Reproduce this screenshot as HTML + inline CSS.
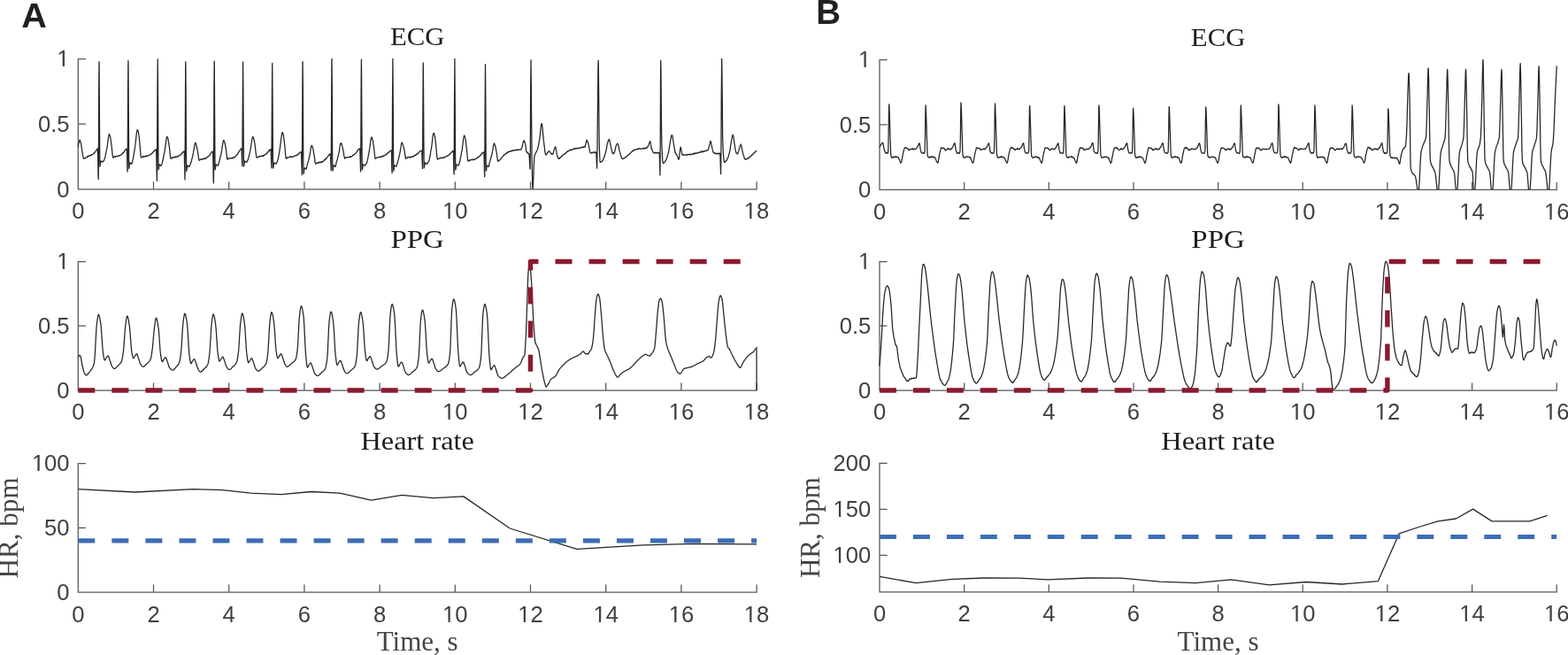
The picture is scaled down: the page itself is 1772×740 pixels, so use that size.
<!DOCTYPE html>
<html><head><meta charset="utf-8"><title>ECG PPG Heart rate</title>
<style>html,body{margin:0;padding:0;background:#fff;overflow:hidden;}svg{display:block;}</style>
</head><body>
<svg width="1772" height="740" viewBox="0 0 1772 740">
<rect x="0" y="0" width="1772" height="740" fill="#ffffff"/>
<defs>
<clipPath id="cecgA"><rect x="87.3" y="65.6" width="768.8000000000001" height="147.9"/></clipPath>
<clipPath id="cppgA"><rect x="87.3" y="294.5" width="768.8000000000001" height="146.1"/></clipPath>
<clipPath id="chrA"><rect x="87.3" y="522.5" width="768.8000000000001" height="146.30000000000004"/></clipPath>
<clipPath id="cecgB"><rect x="993.0" y="66.6" width="767.2" height="147.3"/></clipPath>
<clipPath id="cppgB"><rect x="993.0" y="294.5" width="767.2" height="146.1"/></clipPath>
<clipPath id="chrB"><rect x="993.0" y="522.4" width="767.2" height="146.1"/></clipPath>
</defs>
<path d="M88.3 66.6L88.3 213.9L855.1 213.9M88.3 213.9L96.3 213.9M88.3 140.2L96.3 140.2M88.3 66.6L96.3 66.6M88.3 213.9L88.3 205.9M173.5 213.9L173.5 205.9M258.7 213.9L258.7 205.9M343.9 213.9L343.9 205.9M429.1 213.9L429.1 205.9M514.3 213.9L514.3 205.9M599.5 213.9L599.5 205.9M684.7 213.9L684.7 205.9M769.9 213.9L769.9 205.9M855.1 213.9L855.1 205.9" fill="none" stroke="#555555" stroke-width="1.25" stroke-linecap="square"/>
<g font-family="'Liberation Sans', Arial, Helvetica, sans-serif" font-size="25.6" fill="#404040" clip-path="url(#nofoot)"><text x="64.36" y="222.7">0</text><text x="43.01" y="149.1">0.5</text><text x="64.36" y="75.4">1</text><text x="81.18" y="247.2">0</text><text x="166.38" y="247.2">2</text><text x="251.58" y="247.2">4</text><text x="336.78" y="247.2">6</text><text x="421.98" y="247.2">8</text><text x="500.06" y="247.2">10</text><text x="585.26" y="247.2">12</text><text x="670.46" y="247.2">14</text><text x="755.66" y="247.2">16</text><text x="840.86" y="247.2">18</text></g>
<path d="M88.3 295.5L88.3 441.0L855.1 441.0M88.3 441.0L96.3 441.0M88.3 368.2L96.3 368.2M88.3 295.5L96.3 295.5M88.3 441.0L88.3 433.0M173.5 441.0L173.5 433.0M258.7 441.0L258.7 433.0M343.9 441.0L343.9 433.0M429.1 441.0L429.1 433.0M514.3 441.0L514.3 433.0M599.5 441.0L599.5 433.0M684.7 441.0L684.7 433.0M769.9 441.0L769.9 433.0M855.1 441.0L855.1 433.0" fill="none" stroke="#555555" stroke-width="1.25" stroke-linecap="square"/>
<g font-family="'Liberation Sans', Arial, Helvetica, sans-serif" font-size="25.6" fill="#404040" clip-path="url(#nofoot)"><text x="64.36" y="449.8">0</text><text x="43.01" y="377.1">0.5</text><text x="64.36" y="304.3">1</text><text x="81.18" y="474.3">0</text><text x="166.38" y="474.3">2</text><text x="251.58" y="474.3">4</text><text x="336.78" y="474.3">6</text><text x="421.98" y="474.3">8</text><text x="500.06" y="474.3">10</text><text x="585.26" y="474.3">12</text><text x="670.46" y="474.3">14</text><text x="755.66" y="474.3">16</text><text x="840.86" y="474.3">18</text></g>
<path d="M88.3 523.5L88.3 669.2L855.1 669.2M88.3 669.2L96.3 669.2M88.3 596.4L96.3 596.4M88.3 523.5L96.3 523.5M88.3 669.2L88.3 661.2M173.5 669.2L173.5 661.2M258.7 669.2L258.7 661.2M343.9 669.2L343.9 661.2M429.1 669.2L429.1 661.2M514.3 669.2L514.3 661.2M599.5 669.2L599.5 661.2M684.7 669.2L684.7 661.2M769.9 669.2L769.9 661.2M855.1 669.2L855.1 661.2" fill="none" stroke="#555555" stroke-width="1.25" stroke-linecap="square"/>
<g font-family="'Liberation Sans', Arial, Helvetica, sans-serif" font-size="25.6" fill="#404040" clip-path="url(#nofoot)"><text x="64.36" y="678.0">0</text><text x="50.12" y="605.1">50</text><text x="35.89" y="532.3">100</text><text x="81.18" y="702.5">0</text><text x="166.38" y="702.5">2</text><text x="251.58" y="702.5">4</text><text x="336.78" y="702.5">6</text><text x="421.98" y="702.5">8</text><text x="500.06" y="702.5">10</text><text x="585.26" y="702.5">12</text><text x="670.46" y="702.5">14</text><text x="755.66" y="702.5">16</text><text x="840.86" y="702.5">18</text></g>
<text x="471.7" y="50.8" text-anchor="middle" font-family="'Liberation Serif', 'Times New Roman', serif" font-size="30" fill="#1e1e1e" textLength="61.5" lengthAdjust="spacingAndGlyphs">ECG</text>
<text x="471.7" y="279.7" text-anchor="middle" font-family="'Liberation Serif', 'Times New Roman', serif" font-size="30" fill="#1e1e1e" textLength="60.5" lengthAdjust="spacingAndGlyphs">PPG</text>
<text x="471.7" y="507.7" text-anchor="middle" font-family="'Liberation Serif', 'Times New Roman', serif" font-size="30" fill="#1e1e1e" textLength="128.5" lengthAdjust="spacingAndGlyphs">Heart rate</text>
<text x="471.7" y="734.5" text-anchor="middle" font-family="'Liberation Serif', 'Times New Roman', serif" font-size="31" fill="#454545" textLength="92" lengthAdjust="spacingAndGlyphs">Time, s</text>
<text transform="translate(20.0 596.4) rotate(-90)" x="0" y="0" text-anchor="middle" font-family="'Liberation Serif', 'Times New Roman', serif" font-size="31" fill="#454545" textLength="114" lengthAdjust="spacingAndGlyphs">HR, bpm</text>
<path d="M994.0 67.6L994.0 214.3L1759.2 214.3M994.0 214.3L1002.0 214.3M994.0 140.9L1002.0 140.9M994.0 67.6L1002.0 67.6M994.0 214.3L994.0 206.3M1089.7 214.3L1089.7 206.3M1185.3 214.3L1185.3 206.3M1281.0 214.3L1281.0 206.3M1376.6 214.3L1376.6 206.3M1472.2 214.3L1472.2 206.3M1567.9 214.3L1567.9 206.3M1663.6 214.3L1663.6 206.3M1759.2 214.3L1759.2 206.3" fill="none" stroke="#555555" stroke-width="1.25" stroke-linecap="square"/>
<g font-family="'Liberation Sans', Arial, Helvetica, sans-serif" font-size="25.6" fill="#404040" clip-path="url(#nofoot)"><text x="970.06" y="223.1">0</text><text x="948.71" y="149.8">0.5</text><text x="970.06" y="76.4">1</text><text x="986.88" y="247.6">0</text><text x="1082.53" y="247.6">2</text><text x="1178.18" y="247.6">4</text><text x="1273.83" y="247.6">6</text><text x="1369.48" y="247.6">8</text><text x="1458.01" y="247.6">10</text><text x="1553.66" y="247.6">12</text><text x="1649.31" y="247.6">14</text><text x="1744.96" y="247.6">16</text></g>
<path d="M994.0 295.5L994.0 441.0L1759.2 441.0M994.0 441.0L1002.0 441.0M994.0 368.2L1002.0 368.2M994.0 295.5L1002.0 295.5M994.0 441.0L994.0 433.0M1089.7 441.0L1089.7 433.0M1185.3 441.0L1185.3 433.0M1281.0 441.0L1281.0 433.0M1376.6 441.0L1376.6 433.0M1472.2 441.0L1472.2 433.0M1567.9 441.0L1567.9 433.0M1663.6 441.0L1663.6 433.0M1759.2 441.0L1759.2 433.0" fill="none" stroke="#555555" stroke-width="1.25" stroke-linecap="square"/>
<g font-family="'Liberation Sans', Arial, Helvetica, sans-serif" font-size="25.6" fill="#404040" clip-path="url(#nofoot)"><text x="970.06" y="449.8">0</text><text x="948.71" y="377.1">0.5</text><text x="970.06" y="304.3">1</text><text x="986.88" y="474.3">0</text><text x="1082.53" y="474.3">2</text><text x="1178.18" y="474.3">4</text><text x="1273.83" y="474.3">6</text><text x="1369.48" y="474.3">8</text><text x="1458.01" y="474.3">10</text><text x="1553.66" y="474.3">12</text><text x="1649.31" y="474.3">14</text><text x="1744.96" y="474.3">16</text></g>
<path d="M994.0 523.4L994.0 668.9L1759.2 668.9M994.0 627.3L1002.0 627.3M994.0 575.4L1002.0 575.4M994.0 523.4L1002.0 523.4M994.0 668.9L994.0 660.9M1089.7 668.9L1089.7 660.9M1185.3 668.9L1185.3 660.9M1281.0 668.9L1281.0 660.9M1376.6 668.9L1376.6 660.9M1472.2 668.9L1472.2 660.9M1567.9 668.9L1567.9 660.9M1663.6 668.9L1663.6 660.9M1759.2 668.9L1759.2 660.9" fill="none" stroke="#555555" stroke-width="1.25" stroke-linecap="square"/>
<g font-family="'Liberation Sans', Arial, Helvetica, sans-serif" font-size="25.6" fill="#404040" clip-path="url(#nofoot)"><text x="941.59" y="636.1">100</text><text x="941.59" y="584.2">150</text><text x="941.59" y="532.2">200</text><text x="986.88" y="702.2">0</text><text x="1082.53" y="702.2">2</text><text x="1178.18" y="702.2">4</text><text x="1273.83" y="702.2">6</text><text x="1369.48" y="702.2">8</text><text x="1458.01" y="702.2">10</text><text x="1553.66" y="702.2">12</text><text x="1649.31" y="702.2">14</text><text x="1744.96" y="702.2">16</text></g>
<text x="1376.6" y="51.8" text-anchor="middle" font-family="'Liberation Serif', 'Times New Roman', serif" font-size="30" fill="#1e1e1e" textLength="61.5" lengthAdjust="spacingAndGlyphs">ECG</text>
<text x="1376.6" y="279.7" text-anchor="middle" font-family="'Liberation Serif', 'Times New Roman', serif" font-size="30" fill="#1e1e1e" textLength="60.5" lengthAdjust="spacingAndGlyphs">PPG</text>
<text x="1376.6" y="507.6" text-anchor="middle" font-family="'Liberation Serif', 'Times New Roman', serif" font-size="30" fill="#1e1e1e" textLength="128.5" lengthAdjust="spacingAndGlyphs">Heart rate</text>
<text x="1376.6" y="734.5" text-anchor="middle" font-family="'Liberation Serif', 'Times New Roman', serif" font-size="31" fill="#454545" textLength="92" lengthAdjust="spacingAndGlyphs">Time, s</text>
<text transform="translate(926.0 596.1) rotate(-90)" x="0" y="0" text-anchor="middle" font-family="'Liberation Serif', 'Times New Roman', serif" font-size="31" fill="#454545" textLength="114" lengthAdjust="spacingAndGlyphs">HR, bpm</text>
<text x="24.2" y="30.8" font-family="'Liberation Sans', Arial, Helvetica, sans-serif" font-weight="bold" font-size="38.5" fill="#231f20" transform="translate(24.2 0) scale(1.03 1) translate(-24.2 0)">A</text>
<text x="922.3" y="26.5" font-family="'Liberation Sans', Arial, Helvetica, sans-serif" font-weight="bold" font-size="38.5" fill="#231f20">B</text>
<path d="M88.3 166.5L88.6 163.1L89.0 162.0L89.3 160.3L89.5 159.9L89.7 159.4L90.0 158.2L90.4 158.3L90.4 158.2L90.7 159.8L91.1 160.3L91.4 161.7L91.5 161.9L91.8 163.5L92.1 165.8L92.5 168.7L92.8 171.3L93.0 171.9L93.2 173.3L93.5 174.9L93.9 176.8L94.2 178.5L94.6 179.0L94.7 178.8L94.9 178.8L95.3 179.0L95.6 179.2L96.0 178.6L96.3 178.5L96.7 178.6L97.0 178.0L97.4 177.9L97.7 178.0L98.1 177.7L98.4 177.4L98.8 177.3L99.1 176.2L99.5 177.0L99.8 176.3L100.0 176.1L100.2 176.5L100.5 176.4L100.9 176.0L101.2 175.7L101.6 175.8L101.9 175.6L102.3 175.9L102.6 175.5L103.0 175.2L103.3 175.3L103.7 174.8L104.0 174.5L104.4 174.7L104.7 174.5L105.1 174.1L105.4 173.7L105.8 173.7L106.0 172.9L106.1 173.6L106.5 173.2L106.8 172.3L107.2 172.3L107.5 171.6L107.9 171.6L108.2 170.4L108.6 170.2L108.9 170.1L109.3 169.7L109.6 168.4L110.0 168.4L110.0 168.6L110.3 167.9L110.4 168.4L110.7 178.7L111.0 199.6L111.2 202.4L111.4 182.3L111.7 100.5L112.0 69.6L112.1 73.3L112.4 129.3L112.8 184.1L112.9 188.2L113.1 187.5L113.5 184.7L113.8 182.1L114.0 181.8L114.2 181.8L114.5 182.5L114.9 182.1L115.2 182.5L115.6 182.8L115.9 183.1L116.0 183.1L116.3 182.6L116.6 182.1L117.0 182.0L117.3 181.7L117.7 180.8L118.0 180.1L118.0 179.8L118.4 179.0L118.7 177.6L119.1 176.4L119.4 174.3L119.8 172.8L120.1 170.9L120.5 169.2L120.8 167.3L120.9 167.6L121.2 165.6L121.5 163.1L121.9 159.6L122.2 157.3L122.6 154.9L122.9 153.3L123.3 151.5L123.5 152.2L123.6 152.2L124.0 152.3L124.3 153.4L124.7 154.7L124.7 154.9L125.0 156.8L125.4 159.5L125.7 161.7L126.1 164.6L126.1 164.5L126.4 168.0L126.8 171.4L127.1 175.0L127.5 176.9L127.8 178.0L127.8 177.8L128.2 178.3L128.5 177.8L128.9 177.3L129.2 177.0L129.5 177.1L129.6 176.8L129.9 176.7L130.3 176.9L130.6 177.4L131.0 176.6L131.3 176.5L131.7 176.3L132.0 176.3L132.4 176.7L132.7 176.7L133.1 176.5L133.4 176.5L133.8 176.4L134.1 176.3L134.5 175.8L134.5 176.1L134.8 176.1L135.2 175.7L135.5 175.6L135.9 175.3L136.2 175.2L136.6 175.2L136.9 174.6L137.3 174.4L137.6 174.3L138.0 173.9L138.3 173.9L138.7 172.6L138.9 173.2L139.0 172.7L139.4 172.5L139.7 172.2L140.1 171.8L140.4 171.2L140.8 170.5L141.1 170.3L141.5 169.3L141.8 168.9L142.2 168.8L142.5 168.2L142.9 168.6L143.2 168.3L143.3 168.5L143.6 176.3L143.9 191.6L144.1 194.1L144.3 174.7L144.6 97.6L144.9 68.7L145.0 72.8L145.3 129.7L145.7 185.7L145.8 190.3L146.0 189.1L146.4 186.4L146.7 184.1L146.9 183.7L147.1 184.1L147.4 184.4L147.8 184.5L148.1 184.8L148.5 185.3L148.8 185.1L148.9 185.0L149.2 184.4L149.5 182.7L149.8 182.2L149.9 181.1L150.2 180.2L150.6 178.2L150.9 176.6L151.3 174.3L151.6 171.9L152.0 170.0L152.3 167.5L152.7 165.4L152.7 165.5L153.0 162.8L153.4 159.7L153.7 156.2L154.1 153.2L154.4 149.8L154.8 148.2L155.1 146.7L155.3 147.2L155.5 147.3L155.8 147.2L156.2 148.8L156.5 149.9L156.5 149.8L156.9 152.5L157.2 155.4L157.6 158.6L157.9 161.9L157.9 162.4L158.3 166.3L158.6 170.4L159.0 174.8L159.3 177.5L159.6 177.7L159.7 177.8L160.0 177.8L160.4 177.5L160.7 177.8L161.1 177.1L161.3 176.7L161.4 176.8L161.8 176.9L162.1 177.4L162.5 176.7L162.8 176.7L163.2 176.8L163.5 176.6L163.9 177.1L164.2 176.4L164.6 176.7L164.9 176.5L165.3 176.6L165.6 176.0L166.0 176.7L166.3 176.2L166.3 176.2L166.7 175.9L167.0 175.8L167.4 176.0L167.7 175.9L168.1 175.7L168.4 175.6L168.8 175.3L169.1 174.9L169.5 174.9L169.8 174.6L170.2 174.2L170.5 174.2L170.9 174.1L171.2 173.6L171.4 173.3L171.6 173.5L171.9 173.5L172.3 172.6L172.6 172.3L173.0 171.9L173.3 171.8L173.7 170.7L174.0 170.8L174.4 170.7L174.7 169.8L175.1 170.1L175.4 169.6L175.8 169.1L176.1 169.1L176.5 168.6L176.6 168.9L176.8 177.5L177.2 198.1L177.4 204.3L177.5 191.1L177.9 110.5L178.2 66.9L178.2 67.5L178.6 118.9L178.9 182.8L179.1 191.7L179.3 191.1L179.6 189.1L180.0 186.4L180.2 185.6L180.3 185.8L180.7 186.4L181.0 186.3L181.4 186.9L181.7 187.3L182.1 187.0L182.2 186.7L182.4 186.4L182.8 185.8L183.1 184.7L183.3 184.1L183.5 183.4L183.8 181.8L184.2 180.5L184.5 178.7L184.9 177.0L185.2 175.0L185.6 173.1L185.9 171.5L186.2 170.0L186.3 169.4L186.6 167.5L187.0 164.6L187.3 162.6L187.7 159.4L188.0 156.7L188.4 155.4L188.7 154.6L188.8 154.3L189.1 155.0L189.4 155.4L189.8 156.0L190.0 157.7L190.1 158.0L190.5 160.4L190.8 162.2L191.2 164.6L191.4 166.6L191.5 167.1L191.9 170.7L192.2 174.4L192.6 177.1L192.9 178.8L193.1 179.0L193.3 179.2L193.6 178.6L194.0 178.7L194.3 178.4L194.7 178.6L194.8 177.9L195.0 177.7L195.4 178.0L195.7 177.7L196.1 177.8L196.4 177.7L196.8 177.9L197.1 177.4L197.5 177.5L197.8 176.9L198.2 177.3L198.5 177.8L198.9 177.2L199.2 177.1L199.6 176.9L199.8 177.3L199.9 177.2L200.3 176.7L200.6 177.1L201.0 176.8L201.3 176.8L201.7 176.2L202.0 176.6L202.4 176.0L202.7 175.7L203.1 175.3L203.4 175.2L203.8 175.2L204.0 174.8L204.1 175.0L204.5 174.6L204.8 174.4L205.2 173.9L205.5 173.2L205.9 172.3L206.2 172.5L206.6 172.2L206.9 171.7L207.3 171.5L207.6 171.0L208.0 170.9L208.2 170.8L208.3 174.3L208.7 193.0L209.0 203.0L209.0 201.3L209.4 136.4L209.7 71.6L209.8 69.8L210.1 101.5L210.4 170.1L210.7 193.4L210.8 193.1L211.1 191.0L211.5 188.4L211.8 187.1L211.8 187.2L212.2 186.9L212.5 187.7L212.9 187.6L213.2 188.3L213.6 187.5L213.8 188.2L213.9 188.2L214.3 187.4L214.6 186.8L215.0 186.0L215.3 185.1L215.3 184.7L215.7 183.9L216.0 183.0L216.4 181.9L216.7 180.3L217.1 178.9L217.4 177.5L217.8 176.2L218.1 174.2L218.2 174.0L218.5 172.9L218.8 170.5L219.2 168.4L219.5 166.3L219.9 164.4L220.2 162.4L220.6 162.0L220.8 161.2L220.9 161.8L221.3 161.9L221.6 163.1L222.0 164.8L222.0 164.5L222.3 165.7L222.7 167.3L223.0 169.2L223.4 170.8L223.4 170.8L223.7 173.3L224.1 175.6L224.4 178.3L224.8 180.2L225.1 181.3L225.1 181.2L225.5 181.2L225.8 180.6L226.2 180.3L226.5 180.3L226.8 179.9L226.9 180.2L227.2 180.1L227.6 179.6L227.9 179.7L228.3 179.7L228.6 180.1L229.0 180.3L229.3 179.6L229.7 179.6L230.0 178.9L230.4 179.5L230.7 179.4L231.1 179.1L231.4 179.5L231.8 178.8L231.8 179.1L232.1 179.1L232.5 178.6L232.8 179.0L233.2 178.8L233.5 177.9L233.9 177.6L234.2 177.9L234.6 177.4L234.9 176.8L235.3 176.7L235.6 176.4L236.0 176.1L236.2 176.2L236.3 175.9L236.7 175.9L237.0 175.3L237.4 174.6L237.7 174.2L238.1 173.8L238.4 173.1L238.8 172.1L239.1 172.2L239.5 171.6L239.8 171.7L240.2 171.1L240.5 171.1L240.6 171.1L240.9 182.8L241.2 203.7L241.4 206.9L241.6 185.5L241.9 101.0L242.2 69.1L242.3 73.3L242.6 130.6L243.0 188.3L243.1 191.9L243.3 191.2L243.7 188.5L244.0 186.5L244.2 185.7L244.4 185.9L244.7 186.2L245.1 186.6L245.4 186.7L245.8 186.8L246.1 186.8L246.2 187.1L246.5 187.0L246.8 185.7L247.2 184.4L247.3 184.1L247.5 182.9L247.9 181.9L248.2 180.6L248.6 179.3L248.9 177.8L249.3 176.0L249.6 175.0L250.0 173.5L250.2 172.1L250.3 171.6L250.7 169.4L251.0 167.2L251.4 164.1L251.7 162.6L252.1 160.1L252.4 159.2L252.8 158.4L252.8 158.3L253.1 158.7L253.5 159.9L253.8 160.7L254.0 161.3L254.2 162.0L254.5 163.4L254.9 166.1L255.2 168.0L255.4 168.7L255.6 170.3L255.9 172.7L256.3 176.0L256.6 179.0L257.0 180.2L257.1 179.4L257.3 179.1L257.7 179.5L258.0 179.7L258.4 179.1L258.7 179.0L258.8 179.2L259.1 178.7L259.4 178.9L259.8 179.0L260.1 178.8L260.5 178.8L260.8 178.5L261.2 178.7L261.5 178.5L261.9 178.9L262.2 179.1L262.6 178.3L262.9 177.8L263.3 178.2L263.6 178.3L263.8 178.5L264.0 178.4L264.3 177.8L264.7 177.6L265.0 177.8L265.4 177.0L265.7 177.2L266.1 176.5L266.4 176.4L266.8 176.0L267.1 175.6L267.5 175.3L267.8 174.4L268.2 174.3L268.4 174.1L268.5 174.0L268.9 173.7L269.2 172.8L269.6 172.2L269.9 171.5L270.3 171.0L270.6 170.7L271.0 169.7L271.3 169.7L271.7 169.0L272.0 168.4L272.4 167.9L272.7 168.1L273.0 168.2L273.1 168.4L273.4 179.6L273.8 187.5L273.8 187.2L274.1 139.5L274.5 75.3L274.6 70.0L274.8 91.8L275.2 157.3L275.5 188.0L275.5 187.9L275.9 185.6L276.2 183.6L276.6 181.8L276.6 182.0L276.9 182.0L277.3 182.5L277.6 182.5L278.0 182.6L278.3 183.1L278.6 183.4L278.7 182.9L279.0 183.0L279.4 182.2L279.7 181.2L280.1 180.9L280.3 179.8L280.4 179.9L280.8 178.5L281.1 177.5L281.5 175.7L281.8 174.3L282.2 173.2L282.5 171.3L282.9 169.7L283.2 168.1L283.2 168.1L283.6 165.7L283.9 163.5L284.3 161.2L284.6 158.7L285.0 156.6L285.3 155.3L285.7 154.5L285.8 154.4L286.0 155.1L286.4 155.7L286.7 156.9L287.0 157.5L287.1 157.8L287.4 159.2L287.8 161.7L288.1 163.6L288.4 165.6L288.5 166.6L288.8 169.8L289.2 173.0L289.5 175.5L289.9 177.8L290.1 177.8L290.2 178.2L290.6 177.8L290.9 177.8L291.3 177.9L291.6 177.3L291.8 177.6L292.0 177.0L292.3 176.8L292.7 177.1L293.0 177.2L293.4 176.6L293.7 176.7L294.1 176.2L294.4 176.5L294.8 176.8L295.1 176.5L295.5 176.3L295.8 176.0L296.2 176.4L296.5 176.5L296.8 176.3L296.9 176.2L297.2 175.7L297.6 176.4L297.9 175.7L298.3 175.5L298.6 175.6L299.0 174.6L299.3 174.9L299.7 174.7L300.0 174.5L300.4 174.5L300.7 174.0L301.1 173.2L301.4 173.3L301.4 173.5L301.8 173.1L302.1 172.4L302.5 171.9L302.8 172.1L303.2 171.6L303.5 171.0L303.9 170.2L304.2 170.7L304.6 169.1L304.9 169.4L305.3 169.8L305.6 169.0L306.0 169.1L306.1 168.7L306.3 174.1L306.7 186.1L306.9 189.8L307.0 178.8L307.4 108.4L307.7 71.4L307.7 71.9L308.1 120.6L308.4 181.2L308.6 189.9L308.8 189.6L309.1 187.2L309.5 184.4L309.7 183.9L309.8 183.9L310.2 184.1L310.5 184.6L310.9 184.6L311.2 185.0L311.6 185.0L311.7 184.8L311.9 185.1L312.3 184.3L312.6 184.1L313.0 183.7L313.3 182.3L313.6 182.0L313.7 181.4L314.0 180.5L314.4 178.8L314.7 177.3L315.1 175.3L315.4 173.3L315.8 171.5L316.1 169.0L316.5 167.0L316.5 166.8L316.8 164.4L317.2 161.4L317.5 158.1L317.9 155.6L318.2 153.3L318.6 151.0L318.9 149.7L319.1 150.1L319.3 149.7L319.6 150.3L320.0 151.3L320.3 152.5L320.3 152.8L320.7 155.5L321.0 157.9L321.4 160.9L321.7 163.7L321.7 164.2L322.1 167.5L322.4 172.1L322.8 176.0L323.1 178.5L323.4 179.2L323.5 178.7L323.8 178.4L324.2 178.9L324.5 178.6L324.9 177.7L325.1 178.1L325.2 178.0L325.6 178.0L325.9 177.9L326.3 177.6L326.6 177.7L327.0 177.7L327.3 177.6L327.7 177.1L328.0 176.8L328.4 177.3L328.7 177.0L329.1 177.4L329.4 177.5L329.8 177.3L330.1 177.1L330.1 177.2L330.5 177.4L330.8 176.8L331.2 177.1L331.5 177.0L331.9 176.8L332.2 176.9L332.6 176.3L332.9 176.5L333.3 175.9L333.6 175.8L334.0 175.6L334.3 175.8L334.7 175.3L335.0 175.4L335.3 175.0L335.4 175.5L335.7 175.5L336.1 174.9L336.4 175.0L336.8 174.4L337.1 174.5L337.5 173.7L337.8 173.0L338.2 173.5L338.5 172.8L338.9 172.3L339.2 172.2L339.6 171.8L339.9 172.0L340.3 171.7L340.5 172.4L340.6 174.6L341.0 189.3L341.3 197.5L341.3 196.3L341.7 133.3L342.0 71.1L342.1 69.7L342.4 102.3L342.7 172.0L343.0 196.1L343.1 196.2L343.4 194.2L343.8 191.1L344.1 190.2L344.1 189.8L344.5 190.2L344.8 190.1L345.2 190.8L345.5 190.5L345.9 190.7L346.1 191.0L346.2 190.9L346.6 188.6L346.8 187.9L346.9 187.4L347.3 186.1L347.6 184.6L348.0 183.6L348.3 182.3L348.7 181.4L349.0 179.9L349.4 178.1L349.7 176.6L349.7 177.0L350.1 175.5L350.4 173.0L350.8 170.9L351.1 168.4L351.5 166.2L351.8 165.3L352.2 164.5L352.3 164.6L352.5 164.3L352.9 165.5L353.2 166.4L353.5 167.6L353.6 167.6L353.9 169.0L354.3 170.8L354.6 173.1L354.9 174.2L355.0 174.6L355.3 177.1L355.7 180.1L356.0 183.4L356.4 184.2L356.6 184.8L356.7 185.1L357.1 185.1L357.4 184.5L357.8 184.5L358.1 184.2L358.3 184.2L358.5 184.0L358.8 184.3L359.2 183.9L359.5 184.1L359.9 183.4L360.2 183.9L360.6 183.3L360.9 183.2L361.3 183.7L361.6 183.3L362.0 183.6L362.3 183.1L362.7 183.7L363.0 183.3L363.3 182.9L363.4 183.2L363.7 183.3L364.1 182.7L364.4 182.8L364.8 183.0L365.1 182.5L365.5 182.0L365.8 181.6L366.2 181.6L366.5 180.8L366.9 180.1L367.2 180.3L367.6 179.9L367.9 180.3L368.3 179.6L368.4 179.3L368.6 178.9L369.0 179.0L369.3 178.2L369.7 177.8L370.0 177.4L370.4 176.9L370.7 176.4L371.1 175.9L371.4 175.8L371.8 175.4L372.1 174.2L372.5 175.0L372.8 174.2L373.2 174.3L373.4 173.8L373.5 175.8L373.9 186.7L374.2 192.5L374.2 191.3L374.6 129.7L374.9 67.7L375.0 66.5L375.3 99.5L375.6 169.3L375.9 192.9L376.0 192.8L376.3 190.8L376.7 187.8L377.0 186.7L377.0 187.4L377.4 187.0L377.7 187.4L378.1 187.4L378.4 188.2L378.8 188.4L379.0 188.0L379.1 188.0L379.5 186.2L379.8 185.5L379.8 185.1L380.2 183.3L380.5 182.6L380.9 181.1L381.2 179.9L381.6 178.6L381.9 177.1L382.3 175.7L382.6 174.6L382.7 174.2L383.0 172.5L383.3 171.2L383.7 168.3L384.0 166.0L384.4 163.9L384.7 162.7L385.1 161.8L385.3 161.5L385.4 161.7L385.8 161.8L386.1 163.2L386.5 164.3L386.5 164.4L386.8 165.7L387.2 166.3L387.5 169.0L387.9 169.5L387.9 169.8L388.2 171.9L388.6 174.4L388.9 176.7L389.3 177.7L389.6 178.7L389.6 179.2L390.0 178.7L390.3 178.4L390.7 177.8L391.0 178.4L391.3 178.1L391.4 177.8L391.7 177.9L392.1 177.8L392.4 177.5L392.8 177.6L393.1 177.7L393.5 177.8L393.8 177.9L394.2 177.6L394.5 177.4L394.9 177.6L395.2 177.3L395.6 177.0L395.9 177.6L396.3 177.1L396.3 177.2L396.6 177.3L397.0 176.7L397.3 176.9L397.7 176.7L398.0 176.3L398.4 176.2L398.7 175.7L399.1 175.0L399.4 175.2L399.8 174.8L400.1 174.9L400.5 174.5L400.8 174.0L401.2 173.8L401.5 173.8L401.5 173.8L401.9 173.3L402.2 172.9L402.6 172.3L402.9 171.9L403.3 171.6L403.6 170.9L404.0 170.5L404.3 169.7L404.7 169.1L405.0 168.7L405.4 168.6L405.7 168.8L406.1 168.5L406.4 167.8L406.8 167.6L406.8 168.2L407.1 178.5L407.5 192.2L407.6 193.9L407.8 164.3L408.2 87.2L408.4 67.2L408.5 76.6L408.9 140.0L409.2 190.7L409.3 191.9L409.6 190.7L409.9 188.4L410.3 185.9L410.4 185.6L410.6 186.2L411.0 186.5L411.3 186.8L411.7 187.0L412.0 186.5L412.4 186.8L412.4 186.9L412.7 186.9L413.1 186.0L413.4 186.0L413.8 185.4L414.1 184.3L414.4 184.0L414.5 184.1L414.8 182.7L415.2 181.7L415.5 180.1L415.9 178.2L416.2 176.4L416.6 174.3L416.9 172.7L417.3 170.4L417.3 170.4L417.6 168.6L418.0 165.7L418.3 163.2L418.7 160.6L419.0 158.0L419.4 156.2L419.7 155.4L419.9 155.3L420.1 154.8L420.4 155.6L420.8 157.4L421.1 158.2L421.1 157.8L421.5 159.6L421.8 162.1L422.2 164.3L422.5 166.7L422.5 166.9L422.9 170.0L423.2 172.9L423.6 176.5L423.9 179.0L424.2 178.8L424.3 179.3L424.6 179.1L425.0 178.8L425.3 178.3L425.7 177.8L425.9 177.8L426.0 178.2L426.4 178.1L426.7 178.1L427.1 178.0L427.4 177.9L427.8 177.5L428.1 177.3L428.5 177.6L428.8 177.7L429.2 177.5L429.5 177.1L429.9 177.3L430.2 177.0L430.6 177.3L430.9 176.9L430.9 177.2L431.3 177.2L431.6 177.0L432.0 177.2L432.3 176.5L432.7 176.0L433.0 176.7L433.4 176.6L433.7 176.4L434.1 175.9L434.4 175.8L434.8 175.5L435.1 175.0L435.5 174.9L435.8 175.0L436.2 174.5L436.5 174.9L436.6 174.0L436.9 174.1L437.2 174.2L437.6 173.5L437.9 173.0L438.3 172.6L438.6 172.4L439.0 172.6L439.3 172.0L439.7 171.7L440.0 171.1L440.4 171.1L440.7 170.6L441.1 170.2L441.4 170.1L441.8 170.1L442.1 170.3L442.3 170.0L442.5 174.2L442.8 190.3L443.1 195.6L443.2 189.9L443.5 119.3L443.9 66.6L443.9 66.5L444.2 109.1L444.6 177.0L444.8 193.1L444.9 192.6L445.3 190.6L445.6 187.5L445.9 186.8L446.0 187.0L446.3 187.0L446.7 187.5L447.0 187.6L447.4 187.7L447.7 188.0L447.9 187.9L448.1 187.4L448.4 186.2L448.8 184.8L448.8 184.9L449.1 183.8L449.5 182.8L449.8 181.4L450.2 180.4L450.5 179.0L450.9 177.3L451.2 176.3L451.6 174.7L451.7 173.9L451.9 172.9L452.3 171.0L452.6 168.5L453.0 166.4L453.3 164.1L453.7 162.5L454.0 161.2L454.3 161.1L454.4 161.0L454.7 161.8L455.1 162.3L455.4 163.9L455.5 164.3L455.8 165.1L456.1 166.3L456.5 167.9L456.8 169.1L456.9 169.3L457.2 171.1L457.5 173.7L457.9 176.5L458.2 178.0L458.6 179.3L458.6 178.6L458.9 178.7L459.3 178.7L459.6 178.7L460.0 178.0L460.3 177.5L460.3 178.1L460.7 177.9L461.0 177.6L461.4 177.5L461.7 177.5L462.1 177.7L462.4 177.8L462.8 177.2L463.1 178.1L463.5 177.5L463.8 177.4L464.2 177.6L464.5 177.4L464.9 177.9L465.2 177.5L465.3 177.1L465.6 177.0L465.9 176.9L466.3 176.8L466.6 176.9L467.0 176.5L467.3 176.9L467.7 176.3L468.0 176.1L468.4 176.2L468.7 175.2L469.1 175.3L469.4 175.5L469.8 175.1L470.1 174.9L470.5 174.8L470.8 174.4L471.0 174.4L471.2 173.9L471.5 173.6L471.9 174.0L472.2 173.2L472.6 172.9L472.9 173.1L473.3 172.6L473.6 171.9L474.0 171.5L474.3 171.3L474.7 170.7L475.0 170.8L475.4 170.5L475.7 170.3L476.1 170.3L476.4 170.2L476.7 170.5L476.8 171.3L477.1 181.6L477.5 190.4L477.5 189.9L477.8 141.5L478.2 76.5L478.3 71.0L478.5 93.5L478.9 159.5L479.2 189.8L479.2 189.7L479.6 188.3L479.9 185.8L480.3 184.1L480.3 183.6L480.6 183.9L481.0 184.3L481.3 185.0L481.7 185.0L482.0 185.2L482.3 185.3L482.4 184.9L482.7 185.0L483.1 184.7L483.4 183.8L483.8 183.5L484.1 183.0L484.5 181.9L484.6 182.2L484.8 181.6L485.2 180.4L485.5 178.4L485.9 176.8L486.2 175.1L486.6 172.9L486.9 170.3L487.3 168.4L487.5 167.6L487.6 166.3L488.0 163.8L488.3 161.4L488.7 157.8L489.0 154.9L489.4 152.4L489.7 150.8L490.1 150.8L490.1 150.4L490.4 150.5L490.8 151.4L491.1 152.8L491.3 153.6L491.5 154.2L491.8 157.1L492.2 160.0L492.5 163.5L492.7 164.8L492.9 166.8L493.2 170.5L493.6 174.7L493.9 178.2L494.3 179.6L494.4 180.0L494.6 180.1L495.0 180.0L495.3 179.5L495.7 179.2L496.0 179.1L496.1 178.8L496.4 178.9L496.7 178.9L497.1 178.8L497.4 178.5L497.8 178.6L498.1 178.1L498.5 178.8L498.8 178.4L499.2 178.6L499.5 178.2L499.9 178.4L500.2 178.5L500.6 178.6L500.9 177.9L501.1 178.4L501.3 178.1L501.6 177.8L502.0 178.0L502.3 177.7L502.7 177.6L503.0 177.3L503.4 177.4L503.7 177.1L504.1 176.9L504.4 176.5L504.8 176.4L505.1 176.4L505.5 176.4L505.8 175.9L506.2 176.1L506.5 175.5L506.7 175.1L506.9 175.4L507.2 174.8L507.6 174.8L507.9 174.6L508.3 173.9L508.6 173.6L509.0 173.9L509.3 173.0L509.7 172.6L510.0 172.4L510.4 171.9L510.7 171.6L511.1 171.5L511.4 170.6L511.8 171.4L512.1 170.7L512.3 170.7L512.5 175.2L512.8 191.2L513.1 197.0L513.2 191.7L513.5 119.6L513.9 66.7L513.9 66.5L514.2 108.7L514.6 176.3L514.8 192.0L514.9 191.8L515.3 189.6L515.6 186.8L515.9 185.8L516.0 185.9L516.3 186.5L516.7 186.4L517.0 186.7L517.4 186.8L517.7 187.0L517.9 187.1L518.1 186.9L518.4 186.2L518.8 185.1L519.1 183.9L519.2 184.1L519.5 183.2L519.8 181.8L520.2 180.0L520.5 178.1L520.9 176.6L521.2 174.6L521.6 172.1L521.9 170.7L522.1 169.8L522.3 168.9L522.6 165.6L523.0 162.7L523.3 160.3L523.7 157.0L524.0 155.1L524.4 153.6L524.7 153.1L524.7 152.9L525.1 153.8L525.4 155.0L525.8 156.1L525.9 156.5L526.1 157.5L526.5 160.5L526.8 163.4L527.2 166.6L527.3 166.8L527.5 169.6L527.9 173.2L528.2 177.5L528.6 180.6L528.9 181.7L529.0 182.0L529.3 182.2L529.6 181.8L530.0 181.6L530.3 181.0L530.7 180.8L530.7 180.7L531.0 180.9L531.4 181.1L531.7 180.9L532.1 180.7L532.4 180.4L532.8 180.7L533.1 180.5L533.5 180.1L533.8 180.1L534.2 180.4L534.5 180.2L534.9 180.8L535.2 180.3L535.6 180.0L535.7 180.1L535.9 180.5L536.3 179.8L536.6 180.1L537.0 179.8L537.3 179.9L537.7 179.5L538.0 179.1L538.4 179.1L538.7 178.7L539.1 178.7L539.4 178.2L539.8 178.5L540.1 177.7L540.5 177.6L540.8 177.1L541.2 177.1L541.3 177.0L541.5 176.8L541.9 176.7L542.2 176.0L542.6 175.5L542.9 175.6L543.3 174.9L543.6 174.3L544.0 174.4L544.3 173.9L544.7 172.7L545.0 172.9L545.4 172.9L545.7 172.6L546.1 172.1L546.4 172.5L546.8 171.8L546.9 171.9L547.1 178.4L547.5 195.2L547.7 199.7L547.8 188.0L548.2 112.5L548.5 72.7L548.5 73.2L548.9 122.6L549.2 184.5L549.4 193.0L549.6 192.7L549.9 189.9L550.3 187.5L550.5 187.0L550.6 187.1L551.0 187.1L551.3 187.4L551.7 187.8L552.0 188.2L552.4 188.0L552.5 188.2L552.7 187.0L553.0 184.7L553.1 184.1L553.4 183.4L553.8 182.0L554.1 180.5L554.5 179.5L554.8 178.0L555.2 176.8L555.5 176.0L555.9 174.2L555.9 174.8L556.2 172.7L556.6 170.9L556.9 169.0L557.3 166.9L557.6 164.4L558.0 163.3L558.3 161.9L558.5 162.0L558.7 162.3L559.0 163.3L559.4 164.0L559.7 165.2L559.7 165.3L560.1 166.3L560.4 168.2L560.8 170.4L561.1 171.5L561.1 172.0L561.5 174.5L561.8 176.9L562.2 180.0L562.5 181.9L562.8 182.4L562.9 182.3L563.2 181.8L563.6 181.5L563.9 181.2L564.3 180.9L564.5 180.8L564.6 181.1L565.0 181.0L565.3 180.1L565.7 180.1L566.0 179.2L566.4 179.0L566.7 178.5L567.1 177.9L567.4 177.9L567.8 177.4L568.1 176.9L568.5 176.4L568.8 175.9L569.2 175.7L569.5 175.2L569.9 175.1L570.2 174.4L570.5 174.6L570.6 174.6L570.9 174.5L571.3 174.2L571.6 173.7L572.0 173.3L572.3 172.7L572.7 173.0L573.0 173.1L573.4 173.0L573.7 171.7L574.1 172.0L574.4 171.9L574.8 171.5L575.1 171.7L575.5 171.5L575.8 171.2L576.2 171.1L576.5 170.6L576.6 170.8L576.9 170.7L577.2 171.0L577.6 170.2L577.9 170.4L578.3 170.6L578.6 170.2L579.0 170.3L579.3 169.8L579.7 170.0L580.0 170.0L580.4 170.3L580.7 169.8L581.1 169.9L581.4 169.5L581.8 169.4L582.1 169.7L582.5 169.5L582.6 169.7L582.8 169.5L583.2 169.8L583.5 169.8L583.9 169.0L584.2 169.7L584.6 169.3L584.9 169.3L585.3 169.2L585.6 169.4L586.0 168.9L586.3 169.0L586.7 169.0L587.0 169.2L587.4 169.3L587.7 169.3L588.1 169.1L588.4 168.9L588.5 168.6L588.8 168.9L589.1 168.2L589.5 167.4L589.8 166.7L590.2 165.2L590.3 165.0L590.5 163.6L590.9 162.7L591.2 161.0L591.6 159.5L591.9 159.1L592.0 158.7L592.3 159.0L592.6 160.1L593.0 160.5L593.3 161.5L593.6 162.2L593.7 162.6L594.0 164.8L594.4 168.4L594.7 170.5L595.0 171.7L595.1 171.6L595.4 172.1L595.8 171.9L596.1 172.2L596.5 173.3L596.8 173.4L597.2 173.2L597.5 173.6L597.9 174.4L598.0 174.2L598.2 177.4L598.6 184.2L598.9 190.6L599.1 190.9L599.3 176.4L599.6 109.6L600.0 68.4L600.0 67.8L600.3 92.2L600.7 139.4L601.0 170.1L601.0 173.4L601.4 193.4L601.7 208.6L602.1 214.4L602.1 214.7L602.4 210.3L602.8 201.0L603.0 196.1L603.1 192.7L603.5 183.5L603.8 177.8L603.9 177.8L604.2 175.8L604.5 174.8L604.9 174.1L605.2 172.8L605.6 172.5L605.9 171.6L606.3 171.4L606.6 170.6L607.0 170.0L607.3 169.1L607.4 169.0L607.7 168.0L608.0 166.0L608.4 165.4L608.7 163.2L609.1 161.1L609.4 159.2L609.8 157.4L609.8 157.0L610.1 154.7L610.5 151.4L610.8 148.2L611.2 144.6L611.5 142.1L611.9 140.2L612.2 139.5L612.2 139.8L612.6 140.7L612.9 143.0L613.3 146.9L613.6 150.9L614.0 154.9L614.3 158.4L614.5 160.2L614.7 161.2L615.0 164.2L615.4 167.0L615.7 170.2L616.1 172.3L616.4 173.9L616.8 174.6L616.9 175.1L617.1 175.1L617.5 174.2L617.8 173.8L618.2 173.6L618.5 173.1L618.8 172.2L618.9 172.3L619.2 172.2L619.6 171.4L619.9 171.0L620.3 170.8L620.5 170.6L620.6 170.9L621.0 171.2L621.3 171.2L621.7 172.1L622.0 172.8L622.4 173.0L622.5 173.2L622.7 173.1L623.1 173.9L623.4 173.6L623.8 174.6L624.1 174.2L624.5 174.2L624.6 174.2L624.8 174.1L625.2 173.1L625.5 171.7L625.9 170.3L626.2 169.3L626.3 169.2L626.6 168.1L626.9 167.4L627.3 166.1L627.6 165.8L627.6 165.8L628.0 167.1L628.3 168.3L628.7 170.5L629.0 173.2L629.3 174.4L629.4 174.7L629.7 175.3L630.1 177.1L630.4 178.4L630.8 179.0L631.1 178.8L631.1 179.1L631.5 178.7L631.8 178.7L632.2 179.4L632.5 178.8L632.9 178.0L633.2 177.7L633.6 177.9L633.9 177.3L634.3 177.2L634.6 176.6L635.0 176.3L635.3 176.1L635.7 175.5L635.9 175.1L636.0 175.2L636.4 175.0L636.7 174.9L637.1 174.6L637.4 174.3L637.8 174.1L638.1 173.5L638.5 173.7L638.8 173.6L639.2 172.9L639.5 172.5L639.9 172.5L640.2 172.1L640.6 171.7L640.9 171.4L641.3 171.0L641.6 170.7L641.8 171.1L642.0 171.1L642.3 170.3L642.7 170.4L643.0 170.3L643.4 170.0L643.7 169.7L644.1 169.7L644.4 169.1L644.8 169.5L645.1 169.3L645.5 169.7L645.8 169.3L646.2 168.9L646.5 168.8L646.9 169.2L647.2 169.0L647.6 168.6L647.7 168.5L647.9 168.1L648.3 168.3L648.6 168.2L649.0 168.0L649.3 168.5L649.7 167.6L650.0 167.9L650.4 168.0L650.7 168.0L651.1 168.2L651.4 167.4L651.8 167.5L652.1 167.6L652.5 167.6L652.8 167.4L653.2 167.3L653.5 167.7L653.9 167.1L654.2 167.1L654.6 167.6L654.9 167.6L655.3 167.3L655.6 166.8L656.0 166.7L656.3 166.7L656.7 166.5L657.0 166.6L657.2 167.0L657.4 166.7L657.7 166.4L658.1 166.3L658.4 166.2L658.8 166.7L659.1 165.8L659.5 166.3L659.8 165.8L660.2 165.8L660.5 165.5L660.9 166.0L661.2 165.5L661.3 166.2L661.6 164.6L661.9 162.9L662.3 161.4L662.6 159.6L663.0 158.4L663.1 157.9L663.3 158.9L663.7 159.2L664.0 160.1L664.4 160.9L664.7 162.4L665.0 162.9L665.1 163.3L665.4 164.8L665.8 167.0L666.1 168.6L666.5 170.5L666.8 172.2L667.2 172.7L667.3 172.7L667.5 172.6L667.9 172.9L668.2 172.5L668.6 172.7L668.9 173.1L669.3 172.7L669.6 172.3L670.0 172.2L670.0 172.5L670.3 172.1L670.7 172.0L671.0 172.2L671.4 172.0L671.7 172.5L672.1 171.9L672.4 172.6L672.8 171.9L673.1 172.1L673.5 172.3L673.8 172.1L673.8 172.5L674.2 180.9L674.5 189.4L674.6 190.1L674.9 178.5L675.2 146.1L675.6 107.3L675.9 76.5L676.2 68.4L676.3 70.5L676.6 103.3L677.0 145.7L677.2 159.6L677.3 165.5L677.7 175.9L678.0 182.5L678.2 183.1L678.4 183.4L678.7 183.3L679.1 182.9L679.4 182.7L679.8 182.6L680.1 182.6L680.5 182.2L680.5 182.0L680.8 181.7L681.2 181.5L681.5 180.1L681.9 179.9L682.2 178.7L682.6 178.4L682.9 176.9L683.3 176.0L683.6 174.6L684.0 173.7L684.3 172.7L684.5 172.4L684.7 170.9L685.0 169.4L685.4 168.5L685.7 165.7L686.1 163.6L686.4 162.3L686.5 161.3L686.8 161.5L687.1 160.0L687.5 158.6L687.8 158.5L688.2 157.6L688.4 157.4L688.5 157.9L688.9 158.6L689.2 159.8L689.6 161.6L689.9 163.1L690.3 164.8L690.5 166.2L690.6 166.9L691.0 168.4L691.3 170.1L691.7 171.5L692.0 172.8L692.4 173.2L692.5 173.9L692.7 173.3L693.1 173.4L693.4 173.1L693.8 172.4L694.1 172.9L694.5 171.9L694.5 171.8L694.8 171.2L695.2 169.4L695.5 167.9L695.9 165.9L696.2 164.8L696.5 164.0L696.6 163.5L696.9 163.5L697.3 162.7L697.6 162.0L698.0 162.2L698.1 162.2L698.3 162.8L698.7 163.3L699.0 165.5L699.4 167.2L699.7 169.2L700.0 169.9L700.1 170.3L700.4 171.7L700.8 172.5L701.1 173.6L701.5 175.3L701.8 176.4L702.2 177.5L702.5 178.5L702.9 178.9L703.2 179.6L703.5 179.4L703.6 179.4L703.9 179.6L704.3 179.4L704.6 179.1L705.0 179.0L705.3 178.6L705.7 178.4L706.0 178.4L706.4 178.3L706.7 177.7L707.1 177.7L707.4 177.7L707.8 177.4L708.1 176.6L708.5 176.5L708.8 176.1L709.2 175.8L709.5 175.6L709.9 175.2L710.0 175.2L710.2 174.9L710.6 174.5L710.9 174.3L711.3 174.1L711.6 173.9L712.0 173.4L712.3 173.2L712.7 173.0L713.0 172.1L713.4 171.9L713.7 171.8L714.1 171.4L714.4 170.8L714.8 171.0L715.1 170.5L715.5 170.0L715.8 170.5L716.2 169.5L716.5 169.7L716.9 169.3L716.9 169.5L717.2 169.5L717.6 169.1L717.9 169.1L718.3 169.0L718.6 168.7L719.0 169.1L719.3 168.8L719.7 168.6L720.0 168.4L720.4 168.4L720.7 168.5L721.1 168.2L721.4 168.6L721.8 167.6L722.0 167.7L722.1 168.1L722.5 167.7L722.8 168.1L723.2 167.9L723.5 168.2L723.9 168.1L724.2 168.3L724.6 168.2L724.9 168.3L725.3 168.1L725.6 168.2L726.0 168.0L726.3 167.7L726.7 167.6L727.0 167.6L727.4 168.0L727.7 167.2L728.1 167.8L728.4 167.5L728.8 167.9L729.1 167.7L729.5 167.4L729.8 167.5L730.0 166.9L730.2 167.5L730.5 167.4L730.9 166.5L731.2 166.9L731.6 166.2L731.9 165.8L732.3 164.8L732.6 164.8L733.0 164.2L733.0 164.0L733.3 162.8L733.7 162.0L734.0 160.8L734.4 159.8L734.6 159.8L734.7 159.5L735.1 160.9L735.4 163.0L735.8 165.2L736.1 167.6L736.2 167.1L736.5 167.8L736.8 169.3L737.2 169.9L737.5 171.2L737.9 172.0L738.2 172.2L738.5 172.3L738.6 172.2L738.9 172.5L739.3 172.3L739.6 173.0L740.0 172.7L740.3 172.5L740.7 172.2L741.0 173.1L741.4 172.9L741.7 172.7L742.1 172.7L742.4 172.7L742.8 172.5L743.1 173.1L743.5 172.7L743.8 172.3L744.2 172.5L744.5 172.1L744.9 172.9L745.2 173.0L745.2 173.6L745.6 185.8L745.9 197.3L746.0 197.8L746.3 147.2L746.6 70.7L746.7 68.5L747.0 83.8L747.3 122.4L747.7 155.9L747.8 160.0L748.0 166.6L748.4 174.5L748.7 180.4L749.1 183.6L749.3 184.2L749.4 184.4L749.8 184.3L750.1 184.3L750.5 184.0L750.8 183.6L751.2 182.7L751.5 182.7L751.9 182.4L752.0 181.7L752.2 181.4L752.6 180.8L752.9 180.1L753.3 179.4L753.6 178.3L754.0 177.5L754.3 176.0L754.7 175.0L755.0 173.6L755.4 172.2L755.5 172.3L755.7 170.9L756.1 169.0L756.4 166.5L756.8 164.4L757.1 162.1L757.5 160.0L757.5 159.6L757.8 158.4L758.2 156.4L758.5 154.5L758.9 153.2L759.2 152.6L759.3 152.6L759.6 152.6L759.9 154.1L760.3 156.0L760.6 157.9L761.0 160.1L761.3 162.5L761.3 162.4L761.7 164.4L762.0 166.8L762.4 168.6L762.7 170.8L763.0 172.0L763.1 172.6L763.4 172.4L763.8 173.2L764.1 174.3L764.5 174.4L764.8 174.9L765.0 175.3L765.2 175.4L765.5 176.4L765.9 177.7L766.2 178.8L766.6 179.2L766.9 180.3L767.1 179.6L767.3 179.5L767.6 178.5L768.0 174.5L768.3 171.5L768.7 168.1L769.0 166.5L769.2 166.2L769.4 166.5L769.7 168.1L770.1 170.3L770.4 172.2L770.8 174.1L771.1 174.5L771.2 175.0L771.5 174.8L771.8 175.1L772.2 174.7L772.5 174.8L772.9 175.2L773.2 175.1L773.6 175.0L773.9 174.8L774.3 174.9L774.6 175.1L775.0 175.2L775.3 174.9L775.7 174.9L776.0 175.1L776.0 174.7L776.4 175.2L776.7 175.0L777.1 174.9L777.4 174.3L777.8 174.5L778.1 174.6L778.5 174.7L778.8 174.5L779.2 174.8L779.5 174.7L779.9 174.5L780.2 174.0L780.6 174.8L780.9 174.3L781.3 174.5L781.6 174.1L782.0 174.2L782.3 174.3L782.7 174.1L783.0 174.2L783.4 173.8L783.7 174.3L784.1 173.2L784.4 173.5L784.8 173.8L785.0 173.4L785.1 173.4L785.5 173.0L785.8 173.6L786.2 172.8L786.5 173.3L786.9 173.1L787.2 173.2L787.6 173.3L787.9 172.7L788.3 172.6L788.6 172.6L789.0 172.2L789.3 172.7L789.7 172.3L790.0 172.4L790.4 172.0L790.7 172.1L791.1 171.9L791.4 171.9L791.8 171.6L792.1 172.0L792.5 171.5L792.8 170.9L793.2 171.6L793.5 171.3L793.9 171.1L794.2 171.8L794.6 171.1L794.9 170.7L795.0 170.8L795.3 171.0L795.6 170.8L796.0 171.1L796.3 171.0L796.7 170.4L797.0 170.6L797.4 170.6L797.7 170.3L798.1 170.2L798.4 170.4L798.8 170.2L799.1 169.6L799.5 169.6L799.8 169.5L800.0 169.5L800.2 169.1L800.5 168.8L800.9 167.1L801.2 165.8L801.6 164.8L801.8 163.4L801.9 163.1L802.3 161.9L802.6 159.8L803.0 159.3L803.0 159.8L803.3 160.2L803.7 161.5L804.0 163.4L804.4 165.0L804.6 166.1L804.7 166.5L805.1 168.7L805.4 169.7L805.8 170.9L806.1 172.0L806.5 172.5L806.5 172.1L806.8 172.5L807.2 173.2L807.5 172.7L807.9 173.0L808.2 173.5L808.6 173.7L808.9 173.1L809.3 173.8L809.6 173.4L810.0 173.9L810.0 173.6L810.3 173.4L810.7 173.7L811.0 173.6L811.4 173.3L811.7 174.0L812.1 173.4L812.4 173.8L812.8 173.4L813.1 173.0L813.5 173.2L813.8 173.5L813.8 173.9L814.2 185.5L814.5 196.4L814.6 196.5L814.9 172.6L815.2 114.2L815.6 70.0L815.7 66.3L815.9 78.4L816.3 116.4L816.6 153.1L816.8 159.8L817.0 164.8L817.3 172.0L817.7 177.2L818.0 181.1L818.4 182.9L818.5 183.3L818.7 183.3L819.1 183.4L819.4 182.7L819.8 182.2L820.1 182.3L820.5 181.9L820.8 181.5L821.2 181.2L821.5 180.3L821.5 180.6L821.9 179.6L822.2 179.2L822.6 178.5L822.9 177.3L823.3 176.4L823.6 174.8L824.0 173.7L824.3 172.6L824.5 171.7L824.7 170.9L825.0 169.8L825.4 167.0L825.7 164.4L826.1 162.0L826.4 160.6L826.5 159.3L826.8 158.2L827.1 156.4L827.5 154.2L827.8 153.1L828.2 152.2L828.2 152.5L828.5 153.1L828.9 154.7L829.2 157.0L829.6 159.4L829.9 162.0L830.0 161.9L830.3 163.7L830.6 166.3L831.0 168.8L831.3 170.6L831.7 171.8L831.8 172.1L832.0 172.8L832.4 172.9L832.7 173.1L833.1 174.1L833.4 173.7L833.5 173.4L833.8 173.1L834.1 172.8L834.5 171.2L834.8 170.4L835.2 169.0L835.5 168.3L835.5 167.6L835.9 167.0L836.2 165.1L836.6 164.4L836.9 163.9L837.3 163.5L837.3 162.9L837.6 164.1L838.0 165.4L838.3 167.1L838.7 168.9L839.0 170.9L839.3 171.8L839.4 172.5L839.7 173.7L840.1 175.1L840.4 176.2L840.8 176.9L841.1 178.3L841.5 179.6L841.8 179.4L842.2 180.0L842.3 179.8L842.5 179.7L842.9 180.0L843.2 180.0L843.6 179.9L843.9 179.7L844.3 179.6L844.6 178.8L845.0 179.2L845.3 178.9L845.7 178.6L846.0 178.5L846.0 178.2L846.4 178.5L846.7 177.8L847.1 177.3L847.4 177.4L847.8 177.0L848.1 176.8L848.5 176.8L848.8 176.1L849.2 175.8L849.5 175.9L849.9 174.7L850.2 174.8L850.6 174.6L850.9 174.4L851.0 174.5L851.3 173.5L851.6 173.5L852.0 173.0L852.3 172.6L852.7 172.3L853.0 171.8L853.4 171.9L853.7 171.7L854.1 170.9L854.4 171.0L854.8 170.4L855.1 170.0" fill="none" stroke="#262626" stroke-width="1.28" stroke-linejoin="round" clip-path="url(#cecgA)"/>
<path d="M994.0 165.8L994.4 165.9L994.7 165.0L995.1 164.1L995.4 163.5L995.5 163.1L995.8 163.3L996.1 162.7L996.5 162.4L996.8 162.0L997.2 161.3L997.5 161.2L997.6 161.7L997.9 161.5L998.2 163.3L998.6 165.4L998.9 166.8L999.2 168.6L999.3 168.7L999.6 170.1L1000.0 171.0L1000.3 172.0L1000.5 172.4L1000.7 172.8L1001.0 172.7L1001.4 172.8L1001.7 172.5L1002.1 173.0L1002.4 172.8L1002.8 173.0L1003.0 173.1L1003.1 173.2L1003.5 172.3L1003.7 171.0L1003.8 169.1L1004.2 148.0L1004.5 123.0L1004.7 117.9L1004.9 119.3L1005.2 127.4L1005.6 140.3L1005.9 150.2L1005.9 151.9L1006.3 163.3L1006.6 172.6L1006.8 175.5L1007.0 176.1L1007.3 177.2L1007.7 177.8L1008.0 178.4L1008.1 178.3L1008.4 177.7L1008.7 177.8L1009.1 177.3L1009.4 178.2L1009.8 177.6L1010.1 177.5L1010.5 177.0L1010.8 177.2L1011.2 177.3L1011.5 177.1L1011.6 177.1L1011.9 177.0L1012.2 177.7L1012.6 177.1L1012.9 176.9L1013.3 177.2L1013.6 177.4L1014.0 177.5L1014.3 177.6L1014.7 177.5L1015.0 177.9L1015.0 178.1L1015.4 177.9L1015.7 179.3L1016.1 180.0L1016.4 180.0L1016.8 181.3L1017.1 182.5L1017.5 183.4L1017.8 184.1L1018.2 183.5L1018.3 183.7L1018.5 183.6L1018.9 182.7L1019.2 180.4L1019.6 178.6L1019.9 176.5L1020.2 175.1L1020.3 174.4L1020.6 173.3L1021.0 171.6L1021.3 169.9L1021.7 169.0L1022.0 167.5L1022.4 167.4L1022.5 166.8L1022.7 167.4L1023.1 167.4L1023.4 166.8L1023.8 167.2L1024.1 167.2L1024.5 167.0L1024.8 167.6L1025.2 167.6L1025.4 167.3L1025.5 167.6L1025.9 168.2L1026.2 168.5L1026.6 168.9L1026.9 169.8L1027.1 169.2L1027.3 169.6L1027.6 169.7L1028.0 169.4L1028.3 168.5L1028.7 168.7L1029.0 168.5L1029.4 168.3L1029.7 168.4L1030.0 168.3L1030.1 168.2L1030.4 168.3L1030.8 168.5L1031.1 168.6L1031.5 167.8L1031.8 168.9L1032.2 168.3L1032.5 168.7L1032.9 168.1L1033.2 168.4L1033.6 168.3L1033.9 168.9L1034.1 168.8L1034.3 168.6L1034.6 168.4L1035.0 168.3L1035.3 167.7L1035.7 167.4L1036.0 166.9L1036.4 166.9L1036.5 166.5L1036.7 165.9L1037.1 165.6L1037.4 164.8L1037.8 164.1L1038.1 162.8L1038.5 162.4L1038.8 162.4L1039.0 161.7L1039.2 161.9L1039.5 164.0L1039.9 166.6L1040.2 169.1L1040.3 169.4L1040.6 170.2L1040.9 171.8L1041.3 172.3L1041.5 172.3L1041.6 172.6L1042.0 172.7L1042.3 172.9L1042.7 173.1L1043.0 173.4L1043.4 172.6L1043.7 172.9L1044.1 172.5L1044.4 173.0L1044.4 173.1L1044.8 172.3L1045.1 170.8L1045.1 170.7L1045.5 155.3L1045.8 130.2L1046.1 119.7L1046.2 119.0L1046.5 125.8L1046.9 136.8L1047.2 148.2L1047.2 150.1L1047.6 159.7L1047.9 170.8L1048.2 175.4L1048.3 176.1L1048.6 176.7L1049.0 177.7L1049.3 178.1L1049.5 177.8L1049.7 177.5L1050.0 177.5L1050.4 177.8L1050.7 177.9L1051.1 177.2L1051.4 177.3L1051.8 177.8L1052.1 176.9L1052.5 177.3L1052.8 177.3L1053.0 177.4L1053.2 176.8L1053.5 177.3L1053.9 176.9L1054.2 177.6L1054.6 177.1L1054.9 177.5L1055.3 177.3L1055.6 177.7L1056.0 177.4L1056.3 178.0L1056.4 178.1L1056.7 178.2L1057.0 179.1L1057.4 179.5L1057.7 180.4L1058.1 181.3L1058.4 182.5L1058.8 182.7L1059.1 183.4L1059.5 183.8L1059.7 184.1L1059.8 184.0L1060.2 183.2L1060.5 181.4L1060.9 179.1L1061.2 177.0L1061.6 175.3L1061.6 174.4L1061.9 174.0L1062.3 171.9L1062.6 170.4L1063.0 169.1L1063.3 167.8L1063.7 166.8L1063.9 166.9L1064.0 167.3L1064.4 167.3L1064.7 167.4L1065.1 167.0L1065.4 167.1L1065.8 167.5L1066.1 167.7L1066.5 167.5L1066.8 167.3L1066.8 167.1L1067.2 168.2L1067.5 168.0L1067.9 169.0L1068.2 169.6L1068.5 170.3L1068.6 169.5L1068.9 169.4L1069.3 169.4L1069.6 169.2L1070.0 169.2L1070.3 168.8L1070.7 168.2L1071.0 167.7L1071.4 168.3L1071.4 168.0L1071.7 168.6L1072.1 167.9L1072.4 168.4L1072.8 168.2L1073.1 168.3L1073.5 169.0L1073.8 168.6L1074.0 168.6L1074.2 168.8L1074.5 168.3L1074.9 168.1L1075.2 167.7L1075.6 168.0L1075.9 167.2L1076.3 166.8L1076.4 166.8L1076.6 166.2L1077.0 165.5L1077.3 164.2L1077.7 163.9L1078.0 163.0L1078.4 162.2L1078.7 162.2L1078.9 161.3L1079.1 162.1L1079.4 163.6L1079.8 166.4L1080.1 169.0L1080.2 169.8L1080.5 170.1L1080.8 171.3L1081.2 172.0L1081.4 173.1L1081.5 172.8L1081.9 172.8L1082.2 173.3L1082.6 172.9L1082.9 172.4L1083.3 172.8L1083.6 172.7L1084.0 173.5L1084.3 172.6L1084.3 173.1L1084.7 172.3L1085.0 170.9L1085.0 171.0L1085.4 154.8L1085.7 127.6L1086.0 116.0L1086.1 116.3L1086.4 122.9L1086.8 135.6L1087.1 148.6L1087.2 150.0L1087.5 159.8L1087.8 170.7L1088.1 176.0L1088.2 175.5L1088.5 176.5L1088.9 177.8L1089.2 177.8L1089.4 178.0L1089.6 178.2L1089.9 177.9L1090.3 177.8L1090.6 178.0L1091.0 177.8L1091.3 177.4L1091.7 177.1L1092.0 177.2L1092.4 176.8L1092.7 177.0L1092.9 176.9L1093.1 177.3L1093.4 177.4L1093.8 177.1L1094.1 177.2L1094.5 177.1L1094.8 177.1L1095.2 177.5L1095.5 177.8L1095.9 177.9L1096.2 178.1L1096.3 177.9L1096.6 177.5L1096.9 178.9L1097.3 179.7L1097.6 180.5L1098.0 181.4L1098.3 182.4L1098.7 183.6L1099.0 183.6L1099.4 184.3L1099.6 184.2L1099.7 184.1L1100.1 183.0L1100.4 181.3L1100.8 178.9L1101.1 177.2L1101.5 175.1L1101.5 174.7L1101.8 173.5L1102.2 171.8L1102.5 170.9L1102.9 169.0L1103.2 167.9L1103.6 166.8L1103.8 166.7L1103.9 167.3L1104.3 167.0L1104.6 167.1L1105.0 167.6L1105.3 167.7L1105.7 167.4L1106.0 167.5L1106.4 167.5L1106.7 167.5L1106.7 168.1L1107.1 167.6L1107.4 168.4L1107.8 168.4L1108.1 169.0L1108.4 169.6L1108.5 169.6L1108.8 169.5L1109.2 169.2L1109.5 168.9L1109.9 168.7L1110.2 168.5L1110.6 168.7L1110.9 168.6L1111.3 168.3L1111.3 168.1L1111.6 168.0L1112.0 168.5L1112.3 168.5L1112.5 168.1L1112.7 168.9L1113.0 168.5L1113.4 168.1L1113.7 167.7L1114.1 167.3L1114.4 167.3L1114.8 166.4L1114.9 166.5L1115.1 166.4L1115.5 166.0L1115.8 164.8L1116.2 163.8L1116.5 162.8L1116.9 162.5L1117.2 162.1L1117.4 161.7L1117.6 162.2L1117.9 163.9L1118.3 166.3L1118.6 168.8L1118.7 169.7L1119.0 170.8L1119.3 171.7L1119.7 172.3L1119.9 172.4L1120.0 172.8L1120.4 172.8L1120.7 172.4L1121.1 173.0L1121.4 172.7L1121.8 173.1L1122.1 173.1L1122.5 173.2L1122.8 173.3L1122.8 173.2L1123.2 172.2L1123.5 170.7L1123.5 171.3L1123.9 155.2L1124.2 128.2L1124.5 116.8L1124.6 117.7L1124.9 124.5L1125.3 136.4L1125.6 148.5L1125.7 150.1L1126.0 158.9L1126.3 170.5L1126.6 175.8L1126.7 175.9L1127.0 176.2L1127.4 177.8L1127.7 178.1L1127.9 178.2L1128.1 177.9L1128.4 178.0L1128.8 177.6L1129.1 177.9L1129.5 177.9L1129.8 177.3L1130.2 177.5L1130.5 177.2L1130.9 177.5L1131.2 177.5L1131.4 176.6L1131.6 177.3L1131.9 177.5L1132.3 177.1L1132.6 177.3L1133.0 177.3L1133.3 177.2L1133.7 177.5L1134.0 178.1L1134.4 177.9L1134.7 178.4L1134.8 178.3L1135.1 178.5L1135.4 178.7L1135.8 179.6L1136.1 180.8L1136.5 181.6L1136.8 182.2L1137.2 182.7L1137.5 183.3L1137.9 184.0L1138.1 184.1L1138.2 183.5L1138.6 183.1L1138.9 181.4L1139.3 179.3L1139.6 176.9L1140.0 175.8L1140.0 175.2L1140.3 173.4L1140.7 171.9L1141.0 170.7L1141.4 169.2L1141.7 167.9L1142.1 167.2L1142.3 166.9L1142.4 166.9L1142.8 166.7L1143.1 167.2L1143.5 166.4L1143.8 167.0L1144.2 167.6L1144.5 167.2L1144.9 167.2L1145.2 168.1L1145.2 167.9L1145.6 167.8L1145.9 168.2L1146.3 168.9L1146.6 169.3L1146.9 169.4L1147.0 169.3L1147.3 169.6L1147.7 169.1L1148.0 168.6L1148.4 168.5L1148.7 168.6L1149.1 168.1L1149.4 167.6L1149.8 168.6L1149.8 168.3L1150.1 168.1L1150.5 168.2L1150.8 168.6L1151.2 168.9L1151.5 168.4L1151.6 168.7L1151.9 168.4L1152.2 168.5L1152.6 167.8L1152.9 167.3L1153.3 167.4L1153.6 167.0L1154.0 166.7L1154.0 166.3L1154.3 166.4L1154.7 165.3L1155.0 164.8L1155.4 163.4L1155.7 163.1L1156.1 162.1L1156.4 161.8L1156.5 162.0L1156.8 161.9L1157.1 164.4L1157.5 167.9L1157.8 169.1L1157.8 169.4L1158.2 170.9L1158.5 172.2L1158.9 172.3L1159.0 172.6L1159.2 172.3L1159.6 172.6L1159.9 173.1L1160.3 172.9L1160.6 172.9L1161.0 173.1L1161.3 173.0L1161.7 173.0L1161.9 172.9L1162.0 172.7L1162.4 172.3L1162.6 170.7L1162.7 169.4L1163.1 148.7L1163.4 124.6L1163.6 119.6L1163.8 119.7L1164.1 128.2L1164.5 140.1L1164.8 149.8L1164.8 150.9L1165.2 162.7L1165.5 173.2L1165.7 175.7L1165.9 176.3L1166.2 177.3L1166.6 177.9L1166.9 177.8L1167.0 178.0L1167.3 178.2L1167.6 178.3L1168.0 177.8L1168.3 177.6L1168.7 177.5L1169.0 177.9L1169.4 177.5L1169.7 177.2L1170.1 177.0L1170.4 177.3L1170.5 176.8L1170.8 177.1L1171.1 177.1L1171.5 177.1L1171.8 177.4L1172.2 177.5L1172.5 178.3L1172.9 177.6L1173.2 177.9L1173.6 177.7L1173.9 177.6L1173.9 178.3L1174.3 178.8L1174.6 178.6L1175.0 179.6L1175.3 180.8L1175.7 181.5L1176.0 181.7L1176.4 183.3L1176.7 183.6L1177.1 184.2L1177.2 183.8L1177.4 184.0L1177.8 182.9L1178.1 180.6L1178.5 178.7L1178.8 176.3L1179.1 174.9L1179.2 174.6L1179.5 173.2L1179.9 171.5L1180.2 170.4L1180.6 168.6L1180.9 167.3L1181.3 167.4L1181.4 167.1L1181.6 167.3L1182.0 167.0L1182.3 167.3L1182.7 167.1L1183.0 167.0L1183.4 167.3L1183.7 167.4L1184.1 167.6L1184.3 167.8L1184.4 167.2L1184.8 168.1L1185.1 168.4L1185.5 169.0L1185.8 169.6L1186.0 169.5L1186.2 169.3L1186.5 169.6L1186.9 169.2L1187.2 169.3L1187.6 169.1L1187.9 168.5L1188.3 168.1L1188.6 168.3L1188.9 168.4L1189.0 168.3L1189.3 168.0L1189.7 167.9L1190.0 168.2L1190.4 168.3L1190.7 168.8L1190.9 168.6L1191.1 168.8L1191.4 168.5L1191.8 168.7L1192.1 167.9L1192.5 167.7L1192.8 167.0L1193.2 166.8L1193.3 166.8L1193.5 166.4L1193.9 165.9L1194.2 164.5L1194.6 163.9L1194.9 163.4L1195.3 162.4L1195.6 161.8L1195.8 161.8L1196.0 161.9L1196.3 164.0L1196.7 167.1L1197.0 169.2L1197.1 169.5L1197.4 170.2L1197.7 171.3L1198.1 173.0L1198.3 172.5L1198.4 172.7L1198.8 172.6L1199.1 172.9L1199.5 172.8L1199.8 173.0L1200.2 173.3L1200.5 172.8L1200.9 173.1L1201.2 173.0L1201.2 173.2L1201.6 172.3L1201.9 171.1L1201.9 170.8L1202.3 155.4L1202.6 130.3L1202.9 119.7L1203.0 119.7L1203.3 125.8L1203.7 137.4L1204.0 148.3L1204.1 150.1L1204.4 159.5L1204.7 170.5L1205.0 175.3L1205.1 175.8L1205.4 176.9L1205.8 177.5L1206.1 177.9L1206.3 178.0L1206.5 177.7L1206.8 178.0L1207.2 178.0L1207.5 178.2L1207.9 177.3L1208.2 177.3L1208.6 177.5L1208.9 177.2L1209.3 177.2L1209.6 177.2L1209.8 177.1L1210.0 177.2L1210.3 177.3L1210.7 176.8L1211.0 177.5L1211.4 176.8L1211.7 177.9L1212.1 177.8L1212.4 177.5L1212.8 178.1L1213.1 177.9L1213.2 178.1L1213.5 178.4L1213.8 178.8L1214.2 179.4L1214.5 180.4L1214.9 181.1L1215.2 182.0L1215.6 182.6L1215.9 183.1L1216.3 184.3L1216.5 184.2L1216.6 183.6L1217.0 183.2L1217.3 181.4L1217.7 178.7L1218.0 176.8L1218.4 175.2L1218.4 175.4L1218.7 174.0L1219.1 172.4L1219.4 170.6L1219.8 169.3L1220.1 167.6L1220.5 167.3L1220.7 167.2L1220.8 166.7L1221.2 167.1L1221.5 167.4L1221.9 167.6L1222.2 167.5L1222.6 167.1L1222.9 167.3L1223.3 167.4L1223.6 167.9L1223.6 167.4L1224.0 167.6L1224.3 168.0L1224.7 169.0L1225.0 169.5L1225.3 169.4L1225.4 169.3L1225.7 169.4L1226.1 169.6L1226.4 168.8L1226.8 168.9L1227.1 168.7L1227.5 168.5L1227.8 168.6L1228.2 168.4L1228.2 168.3L1228.5 168.6L1228.9 168.6L1229.2 168.5L1229.6 168.6L1229.9 168.3L1229.9 168.6L1230.3 168.3L1230.6 168.1L1231.0 168.0L1231.3 167.3L1231.7 167.1L1232.0 166.7L1232.3 166.6L1232.4 166.4L1232.7 165.9L1233.1 165.5L1233.4 164.4L1233.8 163.0L1234.1 162.1L1234.5 161.8L1234.8 161.6L1234.8 161.3L1235.2 162.5L1235.5 165.0L1235.9 168.0L1236.1 169.9L1236.2 170.3L1236.6 170.8L1236.9 171.9L1237.3 172.2L1237.3 172.2L1237.6 172.7L1238.0 172.8L1238.3 172.7L1238.7 173.0L1239.0 172.8L1239.4 173.2L1239.7 172.8L1240.1 173.2L1240.2 172.9L1240.4 172.8L1240.8 171.8L1240.9 170.6L1241.1 164.7L1241.5 140.4L1241.8 120.1L1241.9 118.8L1242.2 121.2L1242.5 131.0L1242.9 143.8L1243.1 150.0L1243.2 154.3L1243.6 166.6L1243.9 174.8L1244.0 175.7L1244.3 176.5L1244.6 177.0L1245.0 178.3L1245.3 177.8L1245.3 178.1L1245.7 178.1L1246.0 178.0L1246.4 177.9L1246.7 177.5L1247.1 177.5L1247.4 177.5L1247.8 177.7L1248.1 177.1L1248.5 177.4L1248.8 177.3L1248.8 177.2L1249.2 177.1L1249.5 177.2L1249.9 176.9L1250.2 177.4L1250.6 177.5L1250.9 177.4L1251.3 177.8L1251.6 177.9L1252.0 177.7L1252.2 178.2L1252.3 177.9L1252.7 179.1L1253.0 178.8L1253.4 179.7L1253.7 180.6L1254.1 181.8L1254.4 182.9L1254.8 183.3L1255.1 183.7L1255.5 184.5L1255.5 184.3L1255.8 183.5L1256.2 182.1L1256.5 179.8L1256.9 178.0L1257.2 176.4L1257.4 174.7L1257.6 174.0L1257.9 172.8L1258.3 170.6L1258.6 170.0L1259.0 168.0L1259.3 167.2L1259.7 167.0L1259.7 167.3L1260.0 167.1L1260.4 166.6L1260.7 166.7L1261.1 167.2L1261.4 166.7L1261.8 167.2L1262.1 167.2L1262.5 167.7L1262.6 167.9L1262.8 167.1L1263.2 168.3L1263.5 168.9L1263.9 169.0L1264.2 169.3L1264.3 169.2L1264.6 169.4L1264.9 169.5L1265.3 169.5L1265.6 169.3L1266.0 168.6L1266.3 168.3L1266.7 168.6L1267.0 167.5L1267.2 167.8L1267.4 168.4L1267.7 168.9L1268.1 168.3L1268.4 168.6L1268.6 168.3L1268.8 168.6L1269.1 168.4L1269.5 168.0L1269.8 168.0L1270.2 167.5L1270.5 167.2L1270.9 166.6L1271.0 166.2L1271.2 166.2L1271.6 165.7L1271.9 164.5L1272.3 164.1L1272.6 163.0L1273.0 162.2L1273.3 161.9L1273.5 161.7L1273.7 161.8L1274.0 164.1L1274.4 166.9L1274.7 168.9L1274.8 169.5L1275.1 170.3L1275.4 171.7L1275.8 172.7L1276.0 172.4L1276.1 172.7L1276.5 172.7L1276.8 172.9L1277.2 173.2L1277.5 172.7L1277.9 172.4L1278.2 172.9L1278.6 172.6L1278.9 173.4L1278.9 172.8L1279.3 172.4L1279.6 171.1L1279.6 171.1L1280.0 156.4L1280.3 132.5L1280.6 122.5L1280.7 122.3L1281.0 128.2L1281.4 138.0L1281.7 148.1L1281.8 150.2L1282.1 158.9L1282.4 170.7L1282.7 176.1L1282.8 176.0L1283.1 176.5L1283.5 177.3L1283.8 177.9L1284.0 178.4L1284.2 177.8L1284.5 178.2L1284.9 178.0L1285.2 177.8L1285.6 177.6L1285.9 178.0L1286.3 177.1L1286.6 177.1L1287.0 177.5L1287.3 177.5L1287.5 176.9L1287.7 177.0L1288.0 176.9L1288.4 177.4L1288.7 177.2L1289.1 177.7L1289.4 177.7L1289.8 177.6L1290.1 177.7L1290.5 178.0L1290.8 178.2L1290.9 178.0L1291.2 178.3L1291.5 178.9L1291.9 179.4L1292.2 180.5L1292.6 181.1L1292.9 181.9L1293.3 182.9L1293.6 183.9L1294.0 184.3L1294.2 183.6L1294.3 184.0L1294.7 182.9L1295.0 181.3L1295.4 179.1L1295.7 177.0L1296.1 175.1L1296.1 174.9L1296.4 173.8L1296.8 171.8L1297.1 170.2L1297.5 168.8L1297.8 167.6L1298.2 167.3L1298.4 166.7L1298.5 167.0L1298.9 167.0L1299.2 167.2L1299.6 167.1L1299.9 167.4L1300.3 167.2L1300.6 167.4L1301.0 167.7L1301.3 167.2L1301.3 167.7L1301.7 168.3L1302.0 168.4L1302.4 168.9L1302.7 169.8L1303.0 169.5L1303.1 169.8L1303.4 168.8L1303.8 169.3L1304.1 169.0L1304.5 168.9L1304.8 168.9L1305.2 168.4L1305.5 168.2L1305.9 167.5L1305.9 168.4L1306.2 168.5L1306.6 168.3L1306.9 168.2L1307.3 168.4L1307.6 168.7L1308.0 168.6L1308.3 169.0L1308.7 168.4L1309.0 168.3L1309.2 168.7L1309.4 168.9L1309.7 168.3L1310.1 168.2L1310.4 167.7L1310.8 167.2L1311.1 166.9L1311.5 166.2L1311.6 166.6L1311.8 166.3L1312.2 165.7L1312.5 164.5L1312.9 163.6L1313.2 162.5L1313.6 161.9L1313.9 162.1L1314.1 162.5L1314.3 161.8L1314.6 163.8L1315.0 166.9L1315.3 168.9L1315.4 169.6L1315.7 170.3L1316.0 171.5L1316.4 172.6L1316.6 172.5L1316.7 172.3L1317.1 172.9L1317.4 172.8L1317.8 172.7L1318.1 172.7L1318.5 173.1L1318.8 172.8L1319.2 173.0L1319.5 173.2L1319.5 173.0L1319.9 172.7L1320.2 170.7L1320.2 171.2L1320.6 156.1L1320.9 131.6L1321.2 120.5L1321.3 120.8L1321.6 126.3L1322.0 137.0L1322.3 148.4L1322.4 149.8L1322.7 159.7L1323.0 170.5L1323.3 175.5L1323.4 175.9L1323.7 177.1L1324.1 177.8L1324.4 178.3L1324.6 177.7L1324.8 177.9L1325.1 178.0L1325.5 178.2L1325.8 177.9L1326.2 177.5L1326.5 177.5L1326.9 177.0L1327.2 177.5L1327.6 176.8L1327.9 177.3L1328.1 177.5L1328.3 177.4L1328.6 176.8L1329.0 177.3L1329.3 177.2L1329.7 177.3L1330.0 177.9L1330.4 177.6L1330.7 177.3L1331.1 177.6L1331.4 178.1L1331.5 178.1L1331.8 177.9L1332.1 178.3L1332.5 179.3L1332.8 180.1L1333.2 181.4L1333.5 181.9L1333.9 183.0L1334.2 183.8L1334.6 183.5L1334.8 183.9L1334.9 184.3L1335.3 182.9L1335.6 181.3L1336.0 179.4L1336.3 176.8L1336.7 175.1L1336.7 174.6L1337.0 173.8L1337.4 172.0L1337.7 170.4L1338.1 168.4L1338.4 168.1L1338.8 167.3L1339.0 166.8L1339.1 167.3L1339.5 166.4L1339.8 167.0L1340.2 166.7L1340.5 167.8L1340.9 166.6L1341.2 167.0L1341.6 167.3L1341.9 167.8L1341.9 167.8L1342.3 168.0L1342.6 168.3L1343.0 169.5L1343.3 169.2L1343.6 169.6L1343.7 169.9L1344.0 169.1L1344.4 169.1L1344.7 169.3L1345.1 168.9L1345.4 168.3L1345.8 168.4L1346.1 168.7L1346.5 168.1L1346.5 168.4L1346.8 168.2L1347.2 168.0L1347.5 168.6L1347.9 168.5L1348.2 168.6L1348.6 168.3L1348.9 168.4L1349.3 168.5L1349.6 168.6L1350.0 168.5L1350.3 168.4L1350.7 168.9L1350.7 168.3L1351.0 168.4L1351.4 168.3L1351.7 167.9L1352.1 167.4L1352.4 167.1L1352.8 167.1L1353.1 166.4L1353.1 166.3L1353.5 166.3L1353.8 164.8L1354.2 164.5L1354.5 163.5L1354.9 162.3L1355.2 161.9L1355.6 161.7L1355.6 162.1L1355.9 162.9L1356.3 165.0L1356.6 167.5L1356.9 169.1L1357.0 169.6L1357.3 170.5L1357.7 171.9L1358.0 172.5L1358.1 172.7L1358.4 172.9L1358.7 172.8L1359.1 172.9L1359.4 172.8L1359.8 173.2L1360.1 173.1L1360.5 173.4L1360.8 173.3L1361.0 172.8L1361.2 172.5L1361.5 172.1L1361.7 171.3L1361.9 167.2L1362.2 145.7L1362.6 123.9L1362.7 121.0L1362.9 122.6L1363.3 130.6L1363.6 142.1L1363.9 149.9L1364.0 152.5L1364.3 164.5L1364.7 173.9L1364.8 174.8L1365.0 176.0L1365.4 177.3L1365.7 177.1L1366.1 177.9L1366.1 177.6L1366.4 177.5L1366.8 178.2L1367.1 178.1L1367.5 177.6L1367.8 177.5L1368.2 177.8L1368.5 177.7L1368.9 177.3L1369.2 177.4L1369.6 177.2L1369.6 177.1L1369.9 177.3L1370.3 177.1L1370.6 177.4L1371.0 177.2L1371.3 177.3L1371.7 177.3L1372.0 177.7L1372.4 177.9L1372.7 178.0L1373.0 177.7L1373.1 178.1L1373.4 178.1L1373.8 178.7L1374.1 179.7L1374.5 180.8L1374.8 181.7L1375.2 182.5L1375.5 183.5L1375.9 183.9L1376.2 183.9L1376.3 184.2L1376.6 183.6L1376.9 182.5L1377.3 180.6L1377.6 178.2L1378.0 175.8L1378.2 174.9L1378.3 174.5L1378.7 173.0L1379.0 171.3L1379.4 169.5L1379.7 168.1L1380.1 167.7L1380.4 167.2L1380.5 167.1L1380.8 167.0L1381.1 167.5L1381.5 167.2L1381.8 167.1L1382.2 167.4L1382.5 167.3L1382.9 167.6L1383.2 167.6L1383.4 167.7L1383.6 167.7L1383.9 168.0L1384.3 168.7L1384.6 169.4L1385.0 169.2L1385.1 169.4L1385.3 169.2L1385.7 169.6L1386.0 169.1L1386.4 169.2L1386.7 168.5L1387.1 168.7L1387.4 168.2L1387.8 168.1L1388.0 168.3L1388.1 168.1L1388.5 168.1L1388.8 168.5L1389.2 168.4L1389.5 168.8L1389.9 169.2L1390.2 168.4L1390.3 168.5L1390.6 168.2L1390.9 168.1L1391.3 168.3L1391.6 167.9L1392.0 167.5L1392.3 167.1L1392.7 166.3L1392.7 166.1L1393.0 166.3L1393.4 165.3L1393.7 164.7L1394.1 163.5L1394.4 162.9L1394.8 162.0L1395.1 161.8L1395.2 161.8L1395.5 162.5L1395.8 165.0L1396.2 167.6L1396.5 168.8L1396.5 169.5L1396.9 170.7L1397.2 172.0L1397.6 172.5L1397.7 172.4L1397.9 172.5L1398.3 172.7L1398.6 172.6L1399.0 173.2L1399.3 173.1L1399.7 173.0L1400.0 173.2L1400.4 173.5L1400.6 172.9L1400.7 172.9L1401.1 172.0L1401.3 170.7L1401.4 169.0L1401.8 147.9L1402.1 124.2L1402.3 118.9L1402.5 120.0L1402.8 127.9L1403.2 140.6L1403.5 149.8L1403.5 151.4L1403.9 163.3L1404.2 173.3L1404.4 175.8L1404.6 176.6L1404.9 177.3L1405.3 177.6L1405.6 177.9L1405.7 177.8L1406.0 178.0L1406.3 177.7L1406.7 177.7L1407.0 177.5L1407.4 177.2L1407.7 178.1L1408.1 177.6L1408.4 176.8L1408.8 177.3L1409.1 177.1L1409.2 176.7L1409.5 177.2L1409.8 177.3L1410.2 177.4L1410.5 177.6L1410.9 177.2L1411.2 177.5L1411.6 177.8L1411.9 177.9L1412.3 178.0L1412.6 178.0L1412.6 178.3L1413.0 178.0L1413.3 178.5L1413.7 180.1L1414.0 180.6L1414.4 181.7L1414.7 182.4L1415.1 183.0L1415.4 183.5L1415.8 184.0L1415.9 183.9L1416.1 183.8L1416.5 182.6L1416.8 181.0L1417.2 178.8L1417.5 176.9L1417.8 174.8L1417.9 174.8L1418.2 173.5L1418.6 171.7L1418.9 169.5L1419.3 168.8L1419.6 167.6L1420.0 167.0L1420.1 166.9L1420.3 166.8L1420.7 167.3L1421.0 167.2L1421.4 167.2L1421.7 167.5L1422.1 167.5L1422.4 167.2L1422.8 167.3L1423.0 167.4L1423.1 167.9L1423.5 168.0L1423.8 168.9L1424.2 169.2L1424.5 169.4L1424.7 169.2L1424.9 169.4L1425.2 170.0L1425.6 169.1L1425.9 168.8L1426.3 168.8L1426.6 168.9L1427.0 168.4L1427.3 168.0L1427.6 168.1L1427.7 168.2L1428.0 168.3L1428.4 168.5L1428.7 168.9L1429.1 168.6L1429.4 168.5L1429.8 168.4L1430.1 168.2L1430.5 168.6L1430.8 168.8L1431.2 168.7L1431.5 168.5L1431.9 168.7L1432.2 168.6L1432.6 168.6L1432.9 168.6L1432.9 168.6L1433.3 168.5L1433.6 168.6L1434.0 168.1L1434.3 167.7L1434.7 167.6L1435.0 167.1L1435.3 166.8L1435.4 166.3L1435.7 166.2L1436.1 165.1L1436.4 163.9L1436.8 163.3L1437.1 162.2L1437.5 161.8L1437.8 161.7L1437.8 162.0L1438.2 162.6L1438.5 165.6L1438.9 168.1L1439.1 169.9L1439.2 169.9L1439.6 171.2L1439.9 172.4L1440.3 172.3L1440.3 172.5L1440.6 172.3L1441.0 172.6L1441.3 172.9L1441.7 172.9L1442.0 173.0L1442.4 172.9L1442.7 172.8L1443.1 173.0L1443.2 172.8L1443.4 172.5L1443.8 171.3L1443.9 171.0L1444.1 165.0L1444.5 139.9L1444.8 119.7L1444.9 117.8L1445.2 120.8L1445.5 131.2L1445.9 143.4L1446.1 150.1L1446.2 154.4L1446.6 166.4L1446.9 174.5L1447.0 175.1L1447.3 176.3L1447.6 177.4L1448.0 177.7L1448.3 178.1L1448.3 177.8L1448.7 177.9L1449.0 178.2L1449.4 177.8L1449.7 177.5L1450.1 177.7L1450.4 177.5L1450.8 177.2L1451.1 177.4L1451.5 176.5L1451.8 177.3L1451.8 177.6L1452.2 177.3L1452.5 176.8L1452.9 177.6L1453.2 177.9L1453.6 177.6L1453.9 177.3L1454.3 177.5L1454.6 177.7L1455.0 177.9L1455.2 178.3L1455.3 178.2L1455.7 177.9L1456.0 179.0L1456.4 179.8L1456.7 181.2L1457.1 181.5L1457.4 182.2L1457.8 183.2L1458.1 183.8L1458.5 183.5L1458.5 184.3L1458.8 183.5L1459.2 182.3L1459.5 180.3L1459.9 178.1L1460.2 176.3L1460.4 175.4L1460.6 174.3L1460.9 172.8L1461.3 171.4L1461.6 169.7L1462.0 168.2L1462.3 167.4L1462.7 166.8L1462.7 166.9L1463.0 166.2L1463.4 167.1L1463.7 167.5L1464.1 167.3L1464.4 167.4L1464.8 167.4L1465.1 167.2L1465.5 167.7L1465.6 167.6L1465.8 167.7L1466.2 168.2L1466.5 168.6L1466.9 169.2L1467.2 169.6L1467.3 169.7L1467.6 169.5L1467.9 169.6L1468.3 169.2L1468.6 168.4L1469.0 168.2L1469.3 168.4L1469.7 168.0L1470.0 168.4L1470.2 167.9L1470.4 168.1L1470.7 168.1L1471.1 168.1L1471.4 168.2L1471.8 168.3L1472.1 168.4L1472.5 168.3L1472.8 168.6L1473.2 168.7L1473.5 168.5L1473.9 168.4L1473.9 168.4L1474.2 168.4L1474.6 168.2L1474.9 168.1L1475.3 168.4L1475.6 167.6L1476.0 166.9L1476.3 166.6L1476.3 166.6L1476.7 166.3L1477.0 165.5L1477.4 164.1L1477.7 164.0L1478.1 162.4L1478.4 162.1L1478.8 161.6L1478.8 161.4L1479.1 162.2L1479.5 165.6L1479.8 168.2L1480.1 169.3L1480.2 169.4L1480.5 171.3L1480.9 171.7L1481.2 172.7L1481.3 173.1L1481.6 172.9L1481.9 173.1L1482.3 172.9L1482.6 172.5L1483.0 172.7L1483.3 172.5L1483.7 173.1L1484.0 172.7L1484.2 173.0L1484.4 172.8L1484.7 171.8L1484.9 171.1L1485.1 167.2L1485.4 144.1L1485.8 122.1L1485.9 118.8L1486.1 120.2L1486.5 130.0L1486.8 141.7L1487.1 150.1L1487.2 153.0L1487.5 164.6L1487.9 173.7L1488.0 175.4L1488.2 176.1L1488.6 176.9L1488.9 178.0L1489.3 177.8L1489.3 177.8L1489.6 178.3L1490.0 177.7L1490.3 177.5L1490.7 177.7L1491.0 177.6L1491.4 177.5L1491.7 177.9L1492.1 177.2L1492.4 177.6L1492.8 177.4L1492.8 177.6L1493.1 177.2L1493.5 177.2L1493.8 177.2L1494.2 177.4L1494.5 177.7L1494.9 177.9L1495.2 177.2L1495.6 178.0L1495.9 178.0L1496.2 178.0L1496.3 177.8L1496.6 178.5L1497.0 178.5L1497.3 180.1L1497.7 180.4L1498.0 181.5L1498.4 182.4L1498.7 183.3L1499.1 183.4L1499.4 184.2L1499.5 184.1L1499.8 184.1L1500.1 182.5L1500.5 180.4L1500.8 177.8L1501.2 176.1L1501.4 175.4L1501.5 174.5L1501.9 172.9L1502.2 171.4L1502.6 170.1L1502.9 168.1L1503.3 168.0L1503.6 167.2L1503.7 167.2L1504.0 167.0L1504.3 167.5L1504.7 167.0L1505.0 167.3L1505.4 167.2L1505.7 167.0L1506.1 167.4L1506.4 167.7L1506.6 167.5L1506.8 167.6L1507.1 168.1L1507.5 168.4L1507.8 168.9L1508.2 169.5L1508.3 169.3L1508.5 169.6L1508.9 169.6L1509.2 169.5L1509.6 169.2L1509.9 168.7L1510.3 168.6L1510.6 168.1L1511.0 168.3L1511.2 168.1L1511.3 168.5L1511.7 168.0L1512.0 168.3L1512.4 168.1L1512.7 168.5L1513.1 168.5L1513.4 168.1L1513.8 168.9L1514.1 168.6L1514.5 168.2L1514.8 168.3L1515.2 168.1L1515.5 168.1L1515.9 168.6L1516.1 168.1L1516.2 168.7L1516.6 168.1L1516.9 168.2L1517.3 168.4L1517.6 167.5L1518.0 167.2L1518.3 167.1L1518.5 166.4L1518.7 166.4L1519.0 165.4L1519.4 164.7L1519.7 163.9L1520.1 163.1L1520.4 162.2L1520.8 162.0L1521.0 162.0L1521.1 162.1L1521.5 163.6L1521.8 166.1L1522.2 169.0L1522.3 169.7L1522.5 170.0L1522.9 170.8L1523.2 172.2L1523.5 172.9L1523.6 172.8L1523.9 172.4L1524.3 173.1L1524.6 172.6L1525.0 173.1L1525.3 172.8L1525.7 173.2L1526.0 173.1L1526.4 172.9L1526.4 173.2L1526.7 172.4L1527.1 171.2L1527.1 170.9L1527.4 158.8L1527.8 133.3L1528.1 119.0L1528.1 118.8L1528.5 123.5L1528.8 135.0L1529.2 147.1L1529.2 150.2L1529.5 157.8L1529.9 169.3L1530.2 175.8L1530.2 175.3L1530.6 176.6L1530.9 177.0L1531.3 177.8L1531.5 177.9L1531.6 177.9L1532.0 178.1L1532.3 177.7L1532.7 177.9L1533.0 177.6L1533.4 177.4L1533.7 177.0L1534.1 177.4L1534.4 177.4L1534.8 177.0L1535.0 177.0L1535.1 176.7L1535.5 177.1L1535.8 177.0L1536.2 177.4L1536.5 177.3L1536.9 177.6L1537.2 177.3L1537.6 177.2L1537.9 177.8L1538.3 177.8L1538.4 178.4L1538.6 178.2L1539.0 178.9L1539.3 179.4L1539.7 180.0L1540.0 180.6L1540.4 181.9L1540.7 182.9L1541.1 183.4L1541.4 183.9L1541.7 184.0L1541.8 183.6L1542.1 183.3L1542.5 181.4L1542.8 179.5L1543.2 177.6L1543.5 174.9L1543.6 174.9L1543.9 174.0L1544.2 172.6L1544.6 170.7L1544.9 169.0L1545.3 168.2L1545.6 167.4L1545.9 166.5L1546.0 167.0L1546.3 166.6L1546.7 166.4L1547.0 166.8L1547.4 166.9L1547.7 166.7L1548.1 167.8L1548.4 167.1L1548.8 167.7L1548.8 167.8L1549.1 168.4L1549.5 168.2L1549.8 169.2L1550.2 169.0L1550.5 169.5L1550.5 169.4L1550.9 169.2L1551.2 169.4L1551.6 169.6L1551.9 169.4L1552.3 168.8L1552.6 168.2L1553.0 168.1L1553.3 168.3L1553.4 168.3L1553.7 168.3L1554.0 168.2L1554.4 168.0L1554.7 168.4L1555.1 168.4L1555.4 168.8L1555.8 168.3L1556.1 168.8L1556.5 168.9L1556.8 169.1L1556.8 169.1L1557.2 168.3L1557.5 168.0L1557.9 168.1L1558.2 167.5L1558.6 166.7L1558.9 167.2L1559.2 166.6L1559.3 166.7L1559.6 165.9L1560.0 165.3L1560.3 164.2L1560.7 163.3L1561.0 163.0L1561.4 161.7L1561.7 161.9L1561.7 161.4L1562.1 163.3L1562.4 165.4L1562.8 167.9L1563.0 169.0L1563.1 169.8L1563.5 171.6L1563.8 172.2L1564.2 172.2L1564.2 172.1L1564.5 173.4L1564.9 172.6L1565.2 172.5L1565.6 172.9L1565.9 173.1L1566.3 173.4L1566.6 172.9L1567.0 172.8L1567.1 173.2L1567.3 172.6L1567.7 171.8L1567.8 171.0L1568.0 165.6L1568.4 142.5L1568.7 123.8L1568.8 122.8L1569.1 125.0L1569.4 133.1L1569.8 144.2L1570.0 150.0L1570.1 154.2L1570.5 166.7L1570.8 174.8L1570.9 175.8L1571.2 176.3L1571.5 177.2L1571.9 177.7L1572.2 178.3L1572.2 177.9L1572.6 178.6L1572.9 178.1L1573.0 178.5L1573.3 178.4L1573.6 178.2L1574.0 178.8L1574.3 178.6L1574.7 178.3L1575.0 178.2L1575.4 178.6L1575.7 178.2L1576.1 178.5L1576.4 178.2L1576.8 178.4L1577.1 178.2L1577.5 178.4L1577.8 178.9L1578.2 178.9L1578.4 178.4L1578.5 178.5L1578.9 178.4L1579.2 179.4L1579.6 180.4L1579.9 180.6L1580.2 181.3L1580.3 181.7L1580.6 182.4L1581.0 183.7L1581.3 185.0L1581.6 185.0L1581.7 185.1L1582.0 184.5L1582.4 182.2L1582.7 179.9L1583.1 177.4L1583.4 175.2L1583.5 175.4L1583.8 173.7L1584.1 172.9L1584.5 171.5L1584.8 170.5L1585.2 169.5L1585.5 168.9L1585.9 168.4L1586.0 168.4L1586.2 167.4L1586.6 167.6L1586.9 167.2L1587.3 166.9L1587.6 166.7L1588.0 166.3L1588.1 166.0L1588.3 165.3L1588.7 163.4L1589.0 158.9L1589.4 154.1L1589.6 149.7L1589.7 148.3L1590.1 137.2L1590.4 123.7L1590.8 111.2L1590.8 110.0L1591.1 100.9L1591.5 90.6L1591.8 83.6L1592.0 82.6L1592.2 83.6L1592.5 91.8L1592.9 104.6L1593.0 110.5L1593.2 120.9L1593.6 150.2L1593.9 178.8L1594.2 189.6L1594.3 190.3L1594.6 191.9L1595.0 192.7L1595.3 194.0L1595.7 194.9L1596.0 195.2L1596.4 195.5L1596.7 196.0L1596.8 196.3L1597.1 196.3L1597.4 196.9L1597.8 197.1L1598.1 197.2L1598.5 197.5L1598.8 198.2L1599.0 198.2L1599.2 198.8L1599.5 199.3L1599.9 201.1L1600.2 203.0L1600.6 205.1L1600.9 207.5L1601.3 209.7L1601.6 212.2L1601.6 211.9L1602.0 215.3L1602.3 219.2L1602.6 220.8L1602.7 221.0L1603.0 219.2L1603.4 215.1L1603.6 212.1L1603.7 211.0L1604.1 205.1L1604.4 198.3L1604.8 190.7L1605.1 183.5L1605.5 177.3L1605.8 172.9L1605.9 172.4L1606.2 170.9L1606.5 169.9L1606.9 168.4L1607.2 166.7L1607.6 165.6L1607.9 164.8L1608.3 163.5L1608.6 163.3L1609.0 162.0L1609.1 161.5L1609.3 161.3L1609.7 160.6L1610.0 159.6L1610.4 159.2L1610.7 157.7L1611.1 156.8L1611.4 155.3L1611.5 154.6L1611.8 151.9L1612.1 142.7L1612.5 129.5L1612.8 117.9L1612.8 118.3L1613.2 105.0L1613.5 90.6L1613.9 79.5L1614.1 77.0L1614.2 77.4L1614.6 89.4L1614.9 108.0L1615.1 118.1L1615.3 125.7L1615.6 148.7L1616.0 170.4L1616.3 180.8L1616.3 180.8L1616.7 182.3L1617.0 184.2L1617.4 185.5L1617.7 186.7L1618.1 186.9L1618.4 187.4L1618.8 188.6L1619.1 189.2L1619.5 189.4L1619.5 189.7L1619.8 190.0L1620.2 191.1L1620.5 192.0L1620.9 192.5L1621.2 192.8L1621.6 194.1L1621.7 194.3L1621.9 195.4L1622.3 197.3L1622.6 200.3L1623.0 203.5L1623.3 206.6L1623.7 209.9L1623.9 212.1L1624.0 213.2L1624.4 216.9L1624.7 220.3L1624.9 221.0L1625.1 221.0L1625.4 218.0L1625.8 213.9L1625.9 211.9L1626.1 209.0L1626.5 203.2L1626.8 196.2L1627.2 188.5L1627.5 181.4L1627.9 175.8L1628.2 172.6L1628.2 172.6L1628.6 170.6L1628.9 168.8L1629.3 167.6L1629.6 167.6L1630.0 165.7L1630.3 165.0L1630.7 164.0L1631.0 162.6L1631.4 162.1L1631.4 161.6L1631.7 160.4L1632.1 159.8L1632.4 158.4L1632.8 157.2L1633.1 154.7L1633.1 155.0L1633.5 149.3L1633.8 138.3L1634.2 125.8L1634.4 117.8L1634.5 115.0L1634.9 101.0L1635.2 87.6L1635.6 79.6L1635.7 78.4L1635.9 81.1L1636.3 94.9L1636.6 113.3L1636.7 118.2L1637.0 132.0L1637.3 154.9L1637.7 175.0L1637.9 180.6L1638.0 182.0L1638.4 183.2L1638.7 184.9L1639.1 185.9L1639.4 186.5L1639.8 187.6L1640.1 188.0L1640.5 189.0L1640.8 189.3L1641.1 189.9L1641.2 190.5L1641.5 191.0L1641.9 191.3L1642.2 191.6L1642.6 193.0L1642.9 193.6L1643.3 194.6L1643.3 194.4L1643.6 196.0L1644.0 199.0L1644.3 203.4L1644.7 207.2L1645.0 211.2L1645.1 211.5L1645.4 215.0L1645.7 218.6L1646.1 220.3L1646.1 220.7L1646.4 219.9L1646.8 216.6L1647.1 211.3L1647.1 211.7L1647.5 207.0L1647.8 199.9L1648.2 192.7L1648.5 185.2L1648.9 179.0L1649.2 173.8L1649.4 172.4L1649.6 171.4L1649.9 170.0L1650.3 168.6L1650.6 167.7L1651.0 166.5L1651.3 166.0L1651.7 164.3L1652.0 163.7L1652.4 162.8L1652.6 161.6L1652.7 160.5L1653.1 159.9L1653.4 158.2L1653.8 156.8L1653.9 155.0L1654.1 152.3L1654.5 142.9L1654.8 131.4L1655.2 118.8L1655.2 117.7L1655.5 107.3L1655.9 93.0L1656.2 82.4L1656.5 78.4L1656.6 79.0L1656.9 87.7L1657.3 105.3L1657.5 118.2L1657.6 122.8L1658.0 145.4L1658.3 167.7L1658.7 180.3L1658.7 181.0L1659.0 182.8L1659.4 184.3L1659.7 185.3L1660.1 186.2L1660.4 187.0L1660.8 187.9L1661.1 188.8L1661.5 188.5L1661.8 189.3L1661.9 189.8L1662.2 190.7L1662.5 190.7L1662.9 192.0L1663.2 192.5L1663.6 192.1L1663.9 193.9L1664.1 194.7L1664.3 195.9L1664.6 203.1L1665.0 211.4L1665.0 211.9L1665.3 216.1L1665.7 219.6L1666.0 220.8L1666.0 221.5L1666.4 219.8L1666.7 216.0L1667.0 212.0L1667.1 211.7L1667.4 206.1L1667.8 199.1L1668.1 191.3L1668.5 184.5L1668.8 177.6L1669.2 173.8L1669.3 172.2L1669.5 171.5L1669.9 169.8L1670.2 168.3L1670.6 167.4L1670.9 166.7L1671.3 166.4L1671.6 165.2L1672.0 163.9L1672.3 162.8L1672.5 161.3L1672.7 160.4L1673.0 157.9L1673.3 155.3L1673.4 154.3L1673.7 147.1L1674.1 136.7L1674.4 124.6L1674.6 118.3L1674.8 112.5L1675.1 94.9L1675.5 77.9L1675.8 68.2L1675.9 67.4L1676.2 73.1L1676.5 93.0L1676.9 115.3L1676.9 118.0L1677.2 136.1L1677.6 159.3L1677.9 176.7L1678.1 181.3L1678.3 181.7L1678.6 183.6L1679.0 184.9L1679.3 186.1L1679.7 186.7L1680.0 187.0L1680.4 188.5L1680.7 188.3L1681.1 189.4L1681.3 189.5L1681.4 190.2L1681.8 190.4L1682.1 191.7L1682.5 192.0L1682.8 192.1L1683.2 193.8L1683.5 194.0L1683.5 194.4L1683.9 197.1L1684.2 200.6L1684.6 205.7L1684.9 209.8L1685.1 211.8L1685.3 213.9L1685.6 217.7L1686.0 220.5L1686.1 221.2L1686.3 220.4L1686.7 217.0L1687.0 213.0L1687.1 212.6L1687.4 209.2L1687.7 201.9L1688.1 195.2L1688.4 187.8L1688.8 180.6L1689.1 175.5L1689.4 172.2L1689.5 172.1L1689.8 170.6L1690.2 168.9L1690.5 167.6L1690.9 166.5L1691.2 165.3L1691.6 164.4L1691.9 163.6L1692.3 162.7L1692.6 161.4L1692.6 162.1L1693.0 160.0L1693.3 159.2L1693.7 158.2L1694.0 156.9L1694.3 154.6L1694.4 154.6L1694.7 147.6L1695.1 136.5L1695.4 124.5L1695.6 118.2L1695.8 113.3L1696.1 99.0L1696.5 86.6L1696.8 79.1L1696.9 78.5L1697.2 82.6L1697.5 97.6L1697.9 115.6L1697.9 118.2L1698.2 135.5L1698.6 158.5L1698.9 176.8L1699.1 181.2L1699.3 181.5L1699.6 184.0L1700.0 185.0L1700.3 186.3L1700.7 186.7L1701.0 187.2L1701.4 188.0L1701.7 188.7L1702.1 189.0L1702.3 190.0L1702.4 190.1L1702.8 190.4L1703.1 191.4L1703.5 191.8L1703.8 192.5L1704.2 193.3L1704.5 194.3L1704.5 194.2L1704.9 196.9L1705.2 200.8L1705.6 205.5L1705.9 209.7L1706.1 212.1L1706.3 213.8L1706.6 217.4L1707.0 220.7L1707.1 221.6L1707.3 220.3L1707.7 217.3L1708.0 213.2L1708.1 211.9L1708.4 208.8L1708.7 202.3L1709.1 195.0L1709.4 187.3L1709.8 180.8L1710.1 175.3L1710.4 172.4L1710.5 172.1L1710.8 170.8L1711.2 168.9L1711.5 167.7L1711.9 166.8L1712.2 165.5L1712.6 164.9L1712.9 163.4L1713.3 162.9L1713.6 161.1L1713.6 161.6L1714.0 160.4L1714.3 159.5L1714.7 159.0L1715.0 157.8L1715.4 156.1L1715.5 155.4L1715.7 152.7L1716.1 143.9L1716.4 131.8L1716.8 120.1L1716.8 118.2L1717.1 106.0L1717.5 89.6L1717.8 76.3L1718.1 71.7L1718.2 72.4L1718.5 83.5L1718.9 104.2L1719.1 117.8L1719.2 123.1L1719.6 146.2L1719.9 167.4L1720.3 180.2L1720.3 180.5L1720.6 182.5L1721.0 184.8L1721.3 185.2L1721.7 186.6L1722.0 187.5L1722.4 187.5L1722.7 188.1L1723.1 188.9L1723.4 189.7L1723.5 189.4L1723.8 190.1L1724.1 191.4L1724.5 191.3L1724.8 192.2L1725.2 193.1L1725.5 193.7L1725.7 194.5L1725.9 195.1L1726.2 198.2L1726.6 202.5L1726.9 206.9L1727.3 211.4L1727.3 211.9L1727.6 215.6L1728.0 219.1L1728.3 220.8L1728.3 221.5L1728.7 219.4L1729.0 215.6L1729.3 211.9L1729.4 211.4L1729.7 205.9L1730.1 199.1L1730.4 191.5L1730.8 184.1L1731.1 178.0L1731.5 173.3L1731.6 172.9L1731.8 171.1L1732.2 170.1L1732.5 168.4L1732.9 167.4L1733.2 166.5L1733.6 164.8L1733.9 164.7L1734.3 163.5L1734.6 162.2L1734.8 161.4L1735.0 161.2L1735.3 159.6L1735.7 159.5L1736.0 157.7L1736.4 156.2L1736.5 155.0L1736.7 152.3L1737.1 143.5L1737.4 131.4L1737.8 119.9L1737.8 118.0L1738.1 106.8L1738.5 91.5L1738.8 79.1L1739.1 74.8L1739.2 75.2L1739.5 85.3L1739.9 104.3L1740.1 118.0L1740.2 123.1L1740.6 145.6L1740.9 168.1L1741.3 180.8L1741.3 181.2L1741.6 182.5L1742.0 184.3L1742.3 185.5L1742.7 186.5L1743.0 187.1L1743.4 187.6L1743.7 188.3L1744.1 188.7L1744.4 189.4L1744.5 189.9L1744.8 190.4L1745.1 191.3L1745.5 191.7L1745.8 191.9L1746.2 193.3L1746.5 194.3L1746.7 194.2L1746.9 195.0L1747.2 197.6L1747.6 200.5L1747.9 203.6L1748.3 207.9L1748.6 211.1L1748.7 212.1L1749.0 215.0L1749.3 218.5L1749.7 220.8L1749.7 221.2L1750.0 220.0L1750.4 216.3L1750.7 212.3L1750.7 212.1L1751.1 207.3L1751.4 200.5L1751.8 193.5L1752.1 186.6L1752.5 179.6L1752.8 174.4L1753.0 172.5L1753.2 171.3L1753.5 168.9L1753.9 167.0L1754.2 166.3L1754.6 164.4L1754.9 162.7L1755.2 159.8L1755.3 159.5L1755.6 154.7L1756.0 148.0L1756.3 139.4L1756.7 131.1L1757.0 121.7L1757.4 113.4L1757.5 109.8L1757.7 106.2L1758.1 98.0L1758.4 91.6L1758.8 83.8L1759.1 76.7L1759.2 74.5" fill="none" stroke="#262626" stroke-width="1.28" stroke-linejoin="round" clip-path="url(#cecgB)"/>
<path d="M88.3 404.0L88.6 403.0L89.0 402.1L89.3 401.6L89.6 401.5L89.7 401.5L90.0 401.6L90.4 401.9L90.7 402.2L91.0 402.5L91.1 402.7L91.4 403.9L91.8 405.7L92.1 408.0L92.5 410.3L92.8 412.3L93.0 413.0L93.2 413.8L93.5 415.3L93.9 416.7L94.2 418.0L94.6 419.2L94.9 420.2L95.3 421.1L95.5 421.5L95.6 421.8L96.0 422.4L96.3 423.0L96.7 423.5L97.0 423.8L97.4 424.0L97.5 424.0L97.7 424.0L98.1 423.8L98.4 423.5L98.8 423.2L99.1 422.7L99.5 422.3L99.8 421.8L100.2 421.4L100.5 421.0L100.5 420.9L100.9 420.5L101.2 420.1L101.6 419.7L101.9 419.3L102.3 418.9L102.6 418.4L103.0 418.0L103.3 417.4L103.7 416.9L104.0 416.3L104.4 415.7L104.5 415.5L104.7 415.0L105.1 414.3L105.4 413.5L105.8 412.6L106.1 411.4L106.5 410.0L106.5 410.0L106.8 407.3L107.2 402.8L107.5 397.0L107.9 390.3L108.2 383.5L108.6 377.0L108.9 371.4L109.3 367.2L109.4 366.3L109.6 364.3L110.0 361.6L110.3 359.2L110.7 357.2L111.0 355.8L111.4 355.3L111.4 355.3L111.7 355.6L112.1 356.5L112.4 357.8L112.8 359.6L113.1 361.6L113.5 363.7L113.8 366.0L113.9 366.3L114.2 368.8L114.5 372.8L114.9 377.7L115.2 382.9L115.6 388.2L115.9 393.0L116.3 397.0L116.6 399.4L116.6 399.7L117.0 401.8L117.3 403.8L117.7 405.4L118.0 406.6L118.4 407.0L118.4 407.0L118.7 406.8L119.1 406.2L119.4 405.5L119.8 404.8L120.0 404.5L120.1 404.3L120.5 403.7L120.8 403.1L121.2 402.6L121.5 402.2L121.9 402.0L122.0 402.0L122.2 402.1L122.6 402.7L122.9 403.5L123.3 404.5L123.6 405.5L124.0 406.5L124.0 406.5L124.3 407.5L124.7 408.6L125.0 409.8L125.4 411.0L125.7 412.0L126.1 412.9L126.4 413.5L126.4 413.6L126.8 414.1L127.1 414.6L127.5 415.1L127.8 415.6L128.2 415.9L128.5 416.2L128.9 416.4L129.2 416.5L129.3 416.5L129.6 416.5L129.9 416.4L130.3 416.2L130.6 415.9L131.0 415.6L131.3 415.3L131.7 414.9L132.0 414.5L132.4 414.1L132.7 413.7L133.1 413.3L133.4 413.0L133.4 413.0L133.8 412.6L134.1 412.3L134.5 412.0L134.8 411.7L135.2 411.4L135.5 411.0L135.9 410.6L136.2 410.2L136.6 409.7L136.9 409.1L137.3 408.4L137.5 408.0L137.6 407.6L138.0 406.3L138.3 404.5L138.7 402.4L139.0 399.9L139.4 397.3L139.5 396.5L139.7 394.2L140.1 390.0L140.4 385.1L140.8 380.0L141.1 375.0L141.5 370.8L141.8 368.0L141.8 367.6L142.2 364.9L142.5 362.3L142.9 360.0L143.2 358.2L143.6 357.2L143.8 357.0L143.9 357.1L144.3 357.6L144.6 358.8L145.0 360.3L145.3 362.1L145.7 364.2L146.0 366.4L146.3 368.0L146.4 368.7L146.7 371.9L147.1 376.0L147.4 380.7L147.8 385.5L148.1 390.2L148.5 394.2L148.8 397.3L149.0 398.3L149.2 399.3L149.5 401.1L149.9 402.7L150.2 404.0L150.6 404.7L150.8 404.8L150.9 404.8L151.3 404.4L151.6 403.7L152.0 403.0L152.3 402.4L152.4 402.3L152.7 401.8L153.0 401.3L153.4 400.7L153.7 400.2L154.1 399.9L154.4 399.8L154.4 399.8L154.8 400.1L155.1 400.8L155.5 401.7L155.8 402.7L156.2 403.8L156.4 404.3L156.5 404.7L156.9 405.8L157.2 406.9L157.6 408.1L157.9 409.2L158.3 410.2L158.6 411.0L158.8 411.3L159.0 411.6L159.3 412.1L159.7 412.6L160.0 413.1L160.4 413.5L160.7 413.8L161.1 414.1L161.4 414.2L161.8 414.3L161.8 414.3L162.1 414.3L162.5 414.1L162.8 413.9L163.2 413.7L163.5 413.4L163.9 413.1L164.2 412.7L164.6 412.3L164.9 411.9L165.3 411.5L165.6 411.2L166.0 410.8L166.0 410.8L166.3 410.5L166.7 410.2L167.0 409.9L167.4 409.6L167.7 409.2L168.1 408.9L168.4 408.5L168.8 408.1L169.1 407.7L169.5 407.1L169.8 406.5L170.2 405.8L170.2 405.8L170.5 404.7L170.9 403.1L171.2 401.0L171.6 398.7L171.9 396.1L172.2 394.3L172.3 393.5L172.6 390.3L173.0 386.4L173.3 382.2L173.7 378.0L174.0 374.2L174.4 371.0L174.5 370.2L174.7 368.4L175.1 365.7L175.4 363.2L175.8 361.2L176.1 359.7L176.5 359.2L176.5 359.2L176.8 359.5L177.2 360.4L177.5 361.8L177.9 363.5L178.2 365.5L178.6 367.7L178.9 369.9L179.0 370.2L179.3 372.6L179.6 376.5L180.0 381.2L180.3 386.2L180.7 391.2L181.0 395.7L181.4 399.4L181.7 401.7L181.7 402.0L182.1 403.9L182.4 405.8L182.8 407.3L183.1 408.3L183.5 408.7L183.5 408.7L183.8 408.5L184.2 407.9L184.5 407.2L184.9 406.5L185.1 406.2L185.2 406.0L185.6 405.4L185.9 404.8L186.3 404.3L186.6 403.9L187.0 403.7L187.1 403.7L187.3 403.8L187.7 404.4L188.0 405.2L188.4 406.2L188.7 407.2L189.1 408.2L189.1 408.2L189.4 409.2L189.8 410.3L190.1 411.6L190.5 412.7L190.8 413.8L191.2 414.7L191.5 415.2L191.5 415.3L191.9 415.7L192.2 416.1L192.6 416.5L192.9 416.9L193.3 417.2L193.6 417.5L194.0 417.8L194.3 418.0L194.7 418.1L195.0 418.2L195.3 418.2L195.4 418.2L195.7 418.1L196.1 417.9L196.4 417.7L196.8 417.3L197.1 416.9L197.5 416.5L197.8 416.1L198.2 415.6L198.5 415.2L198.9 414.8L199.0 414.7L199.2 414.4L199.6 414.0L199.9 413.7L200.3 413.3L200.6 412.9L201.0 412.5L201.3 412.0L201.7 411.5L202.0 410.9L202.4 410.2L202.6 409.7L202.7 409.3L203.1 408.0L203.4 406.3L203.8 404.1L204.1 401.7L204.5 399.0L204.6 398.2L204.8 395.7L205.2 390.9L205.5 385.2L205.9 379.1L206.2 373.3L206.6 368.3L206.9 365.3L206.9 364.9L207.3 362.1L207.6 359.5L208.0 357.2L208.3 355.5L208.7 354.5L208.9 354.3L209.0 354.4L209.4 354.9L209.7 356.0L210.1 357.5L210.4 359.3L210.8 361.4L211.1 363.7L211.4 365.3L211.5 366.0L211.8 369.6L212.2 374.4L212.5 380.0L212.9 385.9L213.2 391.6L213.6 396.6L213.9 400.5L214.1 401.7L214.3 403.2L214.6 405.6L215.0 407.8L215.3 409.5L215.7 410.5L215.9 410.7L216.0 410.7L216.4 410.3L216.7 409.6L217.1 408.9L217.4 408.3L217.5 408.2L217.8 407.7L218.1 407.2L218.5 406.6L218.8 406.1L219.2 405.8L219.5 405.7L219.5 405.7L219.9 406.0L220.2 406.7L220.6 407.6L220.9 408.6L221.3 409.7L221.5 410.2L221.6 410.6L222.0 411.6L222.3 412.8L222.7 414.0L223.0 415.1L223.4 416.1L223.7 416.9L223.9 417.2L224.1 417.5L224.4 418.1L224.8 418.6L225.1 419.1L225.5 419.5L225.8 419.9L226.2 420.1L226.5 420.2L226.6 420.2L226.9 420.2L227.2 420.1L227.6 419.9L227.9 419.6L228.3 419.3L228.6 419.0L229.0 418.6L229.3 418.2L229.7 417.8L230.0 417.4L230.4 417.0L230.7 416.7L230.7 416.7L231.1 416.3L231.4 416.0L231.8 415.7L232.1 415.4L232.5 415.1L232.8 414.7L233.2 414.3L233.5 413.9L233.9 413.4L234.2 412.8L234.6 412.1L234.8 411.7L234.9 411.3L235.3 410.1L235.6 408.3L236.0 406.2L236.3 403.7L236.7 401.0L236.8 400.2L237.0 397.6L237.4 392.7L237.7 386.7L238.1 380.3L238.4 374.2L238.8 369.1L239.1 366.0L239.1 365.6L239.5 362.8L239.8 360.2L240.2 357.9L240.5 356.2L240.9 355.2L241.1 355.0L241.2 355.1L241.6 355.6L241.9 356.7L242.3 358.2L242.6 360.1L243.0 362.2L243.3 364.4L243.6 366.0L243.7 366.7L244.0 370.2L244.4 374.7L244.7 379.9L245.1 385.4L245.4 390.7L245.8 395.4L246.1 399.0L246.3 400.1L246.5 401.4L246.8 403.6L247.2 405.5L247.5 407.1L247.9 408.0L248.1 408.1L248.2 408.1L248.6 407.7L248.9 407.0L249.3 406.3L249.6 405.7L249.7 405.6L250.0 405.1L250.3 404.6L250.7 404.0L251.0 403.5L251.4 403.2L251.7 403.1L251.7 403.1L252.1 403.4L252.4 404.1L252.8 405.0L253.1 406.0L253.5 407.1L253.7 407.6L253.8 408.0L254.2 409.1L254.5 410.2L254.9 411.4L255.2 412.5L255.6 413.5L255.9 414.3L256.1 414.6L256.3 414.9L256.6 415.4L257.0 415.9L257.3 416.4L257.7 416.8L258.0 417.1L258.4 417.4L258.7 417.5L259.1 417.6L259.1 417.6L259.4 417.6L259.8 417.4L260.1 417.2L260.5 417.0L260.8 416.7L261.2 416.4L261.5 416.0L261.9 415.6L262.2 415.2L262.6 414.8L262.9 414.5L263.3 414.1L263.3 414.1L263.6 413.8L264.0 413.5L264.3 413.2L264.7 412.9L265.0 412.5L265.4 412.2L265.7 411.8L266.1 411.4L266.4 411.0L266.8 410.4L267.1 409.8L267.5 409.1L267.5 409.1L267.8 408.1L268.2 406.5L268.5 404.5L268.9 402.2L269.2 399.6L269.5 397.6L269.6 396.7L269.9 392.5L270.3 387.2L270.6 381.2L271.0 375.3L271.3 370.0L271.7 365.9L271.8 365.0L272.0 363.0L272.4 360.3L272.7 357.9L273.1 355.9L273.4 354.5L273.8 354.0L273.8 354.0L274.1 354.3L274.5 355.2L274.8 356.5L275.2 358.2L275.5 360.2L275.9 362.4L276.2 364.7L276.3 365.0L276.6 367.6L276.9 371.9L277.3 377.2L277.6 382.9L278.0 388.6L278.3 393.9L278.7 398.3L279.0 401.0L279.0 401.4L279.4 403.8L279.7 406.1L280.1 408.0L280.4 409.3L280.8 409.8L280.8 409.8L281.1 409.6L281.5 409.0L281.8 408.3L282.2 407.6L282.4 407.3L282.5 407.1L282.9 406.5L283.2 405.9L283.6 405.4L283.9 405.0L284.3 404.8L284.4 404.8L284.6 404.9L285.0 405.5L285.3 406.3L285.7 407.3L286.0 408.3L286.4 409.3L286.4 409.3L286.7 410.3L287.1 411.4L287.4 412.6L287.8 413.8L288.1 414.8L288.5 415.7L288.8 416.3L288.8 416.4L289.2 416.9L289.5 417.4L289.9 417.8L290.2 418.3L290.6 418.6L290.9 418.9L291.3 419.1L291.6 419.3L291.9 419.3L292.0 419.3L292.3 419.2L292.7 419.1L293.0 418.9L293.4 418.7L293.7 418.4L294.1 418.1L294.4 417.7L294.8 417.4L295.1 417.0L295.5 416.6L295.8 416.2L296.2 415.9L296.3 415.8L296.5 415.6L296.9 415.3L297.2 415.0L297.6 414.7L297.9 414.4L298.3 414.1L298.6 413.8L299.0 413.4L299.3 413.0L299.7 412.5L300.0 412.0L300.4 411.4L300.7 410.8L300.7 410.7L301.1 409.6L301.4 408.0L301.8 406.0L302.1 403.6L302.5 400.9L302.7 399.3L302.8 397.9L303.2 393.1L303.5 387.1L303.9 380.5L304.2 374.0L304.6 368.3L304.9 364.1L305.0 363.7L305.3 361.3L305.6 358.6L306.0 356.2L306.3 354.3L306.7 353.1L307.0 352.7L307.0 352.7L307.4 353.1L307.7 354.1L308.1 355.5L308.4 357.2L308.8 359.3L309.1 361.4L309.5 363.7L309.5 363.7L309.8 366.7L310.2 370.9L310.5 375.9L310.9 381.2L311.2 386.5L311.6 391.3L311.9 395.1L312.2 397.1L312.3 397.7L312.6 399.8L313.0 401.8L313.3 403.4L313.7 404.5L314.0 404.8L314.0 404.8L314.4 404.5L314.7 403.9L315.1 403.2L315.4 402.5L315.6 402.3L315.8 402.0L316.1 401.4L316.5 400.9L316.8 400.3L317.2 400.0L317.5 399.8L317.6 399.8L317.9 400.0L318.2 400.6L318.6 401.4L318.9 402.4L319.3 403.5L319.6 404.3L319.6 404.4L320.0 405.4L320.3 406.5L320.7 407.7L321.0 408.8L321.4 409.9L321.7 410.8L322.0 411.3L322.1 411.5L322.4 412.1L322.8 412.7L323.1 413.3L323.5 413.8L323.8 414.1L324.2 414.3L324.3 414.3L324.5 414.3L324.9 414.2L325.2 414.1L325.6 413.9L325.9 413.7L326.3 413.4L326.6 413.2L327.0 412.9L327.3 412.6L327.7 412.2L328.0 411.9L328.4 411.6L328.7 411.2L329.1 410.9L329.2 410.8L329.4 410.6L329.8 410.4L330.1 410.1L330.5 409.9L330.8 409.6L331.2 409.4L331.5 409.1L331.9 408.8L332.2 408.5L332.6 408.1L332.9 407.7L333.3 407.3L333.6 406.8L334.0 406.2L334.2 405.8L334.3 405.5L334.7 404.3L335.0 402.5L335.4 400.4L335.7 397.9L336.1 395.1L336.2 394.3L336.4 391.6L336.8 386.2L337.1 379.5L337.5 372.4L337.8 365.7L338.2 360.1L338.5 356.8L338.5 356.4L338.9 353.6L339.2 350.9L339.6 348.7L339.9 346.9L340.3 346.0L340.5 345.8L340.6 345.9L341.0 346.4L341.3 347.4L341.7 348.9L342.0 350.7L342.4 352.8L342.7 355.1L343.0 356.8L343.1 357.6L343.4 361.7L343.8 367.6L344.1 374.5L344.5 381.9L344.8 389.2L345.2 395.7L345.5 400.8L345.7 402.5L345.9 404.4L346.2 407.8L346.6 410.9L346.9 413.3L347.3 414.8L347.5 415.0L347.6 415.0L348.0 414.6L348.3 413.9L348.7 413.2L349.0 412.6L349.1 412.5L349.4 412.0L349.7 411.5L350.1 410.9L350.4 410.4L350.8 410.1L351.1 410.0L351.1 410.0L351.5 410.3L351.8 411.0L352.2 411.9L352.5 412.9L352.9 414.0L353.1 414.5L353.2 414.9L353.6 416.0L353.9 417.1L354.3 418.3L354.6 419.5L355.0 420.5L355.3 421.3L355.5 421.5L355.7 421.8L356.0 422.3L356.4 422.7L356.7 423.1L357.1 423.5L357.4 423.8L357.8 424.1L358.1 424.3L358.5 424.4L358.8 424.5L358.9 424.5L359.2 424.5L359.5 424.4L359.9 424.2L360.2 424.0L360.6 423.7L360.9 423.4L361.3 423.1L361.6 422.7L362.0 422.4L362.3 422.0L362.7 421.6L363.0 421.3L363.4 421.0L363.4 421.0L363.7 420.6L364.1 420.4L364.4 420.1L364.8 419.8L365.1 419.5L365.5 419.2L365.8 418.9L366.2 418.5L366.5 418.1L366.9 417.6L367.2 417.0L367.6 416.4L367.8 416.0L367.9 415.6L368.3 414.4L368.6 412.7L369.0 410.6L369.3 408.2L369.7 405.4L369.8 404.5L370.0 401.6L370.4 395.7L370.7 388.2L371.1 380.3L371.4 372.8L371.8 366.6L372.1 363.1L372.1 362.7L372.5 359.8L372.8 357.2L373.2 354.9L373.5 353.2L373.9 352.3L374.1 352.1L374.2 352.2L374.6 352.7L374.9 353.8L375.3 355.3L375.6 357.1L376.0 359.2L376.3 361.4L376.6 363.1L376.7 363.9L377.0 367.6L377.4 372.7L377.7 378.7L378.1 385.1L378.4 391.2L378.8 396.7L379.1 401.0L379.3 402.4L379.5 403.9L379.8 406.7L380.2 409.1L380.5 411.1L380.9 412.2L381.1 412.4L381.2 412.4L381.6 412.0L381.9 411.3L382.3 410.6L382.6 410.0L382.7 409.9L383.0 409.4L383.3 408.9L383.7 408.3L384.0 407.8L384.4 407.5L384.7 407.4L384.7 407.4L385.1 407.7L385.4 408.4L385.8 409.3L386.1 410.3L386.5 411.4L386.7 411.9L386.8 412.3L387.2 413.3L387.5 414.5L387.9 415.7L388.2 416.8L388.6 417.8L388.9 418.6L389.1 418.9L389.3 419.2L389.6 419.7L390.0 420.3L390.3 420.7L390.7 421.1L391.0 421.5L391.4 421.7L391.7 421.9L392.0 421.9L392.1 421.9L392.4 421.8L392.8 421.7L393.1 421.6L393.5 421.3L393.8 421.1L394.2 420.8L394.5 420.5L394.9 420.1L395.2 419.8L395.6 419.4L395.9 419.1L396.3 418.7L396.6 418.4L396.7 418.4L397.0 418.1L397.3 417.8L397.7 417.6L398.0 417.3L398.4 417.0L398.7 416.7L399.1 416.4L399.4 416.1L399.8 415.7L400.1 415.3L400.5 414.8L400.8 414.2L401.2 413.6L401.3 413.4L401.5 412.8L401.9 411.4L402.2 409.6L402.6 407.3L402.9 404.7L403.3 401.9L403.3 401.9L403.6 397.8L404.0 391.8L404.3 384.8L404.7 377.6L405.0 371.0L405.4 365.7L405.6 363.7L405.7 362.5L406.1 359.7L406.4 357.1L406.8 355.0L407.1 353.5L407.5 352.7L407.6 352.7L407.8 352.9L408.2 353.6L408.5 354.8L408.9 356.4L409.2 358.3L409.6 360.5L409.9 362.7L410.1 363.7L410.3 365.3L410.6 369.2L411.0 374.1L411.3 379.7L411.7 385.4L412.0 390.7L412.4 395.3L412.7 398.7L412.8 399.1L413.1 401.1L413.4 403.4L413.8 405.4L414.1 406.8L414.5 407.6L414.6 407.6L414.8 407.5L415.2 407.0L415.5 406.3L415.9 405.6L416.2 405.1L416.2 405.0L416.6 404.5L416.9 403.9L417.3 403.4L417.6 402.9L418.0 402.6L418.2 402.6L418.3 402.6L418.7 403.1L419.0 403.8L419.4 404.8L419.7 405.8L420.1 406.8L420.2 407.1L420.4 407.8L420.8 408.9L421.1 410.1L421.5 411.3L421.8 412.4L422.2 413.3L422.5 414.0L422.6 414.1L422.9 414.5L423.2 415.0L423.6 415.5L423.9 415.9L424.3 416.2L424.6 416.6L425.0 416.8L425.3 417.0L425.7 417.1L425.9 417.1L426.0 417.1L426.4 417.0L426.7 417.0L427.1 416.8L427.4 416.7L427.8 416.5L428.1 416.2L428.5 416.0L428.8 415.7L429.2 415.4L429.5 415.1L429.9 414.8L430.2 414.5L430.6 414.2L430.9 414.0L431.3 413.7L431.4 413.6L431.6 413.4L432.0 413.2L432.3 413.0L432.7 412.7L433.0 412.5L433.4 412.3L433.7 412.1L434.1 411.8L434.4 411.6L434.8 411.3L435.1 411.0L435.5 410.6L435.8 410.2L436.2 409.7L436.5 409.2L436.9 408.6L436.9 408.6L437.2 407.7L437.6 406.2L437.9 404.3L438.3 401.9L438.6 399.2L438.9 397.1L439.0 396.1L439.3 390.9L439.7 383.8L440.0 375.8L440.4 367.7L440.7 360.7L441.1 355.6L441.2 354.6L441.4 352.5L441.8 349.8L442.1 347.3L442.5 345.4L442.8 344.1L443.2 343.6L443.2 343.6L443.5 343.9L443.9 344.7L444.2 346.0L444.6 347.7L444.9 349.7L445.3 351.9L445.6 354.3L445.7 354.6L446.0 357.6L446.3 362.8L446.7 369.5L447.0 376.9L447.4 384.5L447.7 391.5L448.1 397.5L448.4 401.2L448.4 401.7L448.8 405.2L449.1 408.6L449.5 411.4L449.8 413.4L450.2 414.1L450.2 414.1L450.5 413.9L450.9 413.3L451.2 412.6L451.6 411.9L451.8 411.6L451.9 411.4L452.3 410.8L452.6 410.2L453.0 409.7L453.3 409.3L453.7 409.1L453.8 409.1L454.0 409.2L454.4 409.8L454.7 410.6L455.1 411.6L455.4 412.6L455.8 413.6L455.8 413.6L456.1 414.6L456.5 415.7L456.8 416.9L457.2 418.1L457.5 419.2L457.9 420.1L458.2 420.6L458.2 420.7L458.6 421.2L458.9 421.6L459.3 422.0L459.6 422.4L460.0 422.8L460.3 423.1L460.7 423.3L461.0 423.5L461.4 423.6L461.6 423.6L461.7 423.6L462.1 423.5L462.4 423.4L462.8 423.2L463.1 423.0L463.5 422.8L463.8 422.5L464.2 422.2L464.5 421.9L464.9 421.5L465.2 421.2L465.6 420.8L465.9 420.5L466.3 420.2L466.4 420.1L466.6 419.9L467.0 419.6L467.3 419.4L467.7 419.1L468.0 418.8L468.4 418.6L468.7 418.3L469.1 418.0L469.4 417.6L469.8 417.2L470.1 416.8L470.5 416.3L470.8 415.7L471.2 415.1L471.2 415.1L471.5 414.1L471.9 412.7L472.2 410.7L472.6 408.4L472.9 405.7L473.2 403.6L473.3 402.6L473.6 397.4L474.0 390.3L474.3 382.3L474.7 374.2L475.0 367.2L475.4 362.1L475.5 361.1L475.7 359.0L476.1 356.3L476.4 353.8L476.8 351.9L477.1 350.6L477.5 350.1L477.5 350.1L477.8 350.4L478.2 351.3L478.5 352.6L478.9 354.3L479.2 356.3L479.6 358.5L479.9 360.8L480.0 361.1L480.3 363.8L480.6 368.4L481.0 374.1L481.3 380.3L481.7 386.6L482.0 392.4L482.4 397.2L482.7 400.2L482.7 400.6L483.1 403.4L483.4 406.0L483.8 408.1L484.1 409.6L484.5 410.2L484.5 410.2L484.8 410.0L485.2 409.4L485.5 408.7L485.9 408.0L486.1 407.7L486.2 407.5L486.6 406.9L486.9 406.3L487.3 405.8L487.6 405.4L488.0 405.2L488.1 405.2L488.3 405.3L488.7 405.9L489.0 406.7L489.4 407.7L489.7 408.7L490.1 409.7L490.1 409.7L490.4 410.7L490.8 411.8L491.1 413.0L491.5 414.2L491.8 415.2L492.2 416.1L492.5 416.7L492.5 416.8L492.9 417.3L493.2 417.8L493.6 418.3L493.9 418.7L494.3 419.1L494.6 419.4L495.0 419.6L495.3 419.7L495.5 419.7L495.7 419.7L496.0 419.6L496.4 419.5L496.7 419.4L497.1 419.2L497.4 419.0L497.8 418.8L498.1 418.5L498.5 418.3L498.8 418.0L499.2 417.7L499.5 417.4L499.9 417.1L500.2 416.8L500.6 416.5L500.9 416.2L501.0 416.2L501.3 416.0L501.6 415.7L502.0 415.5L502.3 415.3L502.7 415.1L503.0 414.9L503.4 414.6L503.7 414.4L504.1 414.1L504.4 413.8L504.8 413.5L505.1 413.1L505.5 412.7L505.8 412.2L506.2 411.7L506.5 411.2L506.5 411.1L506.9 410.1L507.2 408.6L507.6 406.6L507.9 404.2L508.3 401.4L508.5 399.7L508.6 398.0L509.0 391.5L509.3 382.7L509.7 372.8L510.0 363.1L510.4 354.9L510.7 349.5L510.8 349.0L511.1 346.4L511.4 343.7L511.8 341.3L512.1 339.5L512.5 338.3L512.8 338.0L512.8 338.0L513.2 338.4L513.5 339.3L513.9 340.6L514.2 342.3L514.6 344.3L514.9 346.6L515.3 349.0L515.3 349.0L515.6 352.8L516.0 358.7L516.3 366.1L516.7 374.2L517.0 382.4L517.4 390.0L517.7 396.3L518.0 399.6L518.1 400.7L518.4 404.7L518.8 408.4L519.1 411.4L519.5 413.5L519.8 414.1L519.8 414.1L520.2 413.8L520.5 413.2L520.9 412.5L521.2 411.8L521.4 411.6L521.6 411.3L521.9 410.7L522.3 410.2L522.6 409.6L523.0 409.3L523.3 409.1L523.4 409.1L523.7 409.3L524.0 409.9L524.4 410.7L524.7 411.7L525.1 412.8L525.4 413.6L525.4 413.7L525.8 414.7L526.1 415.9L526.5 417.1L526.8 418.3L527.2 419.4L527.5 420.2L527.8 420.6L527.9 420.7L528.2 421.2L528.6 421.6L528.9 422.0L529.3 422.3L529.6 422.7L530.0 423.0L530.3 423.2L530.7 423.4L531.0 423.5L531.4 423.6L531.6 423.6L531.7 423.6L532.1 423.5L532.4 423.4L532.8 423.3L533.1 423.1L533.5 422.8L533.8 422.6L534.2 422.3L534.5 422.0L534.9 421.6L535.2 421.3L535.6 421.0L535.9 420.7L536.3 420.4L536.6 420.1L536.6 420.1L537.0 419.8L537.3 419.5L537.7 419.3L538.0 419.0L538.4 418.8L538.7 418.5L539.1 418.3L539.4 418.0L539.8 417.6L540.1 417.3L540.5 416.8L540.8 416.4L541.2 415.8L541.5 415.2L541.6 415.1L541.9 414.3L542.2 413.0L542.6 411.1L542.9 408.8L543.3 406.2L543.6 403.6L543.6 403.1L544.0 397.7L544.3 389.7L544.7 380.4L545.0 370.9L545.4 362.4L545.7 356.2L545.9 354.6L546.1 352.9L546.4 350.1L546.8 347.6L547.1 345.6L547.5 344.2L547.8 343.6L547.9 343.6L548.2 343.8L548.5 344.6L548.9 345.8L549.2 347.4L549.6 349.3L549.9 351.5L550.3 353.9L550.4 354.6L550.6 357.0L551.0 362.3L551.3 369.1L551.7 376.9L552.0 384.9L552.4 392.5L552.7 399.1L553.1 403.9L553.1 403.9L553.4 407.6L553.8 411.3L554.1 414.5L554.5 416.8L554.8 417.8L554.9 417.8L555.2 417.6L555.5 417.1L555.9 416.4L556.2 415.7L556.5 415.3L556.6 415.2L556.9 414.6L557.3 414.0L557.6 413.5L558.0 413.1L558.3 412.8L558.5 412.8L558.7 412.9L559.0 413.4L559.4 414.1L559.7 415.1L560.1 416.2L560.4 417.2L560.5 417.3L560.8 418.1L561.1 419.3L561.5 420.5L561.8 421.7L562.2 422.8L562.5 423.7L562.9 424.3L562.9 424.3L563.2 424.7L563.6 425.1L563.9 425.5L564.3 425.9L564.6 426.2L565.0 426.5L565.3 426.8L565.7 427.0L566.0 427.1L566.4 427.2L566.7 427.3L566.9 427.3L567.1 427.3L567.4 427.3L567.8 427.2L568.1 427.1L568.5 427.0L568.8 426.8L569.2 426.6L569.5 426.4L569.9 426.2L570.2 425.9L570.6 425.7L570.9 425.4L571.3 425.1L571.6 424.8L572.0 424.5L572.3 424.2L572.7 423.9L573.0 423.6L573.4 423.3L573.7 423.0L574.1 422.7L574.4 422.4L574.8 422.2L575.0 422.0L575.1 421.9L575.5 421.6L575.8 421.3L576.2 421.1L576.5 420.8L576.9 420.5L577.2 420.2L577.6 419.9L577.9 419.5L578.3 419.2L578.6 418.9L579.0 418.6L579.3 418.3L579.7 417.9L580.0 417.6L580.4 417.3L580.7 417.0L581.1 416.7L581.4 416.3L581.8 416.0L582.1 415.7L582.5 415.4L582.8 415.1L583.0 415.0L583.2 414.8L583.5 414.6L583.9 414.3L584.2 414.1L584.6 413.8L584.9 413.6L585.3 413.4L585.6 413.2L586.0 412.9L586.3 412.6L586.7 412.3L587.0 412.0L587.4 411.7L587.7 411.3L588.0 411.0L588.1 410.9L588.4 410.3L588.8 409.5L589.1 408.6L589.5 407.7L589.8 406.7L590.2 405.8L590.5 404.9L590.9 404.2L591.0 404.0L591.2 403.6L591.6 403.2L591.9 402.9L592.3 402.5L592.6 401.9L592.8 401.5L593.0 400.5L593.3 396.8L593.7 391.2L594.0 384.7L594.3 380.0L594.4 378.0L594.7 369.8L595.1 360.1L595.4 349.8L595.8 340.0L595.8 340.0L596.1 329.5L596.5 318.6L596.8 310.2L597.0 308.0L597.2 305.9L597.5 302.8L597.9 300.7L598.2 300.0L598.2 300.0L598.6 300.6L598.9 302.0L599.3 303.8L599.5 305.0L599.6 306.1L600.0 309.7L600.3 314.6L600.7 320.2L601.0 325.0L601.0 325.8L601.4 332.3L601.7 339.8L602.1 347.7L602.4 355.2L602.8 361.9L603.0 365.0L603.1 367.1L603.5 372.1L603.8 376.8L604.2 381.0L604.5 384.3L604.9 386.6L605.0 387.0L605.2 387.8L605.6 388.6L605.9 389.3L606.3 389.9L606.6 390.5L606.6 390.6L607.0 391.3L607.3 391.9L607.7 392.6L608.0 393.3L608.4 394.2L608.5 394.5L608.7 395.3L609.1 396.9L609.4 398.7L609.8 400.8L610.1 403.1L610.5 405.4L610.8 407.8L611.2 410.2L611.5 412.4L611.9 414.5L612.0 415.0L612.2 416.3L612.6 418.2L612.9 420.1L613.3 422.0L613.6 423.8L614.0 425.6L614.3 427.3L614.7 428.9L615.0 430.3L615.4 431.6L615.5 432.0L615.7 432.9L616.1 434.2L616.4 435.4L616.8 436.4L617.1 436.9L617.3 437.0L617.5 437.0L617.8 436.7L618.2 436.2L618.5 435.7L618.9 435.0L619.2 434.4L619.5 434.0L619.6 433.8L619.9 433.3L620.3 432.6L620.6 431.9L621.0 431.2L621.3 430.5L621.7 429.8L622.0 429.2L622.4 428.7L622.7 428.2L623.0 428.0L623.1 427.9L623.4 427.7L623.8 427.5L624.1 427.3L624.5 427.2L624.8 427.0L625.2 426.9L625.5 426.7L625.9 426.5L626.2 426.3L626.4 426.2L626.6 426.0L626.9 425.7L627.3 425.3L627.6 424.9L628.0 424.4L628.3 424.0L628.7 423.4L629.0 423.0L629.0 422.9L629.4 422.3L629.7 421.7L630.1 420.9L630.4 420.2L630.8 419.4L631.1 418.7L631.5 418.1L631.8 417.6L631.8 417.5L632.2 417.1L632.5 416.6L632.9 416.2L633.2 415.8L633.6 415.4L633.9 415.0L634.3 414.7L634.6 414.3L635.0 414.0L635.3 413.6L635.7 413.3L636.0 413.0L636.0 412.9L636.4 412.6L636.7 412.2L637.1 411.9L637.4 411.5L637.8 411.2L638.1 410.8L638.5 410.5L638.8 410.1L639.2 409.8L639.5 409.4L639.9 409.1L640.2 408.8L640.6 408.5L640.9 408.2L641.3 408.0L641.5 407.8L641.6 407.7L642.0 407.4L642.3 407.2L642.7 407.0L643.0 406.7L643.4 406.5L643.7 406.3L644.1 406.1L644.4 405.9L644.8 405.7L645.1 405.5L645.5 405.3L645.8 405.1L646.0 405.0L646.2 404.9L646.5 404.7L646.9 404.5L647.2 404.4L647.6 404.2L647.9 404.0L648.3 403.9L648.6 403.7L649.0 403.6L649.3 403.4L649.7 403.2L650.0 403.1L650.4 402.9L650.7 402.8L651.1 402.6L651.4 402.4L651.8 402.3L652.1 402.1L652.3 402.0L652.5 401.9L652.8 401.7L653.2 401.5L653.5 401.3L653.9 401.2L654.2 401.0L654.6 400.8L654.9 400.6L655.3 400.3L655.6 400.1L656.0 399.9L656.3 399.6L656.5 399.5L656.7 399.3L657.0 398.9L657.4 398.4L657.7 397.9L658.1 397.4L658.4 397.1L658.8 397.0L658.8 397.0L659.1 397.1L659.5 397.4L659.8 397.8L660.2 398.2L660.5 398.7L660.9 399.1L661.2 399.4L661.5 399.5L661.6 399.5L661.9 399.6L662.3 399.7L662.6 399.8L663.0 399.9L663.3 399.9L663.7 400.0L664.0 400.0L664.2 400.0L664.4 400.0L664.7 399.7L665.1 399.3L665.4 398.8L665.8 398.2L666.1 397.5L666.5 397.0L666.5 397.0L666.8 396.5L667.2 396.1L667.5 395.6L667.9 395.0L668.2 394.4L668.5 393.8L668.6 393.5L668.9 392.2L669.3 390.5L669.6 388.4L670.0 385.9L670.3 383.2L670.5 382.0L670.7 380.1L671.0 375.9L671.4 370.9L671.7 365.6L672.1 360.3L672.4 355.6L672.5 355.0L672.8 351.3L673.1 346.9L673.5 342.8L673.8 339.3L674.2 337.0L674.2 337.0L674.5 335.4L674.9 334.0L675.2 332.9L675.6 332.3L675.8 332.2L675.9 332.2L676.3 332.6L676.6 333.3L677.0 334.3L677.3 335.5L677.5 336.0L677.7 336.9L678.0 339.4L678.4 342.6L678.7 346.5L679.1 350.5L679.4 354.5L679.5 355.0L679.8 358.5L680.1 363.0L680.5 367.8L680.8 372.5L681.2 376.8L681.5 380.0L681.5 380.5L681.9 383.9L682.2 387.1L682.6 390.1L682.9 392.6L683.3 394.5L683.4 394.9L683.6 395.8L684.0 396.8L684.3 397.7L684.7 398.5L685.0 399.2L685.4 399.8L685.7 400.5L686.1 401.1L686.4 401.9L686.5 402.0L686.8 402.7L687.1 403.5L687.5 404.3L687.8 405.1L688.2 405.8L688.5 406.6L688.9 407.4L689.2 408.2L689.6 409.1L689.9 409.9L690.0 410.0L690.3 410.7L690.6 411.6L691.0 412.6L691.3 413.5L691.7 414.4L692.0 415.4L692.4 416.3L692.7 417.2L693.1 418.1L693.4 418.9L693.8 419.6L694.0 420.0L694.1 420.3L694.5 421.0L694.8 421.7L695.2 422.4L695.5 423.1L695.9 423.8L696.2 424.4L696.6 425.0L696.9 425.4L697.3 425.8L697.6 426.1L698.0 426.2L698.1 426.2L698.3 426.2L698.7 425.9L699.0 425.6L699.4 425.1L699.7 424.6L700.1 424.1L700.4 423.6L700.8 423.2L701.0 423.0L701.1 422.9L701.5 422.6L701.8 422.3L702.2 422.0L702.5 421.7L702.9 421.5L703.2 421.2L703.6 420.9L703.9 420.7L704.3 420.5L704.6 420.2L705.0 420.0L705.0 420.0L705.3 419.8L705.7 419.6L706.0 419.4L706.4 419.2L706.7 419.0L707.1 418.8L707.4 418.6L707.8 418.4L708.1 418.2L708.5 418.1L708.8 417.9L709.2 417.7L709.5 417.5L709.9 417.3L710.2 417.1L710.6 416.9L710.9 416.7L711.3 416.5L711.6 416.2L712.0 416.0L712.0 416.0L712.3 415.7L712.7 415.4L713.0 415.1L713.4 414.8L713.7 414.5L714.1 414.1L714.4 413.8L714.8 413.4L715.1 413.0L715.5 412.7L715.8 412.3L716.2 411.9L716.5 411.5L716.9 411.1L717.2 410.8L717.6 410.4L717.9 410.1L718.0 410.0L718.3 409.7L718.6 409.3L719.0 409.0L719.3 408.6L719.7 408.2L720.0 407.8L720.4 407.5L720.7 407.1L721.1 406.7L721.4 406.4L721.8 406.0L722.1 405.6L722.5 405.3L722.8 405.0L723.2 404.7L723.5 404.4L723.9 404.1L724.0 404.0L724.2 403.8L724.6 403.5L724.9 403.2L725.3 402.9L725.6 402.6L726.0 402.3L726.3 402.1L726.7 401.8L727.0 401.5L727.4 401.3L727.7 401.0L728.1 400.8L728.4 400.7L728.8 400.5L729.1 400.4L729.5 400.3L729.8 400.3L729.9 400.3L730.2 400.4L730.5 400.5L730.9 400.8L731.2 401.0L731.6 401.3L731.9 401.5L732.0 401.5L732.3 401.6L732.6 401.7L733.0 401.8L733.3 401.9L733.7 402.0L734.0 402.0L734.2 402.0L734.4 402.0L734.7 401.8L735.1 401.4L735.4 401.0L735.8 400.5L736.1 400.0L736.5 399.5L736.5 399.5L736.8 399.0L737.2 398.6L737.5 398.1L737.9 397.6L738.2 397.1L738.6 396.4L738.9 395.6L739.3 394.7L739.6 393.8L739.6 393.6L740.0 391.6L740.3 388.4L740.7 384.5L741.0 380.3L741.4 376.1L741.5 375.0L741.7 372.0L742.1 367.4L742.4 362.6L742.8 357.8L743.1 353.5L743.5 350.0L743.5 350.0L743.8 347.1L744.2 344.3L744.5 341.9L744.9 340.0L745.2 339.0L745.2 338.9L745.6 338.1L745.9 337.5L746.3 337.2L746.5 337.1L746.6 337.1L747.0 337.5L747.3 338.3L747.7 339.3L748.0 340.5L748.2 341.0L748.4 341.9L748.7 344.1L749.1 347.0L749.4 350.4L749.8 353.9L750.1 357.5L750.2 358.0L750.5 361.3L750.8 365.8L751.2 370.6L751.5 375.4L751.9 379.7L752.2 383.2L752.5 385.0L752.6 385.6L752.9 387.4L753.3 389.0L753.6 390.4L754.0 391.7L754.3 392.9L754.7 393.9L755.0 394.9L755.4 395.9L755.7 396.9L755.8 397.0L756.1 397.8L756.4 398.6L756.8 399.4L757.1 400.1L757.5 400.9L757.8 401.7L758.0 402.0L758.2 402.5L758.5 403.3L758.9 404.2L759.2 405.1L759.6 406.0L759.9 406.9L760.3 407.8L760.6 408.7L761.0 409.5L761.3 410.4L761.7 411.3L762.0 412.0L762.0 412.1L762.4 413.0L762.7 413.9L763.1 414.8L763.4 415.8L763.8 416.7L764.1 417.5L764.5 418.3L764.8 419.0L765.2 419.6L765.5 420.0L765.5 420.1L765.9 420.5L766.2 420.9L766.6 421.2L766.9 421.6L767.3 421.9L767.6 422.1L768.0 422.2L768.3 422.3L768.4 422.3L768.7 422.2L769.0 422.0L769.4 421.7L769.7 421.3L770.1 420.7L770.4 420.2L770.8 419.6L771.1 418.9L771.5 418.3L771.8 417.8L772.2 417.3L772.5 416.9L772.9 416.6L773.1 416.5L773.2 416.4L773.6 416.3L773.9 416.2L774.3 416.1L774.6 416.0L775.0 415.9L775.3 415.9L775.7 415.8L776.0 415.7L776.4 415.6L776.7 415.6L777.0 415.5L777.1 415.5L777.4 415.4L777.8 415.3L778.1 415.2L778.5 415.2L778.8 415.1L779.2 415.0L779.5 414.9L779.9 414.8L780.2 414.7L780.6 414.7L780.9 414.6L781.3 414.5L781.6 414.3L781.8 414.3L782.0 414.2L782.3 414.1L782.7 413.9L783.0 413.8L783.4 413.6L783.7 413.4L784.1 413.2L784.4 413.0L784.8 412.8L785.1 412.6L785.5 412.4L785.8 412.2L786.2 412.0L786.5 411.8L786.9 411.6L787.2 411.4L787.6 411.2L787.9 411.0L788.0 411.0L788.3 410.9L788.6 410.7L789.0 410.5L789.3 410.4L789.7 410.2L790.0 410.1L790.4 409.9L790.7 409.8L791.1 409.6L791.4 409.5L791.8 409.3L792.1 409.2L792.5 409.0L792.8 408.9L793.2 408.7L793.5 408.5L793.9 408.3L794.2 408.1L794.6 407.9L794.7 407.8L794.9 407.6L795.3 407.3L795.6 407.0L796.0 406.6L796.3 406.2L796.7 405.8L797.0 405.4L797.4 404.9L797.7 404.6L798.1 404.2L798.4 403.9L798.8 403.6L799.0 403.5L799.1 403.4L799.5 403.2L799.8 403.0L800.2 402.9L800.5 402.7L800.9 402.6L801.2 402.5L801.5 402.5L801.6 402.5L801.9 402.7L802.3 403.2L802.6 403.6L803.0 404.0L803.3 404.2L803.4 404.2L803.7 404.1L804.0 403.9L804.4 403.5L804.7 402.9L805.1 402.2L805.4 401.4L805.8 400.5L806.1 399.5L806.5 398.4L806.6 398.1L806.8 397.1L807.2 395.3L807.5 392.9L807.9 390.2L808.2 387.2L808.5 385.0L808.6 384.1L808.9 380.3L809.3 375.8L809.6 371.1L810.0 366.3L810.3 361.8L810.5 360.0L810.7 357.6L811.0 353.3L811.4 349.0L811.7 345.0L812.1 341.6L812.4 339.2L812.5 339.0L812.8 337.6L813.1 336.2L813.5 335.0L813.8 334.2L814.2 333.9L814.2 333.9L814.5 334.1L814.9 334.7L815.2 335.5L815.6 336.6L815.9 337.8L816.0 338.0L816.3 339.5L816.6 342.1L817.0 345.4L817.3 349.2L817.7 353.0L818.0 356.6L818.2 358.0L818.4 359.8L818.7 363.2L819.1 366.6L819.4 370.0L819.8 373.3L820.1 376.4L820.5 379.3L820.7 380.8L820.8 381.9L821.2 384.6L821.5 387.2L821.9 389.5L822.2 391.2L822.5 392.0L822.6 392.2L822.9 392.9L823.3 393.3L823.6 393.7L824.0 394.1L824.3 394.5L824.6 394.9L824.7 395.1L825.0 395.7L825.4 396.4L825.7 397.2L826.1 398.0L826.4 398.8L826.8 399.6L827.0 400.0L827.1 400.3L827.5 401.0L827.8 401.7L828.2 402.5L828.5 403.2L828.9 403.8L829.2 404.5L829.3 404.6L829.6 405.2L829.9 405.8L830.3 406.5L830.6 407.1L831.0 407.7L831.3 408.3L831.7 408.9L832.0 409.5L832.4 410.1L832.7 410.6L833.0 411.0L833.1 411.1L833.4 411.7L833.8 412.3L834.1 412.9L834.5 413.4L834.8 414.0L835.2 414.5L835.5 414.9L835.9 415.2L836.2 415.4L836.5 415.4L836.6 415.4L836.9 415.2L837.3 414.7L837.6 414.1L838.0 413.3L838.3 412.5L838.7 411.7L839.0 410.9L839.4 410.2L839.5 410.0L839.7 409.6L840.1 409.0L840.4 408.4L840.8 407.9L841.1 407.3L841.5 406.8L841.8 406.3L842.2 405.8L842.3 405.7L842.5 405.4L842.9 404.9L843.2 404.5L843.6 404.1L843.9 403.7L844.3 403.3L844.6 402.9L845.0 402.5L845.3 402.1L845.5 402.0L845.7 401.8L846.0 401.5L846.4 401.2L846.7 400.8L847.1 400.5L847.4 400.2L847.8 400.0L848.1 399.7L848.5 399.4L848.8 399.2L848.8 399.2L849.2 398.9L849.5 398.7L849.9 398.5L850.2 398.4L850.6 398.2L850.9 397.9L851.3 397.7L851.5 397.5L851.6 397.3L852.0 396.9L852.3 396.3L852.7 395.8L853.0 395.2L853.2 395.0L853.4 394.7L853.7 394.3L854.1 393.9L854.2 393.8" fill="none" stroke="#262626" stroke-width="1.28" stroke-linejoin="round" clip-path="url(#cppgA)"/>
<path d="M854.2 393.8L855.0 393.0L855.1 441" fill="none" stroke="#262626" stroke-width="1.28"/>
<path d="M994.0 413.5L994.4 408.6L994.7 403.9L995.1 399.0L995.4 394.2L995.8 389.0L996.0 384.9L996.1 383.5L996.5 377.6L996.8 370.8L997.2 364.0L997.5 357.4L997.9 352.3L998.0 350.1L998.2 347.2L998.6 343.0L998.9 338.5L999.3 335.6L999.6 332.2L1000.0 330.2L1000.0 330.3L1000.3 328.3L1000.7 327.2L1001.0 325.5L1001.4 324.2L1001.7 323.8L1002.1 323.1L1002.3 322.8L1002.4 323.0L1002.8 322.9L1003.1 323.2L1003.5 323.8L1003.8 324.7L1004.2 324.9L1004.5 325.7L1004.5 326.2L1004.9 326.9L1005.2 329.0L1005.6 331.4L1005.9 334.0L1006.3 337.3L1006.6 340.9L1007.0 344.5L1007.0 345.1L1007.3 348.8L1007.7 354.6L1008.0 360.7L1008.4 366.4L1008.7 371.2L1008.8 372.1L1009.1 374.2L1009.4 376.5L1009.8 378.7L1010.1 380.7L1010.5 382.1L1010.8 384.1L1010.9 384.4L1011.2 385.5L1011.5 387.1L1011.9 389.0L1012.2 389.6L1012.6 390.7L1012.6 390.1L1012.9 390.6L1013.3 391.2L1013.4 391.0L1013.6 391.8L1014.0 394.6L1014.3 397.8L1014.4 399.1L1014.7 400.9L1015.0 403.4L1015.4 406.0L1015.7 407.8L1016.1 409.9L1016.4 411.1L1016.5 411.9L1016.8 413.1L1017.1 414.6L1017.5 415.9L1017.8 417.0L1018.2 417.8L1018.5 418.7L1018.9 419.6L1019.0 420.0L1019.2 420.5L1019.6 421.6L1019.9 422.1L1020.3 422.6L1020.6 423.4L1021.0 425.0L1021.3 425.3L1021.7 425.6L1022.0 426.2L1022.4 426.9L1022.5 427.1L1022.7 427.3L1023.1 427.4L1023.4 428.1L1023.8 428.9L1024.1 429.5L1024.5 429.8L1024.8 430.4L1025.2 430.3L1025.5 430.5L1025.7 430.5L1025.9 430.7L1026.2 430.2L1026.6 430.4L1026.9 429.4L1027.3 429.3L1027.6 428.9L1028.0 428.7L1028.3 427.9L1028.5 427.8L1028.7 427.9L1029.0 428.0L1029.4 428.0L1029.7 427.3L1030.1 427.7L1030.4 427.8L1030.8 427.7L1031.1 427.7L1031.5 427.6L1031.8 427.6L1032.0 427.1L1032.2 427.6L1032.5 426.9L1032.9 427.3L1033.2 427.1L1033.6 427.3L1033.9 426.9L1034.3 427.2L1034.6 427.0L1035.0 426.9L1035.3 426.8L1035.4 426.7L1035.7 425.5L1036.0 422.2L1036.4 417.1L1036.7 411.7L1036.8 410.0L1037.1 405.4L1037.4 399.0L1037.8 391.4L1038.1 383.5L1038.5 375.9L1038.5 375.0L1038.8 368.8L1039.2 362.0L1039.5 355.1L1039.9 347.8L1040.2 341.1L1040.5 334.8L1040.6 333.8L1040.9 326.3L1041.3 318.2L1041.6 311.3L1042.0 306.5L1042.0 306.3L1042.3 303.5L1042.7 301.4L1043.0 299.2L1043.4 298.6L1043.4 298.8L1043.7 298.8L1044.1 298.6L1044.4 299.7L1044.8 300.6L1045.0 300.8L1045.1 301.3L1045.5 302.7L1045.8 304.8L1046.2 307.4L1046.5 309.4L1046.9 312.1L1046.9 312.9L1047.2 315.1L1047.6 318.0L1047.9 320.7L1048.3 324.2L1048.6 326.9L1049.0 330.9L1049.3 334.2L1049.7 337.7L1050.0 341.4L1050.4 345.4L1050.7 349.0L1051.1 352.0L1051.4 355.3L1051.8 358.7L1051.9 360.0L1052.1 361.5L1052.5 364.5L1052.8 367.5L1053.2 370.0L1053.5 372.3L1053.9 375.7L1054.2 378.6L1054.6 381.1L1054.9 383.7L1055.3 386.3L1055.6 389.1L1056.0 391.6L1056.3 394.1L1056.7 396.4L1057.0 399.0L1057.4 401.1L1057.7 403.2L1058.0 405.0L1058.1 405.2L1058.4 407.4L1058.8 409.8L1059.1 411.7L1059.5 413.6L1059.8 415.9L1060.2 417.9L1060.5 419.7L1060.9 421.7L1061.2 423.1L1061.6 424.9L1061.9 426.7L1062.3 427.7L1062.6 428.7L1062.9 429.5L1063.0 429.5L1063.3 429.8L1063.7 430.6L1064.0 431.2L1064.4 432.0L1064.7 432.7L1065.1 433.5L1065.4 433.5L1065.8 433.8L1066.1 434.4L1066.5 434.7L1066.8 435.0L1067.2 435.2L1067.5 435.4L1067.8 435.2L1067.9 435.4L1068.2 435.3L1068.6 434.8L1068.9 434.4L1069.3 433.6L1069.6 433.3L1069.8 432.8L1070.0 432.4L1070.3 431.9L1070.7 431.2L1071.0 430.6L1071.4 429.7L1071.7 429.3L1072.1 428.2L1072.4 427.1L1072.8 425.9L1072.9 425.3L1073.1 424.7L1073.5 422.9L1073.8 421.1L1074.2 418.9L1074.5 416.9L1074.9 414.3L1075.2 411.4L1075.6 408.3L1075.9 404.3L1076.3 401.2L1076.6 397.5L1077.0 393.4L1077.2 390.0L1077.3 389.0L1077.7 383.3L1078.0 375.7L1078.4 367.6L1078.7 359.6L1079.1 351.7L1079.2 349.5L1079.4 345.7L1079.8 339.1L1080.1 332.5L1080.5 326.5L1080.8 321.7L1081.2 317.7L1081.2 317.4L1081.5 315.0L1081.9 313.2L1082.2 311.1L1082.6 310.3L1082.9 309.5L1083.0 309.4L1083.3 309.7L1083.6 309.7L1084.0 310.5L1084.3 311.1L1084.6 311.8L1084.7 312.1L1085.0 313.3L1085.4 315.2L1085.7 317.3L1086.1 319.7L1086.4 323.0L1086.5 323.6L1086.8 325.5L1087.1 328.9L1087.5 332.5L1087.8 336.8L1088.2 340.8L1088.5 345.6L1088.9 350.1L1089.2 354.3L1089.6 358.7L1089.9 362.4L1090.2 365.4L1090.3 365.9L1090.6 368.8L1091.0 372.1L1091.3 375.7L1091.7 378.4L1092.0 381.6L1092.4 384.3L1092.7 387.6L1093.1 390.3L1093.4 392.9L1093.8 395.3L1094.1 397.8L1094.5 400.6L1094.8 402.6L1095.2 404.5L1095.3 406.2L1095.5 407.3L1095.9 409.1L1096.2 411.6L1096.6 413.9L1096.9 415.9L1097.3 418.3L1097.6 420.1L1098.0 421.6L1098.3 423.3L1098.7 425.0L1099.0 426.2L1099.4 426.9L1099.4 427.3L1099.7 427.6L1100.1 428.7L1100.4 429.0L1100.8 430.1L1101.1 431.1L1101.5 431.6L1101.8 431.6L1102.2 431.7L1102.5 432.7L1102.9 433.1L1103.2 433.1L1103.5 433.2L1103.6 432.8L1103.9 432.8L1104.3 432.3L1104.6 431.8L1105.0 431.4L1105.3 431.2L1105.5 430.7L1105.7 430.2L1106.0 429.9L1106.4 429.2L1106.7 428.8L1107.1 428.5L1107.4 427.6L1107.8 427.4L1108.1 426.7L1108.5 426.4L1108.8 425.3L1109.2 424.8L1109.5 423.8L1109.8 423.2L1109.9 422.7L1110.2 422.0L1110.6 420.8L1110.9 419.4L1111.3 418.2L1111.6 416.6L1112.0 414.8L1112.3 412.8L1112.7 410.8L1113.0 408.5L1113.4 406.4L1113.7 403.7L1114.1 401.0L1114.4 398.0L1114.8 394.9L1115.1 391.2L1115.4 388.2L1115.5 387.6L1115.8 382.2L1116.2 375.3L1116.5 367.1L1116.9 358.7L1117.2 350.8L1117.4 347.1L1117.6 343.9L1117.9 337.6L1118.3 330.8L1118.6 324.6L1119.0 319.4L1119.3 315.8L1119.4 315.1L1119.7 313.2L1120.0 311.1L1120.4 309.2L1120.7 307.9L1121.1 307.2L1121.2 307.1L1121.4 306.9L1121.8 307.1L1122.1 308.1L1122.5 308.4L1122.8 309.6L1122.8 309.4L1123.2 311.0L1123.5 312.5L1123.9 314.7L1124.2 316.9L1124.6 320.0L1124.7 320.9L1124.9 322.3L1125.3 325.0L1125.6 328.3L1126.0 331.2L1126.3 334.6L1126.7 337.7L1127.0 341.2L1127.4 344.8L1127.7 348.0L1128.1 351.7L1128.4 354.7L1128.8 358.3L1129.1 360.9L1129.4 363.3L1129.5 363.9L1129.8 366.6L1130.2 369.4L1130.5 372.1L1130.9 375.1L1131.2 377.4L1131.6 380.4L1131.9 383.0L1132.3 385.4L1132.6 387.8L1133.0 390.7L1133.3 392.2L1133.7 395.0L1134.0 397.3L1134.4 399.6L1134.7 401.7L1135.1 403.9L1135.2 404.8L1135.4 405.8L1135.8 407.5L1136.1 409.7L1136.5 411.9L1136.8 413.4L1137.2 415.4L1137.5 416.9L1137.9 419.0L1138.2 420.4L1138.6 422.2L1138.9 423.2L1139.3 424.6L1139.6 425.4L1139.9 426.3L1140.0 426.5L1140.3 427.5L1140.7 427.8L1141.0 428.5L1141.4 429.4L1141.7 429.8L1142.1 430.0L1142.4 430.8L1142.8 431.2L1143.1 431.7L1143.5 431.9L1143.8 431.7L1144.2 432.1L1144.5 432.7L1144.6 432.5L1144.9 432.1L1145.2 431.9L1145.6 431.5L1145.9 430.7L1146.3 429.7L1146.6 429.9L1146.6 429.6L1147.0 429.1L1147.3 428.6L1147.7 428.1L1148.0 427.5L1148.4 427.3L1148.7 426.3L1149.1 425.8L1149.4 424.9L1149.8 424.3L1150.1 423.2L1150.4 421.9L1150.5 422.5L1150.8 421.3L1151.2 419.7L1151.5 417.7L1151.9 416.5L1152.2 414.3L1152.6 411.9L1152.9 409.5L1153.3 407.3L1153.6 404.2L1154.0 401.4L1154.3 398.1L1154.7 395.1L1155.0 391.3L1155.4 387.9L1155.4 387.2L1155.7 383.8L1156.1 377.4L1156.4 370.7L1156.8 363.7L1157.1 356.6L1157.4 350.7L1157.5 350.2L1157.8 343.8L1158.2 337.2L1158.5 330.7L1158.9 325.4L1159.2 321.0L1159.4 318.9L1159.6 317.8L1159.9 315.7L1160.3 313.8L1160.6 312.4L1161.0 311.0L1161.2 310.9L1161.3 310.6L1161.7 311.1L1162.0 312.0L1162.4 312.9L1162.7 313.4L1162.8 313.5L1163.1 314.2L1163.4 316.3L1163.8 318.2L1164.1 320.5L1164.5 323.0L1164.7 324.9L1164.8 325.9L1165.2 329.6L1165.5 333.2L1165.9 337.7L1166.2 342.6L1166.6 347.4L1166.9 352.6L1167.3 356.8L1167.6 361.3L1167.9 364.2L1168.0 365.2L1168.3 368.5L1168.7 371.6L1169.0 374.9L1169.4 378.2L1169.7 381.5L1170.1 384.3L1170.4 387.2L1170.8 389.7L1171.1 392.3L1171.5 394.9L1171.8 397.6L1172.2 400.2L1172.5 402.4L1172.7 403.7L1172.9 404.4L1173.2 406.8L1173.6 409.1L1173.9 411.1L1174.3 413.0L1174.6 415.3L1175.0 417.6L1175.3 418.8L1175.7 420.9L1176.0 422.2L1176.4 423.1L1176.5 423.5L1176.7 424.0L1177.1 424.9L1177.4 425.9L1177.8 426.6L1178.1 427.3L1178.5 427.8L1178.8 428.3L1179.2 428.8L1179.5 428.9L1179.9 429.2L1180.2 429.5L1180.3 429.1L1180.6 429.4L1180.9 429.1L1181.3 428.6L1181.6 428.0L1182.0 427.4L1182.3 427.4L1182.3 426.6L1182.7 426.4L1183.0 425.8L1183.4 425.8L1183.7 425.5L1184.1 425.3L1184.4 424.5L1184.8 424.3L1185.1 423.6L1185.5 423.4L1185.8 423.1L1186.2 422.2L1186.5 422.0L1186.9 421.4L1187.2 421.0L1187.6 420.4L1187.9 419.3L1187.9 419.5L1188.3 418.5L1188.6 417.5L1189.0 416.8L1189.3 415.8L1189.7 414.5L1190.0 413.2L1190.4 412.3L1190.7 410.5L1191.1 409.1L1191.4 407.5L1191.8 405.4L1192.1 403.9L1192.5 401.4L1192.8 399.2L1193.2 396.7L1193.5 394.4L1193.9 392.0L1194.2 389.3L1194.6 386.6L1194.8 384.6L1194.9 383.3L1195.3 379.5L1195.6 374.7L1196.0 369.2L1196.3 363.3L1196.7 357.8L1196.8 355.3L1197.0 352.4L1197.4 345.8L1197.7 339.3L1198.1 332.6L1198.4 327.6L1198.8 324.1L1198.8 323.5L1199.1 321.6L1199.5 319.3L1199.8 317.4L1200.2 316.3L1200.5 315.6L1200.6 315.6L1200.9 315.4L1201.2 315.8L1201.6 316.0L1201.9 317.3L1202.2 317.8L1202.3 318.0L1202.6 319.6L1203.0 321.3L1203.3 323.7L1203.7 326.0L1204.0 328.8L1204.1 329.5L1204.4 331.4L1204.7 334.3L1205.1 337.9L1205.4 340.8L1205.8 344.7L1206.1 348.4L1206.5 352.3L1206.8 355.9L1207.2 359.3L1207.5 362.8L1207.9 366.3L1208.0 367.7L1208.2 368.9L1208.6 371.9L1208.9 374.7L1209.3 377.8L1209.6 380.2L1210.0 383.2L1210.3 385.9L1210.7 388.2L1211.0 391.2L1211.4 393.2L1211.7 395.6L1212.1 398.1L1212.4 400.0L1212.8 402.3L1213.1 404.1L1213.3 405.5L1213.5 406.3L1213.8 408.0L1214.2 410.4L1214.5 412.3L1214.9 414.0L1215.2 416.0L1215.6 417.8L1215.9 419.1L1216.3 420.9L1216.6 422.2L1217.0 423.2L1217.3 424.4L1217.6 424.8L1217.7 424.6L1218.0 426.0L1218.4 426.7L1218.7 427.7L1219.1 428.0L1219.4 428.9L1219.8 429.1L1220.1 429.5L1220.5 430.1L1220.8 430.6L1221.2 430.8L1221.5 431.2L1221.8 431.2L1221.9 430.8L1222.2 430.7L1222.6 430.8L1222.9 430.2L1223.3 429.2L1223.6 428.7L1223.8 428.9L1224.0 428.1L1224.3 428.1L1224.7 426.9L1225.0 426.8L1225.4 426.1L1225.7 425.8L1226.1 425.4L1226.4 424.6L1226.8 424.1L1227.1 423.4L1227.5 422.7L1227.8 421.5L1227.9 420.6L1228.2 420.1L1228.5 419.5L1228.9 418.1L1229.2 416.7L1229.6 414.8L1229.9 412.9L1230.3 410.6L1230.6 408.6L1231.0 406.4L1231.3 403.8L1231.7 400.9L1232.0 398.6L1232.4 395.2L1232.7 392.0L1233.1 388.6L1233.3 386.0L1233.4 384.7L1233.8 379.9L1234.1 373.2L1234.5 365.8L1234.8 358.9L1235.2 351.7L1235.3 349.1L1235.5 345.1L1235.9 339.2L1236.2 332.1L1236.6 325.9L1236.9 320.9L1237.3 317.2L1237.3 316.8L1237.6 315.1L1238.0 313.1L1238.3 310.9L1238.7 309.7L1239.0 309.0L1239.1 309.0L1239.4 308.8L1239.7 309.8L1240.1 309.8L1240.4 310.7L1240.7 311.9L1240.8 311.6L1241.1 312.7L1241.5 314.8L1241.8 317.5L1242.2 319.6L1242.5 322.0L1242.6 323.1L1242.9 325.1L1243.2 328.2L1243.6 332.2L1243.9 335.7L1244.3 340.5L1244.6 344.9L1245.0 349.3L1245.3 353.4L1245.7 357.9L1246.0 361.6L1246.3 364.5L1246.4 364.8L1246.7 368.3L1247.1 371.6L1247.4 374.7L1247.8 377.3L1248.1 380.4L1248.5 383.2L1248.8 386.1L1249.2 388.9L1249.5 391.9L1249.9 394.5L1250.2 396.7L1250.6 399.3L1250.9 401.3L1251.3 403.4L1251.4 404.3L1251.6 405.7L1252.0 408.5L1252.3 410.3L1252.7 412.5L1253.0 414.7L1253.4 416.2L1253.7 418.4L1254.1 420.3L1254.4 422.1L1254.8 423.4L1255.1 424.2L1255.5 425.1L1255.5 425.7L1255.8 426.3L1256.2 426.8L1256.5 427.5L1256.9 428.5L1257.2 428.9L1257.6 429.8L1257.9 430.3L1258.3 430.7L1258.6 431.5L1259.0 431.2L1259.3 431.3L1259.6 431.5L1259.7 431.1L1260.0 431.6L1260.4 431.2L1260.7 430.6L1261.1 430.0L1261.4 429.4L1261.6 428.8L1261.8 428.9L1262.1 428.4L1262.5 428.1L1262.8 427.6L1263.2 427.3L1263.5 426.7L1263.9 425.7L1264.2 425.5L1264.6 425.2L1264.9 424.4L1265.3 423.9L1265.6 423.3L1266.0 422.2L1266.3 421.6L1266.3 421.9L1266.7 420.7L1267.0 419.5L1267.4 418.4L1267.7 417.0L1268.1 415.3L1268.4 414.0L1268.8 412.1L1269.1 409.8L1269.5 408.4L1269.8 405.7L1270.2 403.5L1270.5 401.1L1270.9 398.3L1271.2 395.3L1271.6 392.1L1271.9 389.3L1272.2 386.6L1272.3 385.9L1272.6 381.6L1273.0 376.2L1273.3 369.3L1273.7 363.5L1274.0 356.2L1274.2 352.5L1274.4 350.2L1274.7 343.7L1275.1 337.3L1275.4 330.5L1275.8 325.5L1276.1 321.3L1276.2 320.8L1276.5 319.3L1276.8 316.8L1277.2 315.2L1277.5 313.5L1277.9 313.0L1278.0 312.6L1278.2 312.7L1278.6 313.1L1278.9 313.3L1279.3 314.2L1279.6 315.1L1279.6 315.5L1280.0 316.4L1280.3 318.0L1280.7 320.2L1281.0 323.0L1281.4 325.4L1281.5 326.7L1281.7 328.0L1282.1 330.9L1282.4 334.4L1282.8 337.3L1283.1 341.6L1283.5 344.7L1283.8 348.2L1284.2 352.3L1284.5 356.0L1284.9 359.5L1285.2 362.7L1285.6 365.5L1285.6 365.7L1285.9 368.5L1286.3 371.5L1286.6 374.4L1287.0 377.1L1287.3 379.9L1287.7 382.0L1288.0 384.9L1288.4 387.9L1288.7 390.1L1289.1 392.6L1289.4 394.8L1289.8 397.3L1290.1 399.4L1290.5 401.2L1290.8 403.8L1291.0 404.7L1291.2 405.5L1291.5 407.2L1291.9 409.5L1292.2 411.3L1292.6 413.6L1292.9 415.2L1293.3 416.7L1293.6 418.5L1294.0 420.6L1294.3 421.5L1294.7 422.6L1295.0 423.8L1295.3 424.2L1295.4 424.8L1295.7 425.1L1296.1 426.2L1296.4 427.0L1296.8 427.7L1297.1 428.1L1297.5 428.6L1297.8 429.2L1298.2 429.7L1298.5 430.1L1298.9 430.2L1299.2 430.5L1299.6 430.4L1299.6 430.3L1299.9 430.6L1300.3 430.2L1300.6 429.7L1301.0 429.4L1301.3 428.3L1301.6 427.9L1301.7 427.8L1302.0 427.6L1302.4 426.7L1302.7 426.4L1303.1 426.3L1303.4 425.4L1303.8 425.4L1304.1 425.1L1304.5 424.4L1304.8 423.6L1305.2 423.1L1305.5 422.4L1305.9 421.9L1306.2 421.4L1306.5 420.7L1306.6 419.9L1306.9 419.3L1307.3 418.5L1307.6 417.2L1308.0 415.5L1308.3 414.6L1308.7 413.1L1309.0 411.3L1309.4 409.5L1309.7 407.7L1310.1 405.1L1310.4 403.1L1310.8 400.8L1311.1 398.9L1311.5 395.4L1311.8 392.8L1312.2 390.0L1312.5 386.6L1312.6 385.7L1312.9 382.9L1313.2 376.9L1313.6 370.9L1313.9 363.7L1314.3 357.2L1314.6 350.6L1314.6 350.6L1315.0 344.3L1315.3 337.4L1315.7 331.3L1316.0 325.0L1316.4 320.7L1316.6 318.4L1316.7 318.0L1317.1 315.5L1317.4 313.3L1317.8 312.0L1318.1 311.2L1318.4 310.3L1318.5 310.8L1318.8 310.6L1319.2 311.1L1319.5 311.8L1319.9 312.4L1320.0 313.3L1320.2 313.8L1320.6 315.4L1320.9 317.2L1321.3 320.0L1321.6 322.3L1321.9 324.8L1322.0 324.5L1322.3 327.3L1322.7 329.3L1323.0 331.8L1323.4 334.7L1323.7 337.4L1324.1 340.1L1324.4 342.5L1324.8 345.1L1325.1 348.1L1325.5 350.4L1325.8 353.1L1326.2 356.1L1326.5 358.7L1326.9 361.2L1327.2 364.0L1327.6 365.8L1327.9 368.3L1327.9 369.0L1328.3 370.9L1328.6 373.1L1329.0 376.0L1329.3 378.2L1329.7 380.7L1330.0 383.0L1330.4 385.1L1330.7 387.5L1331.1 389.6L1331.4 392.6L1331.8 394.1L1332.1 396.5L1332.5 398.5L1332.8 400.9L1333.2 403.1L1333.5 404.7L1333.9 406.8L1334.2 408.7L1334.6 410.8L1334.6 410.5L1334.9 412.1L1335.3 414.2L1335.6 415.3L1336.0 417.4L1336.3 419.1L1336.7 420.6L1337.0 422.4L1337.4 424.1L1337.7 425.8L1338.1 427.2L1338.4 428.3L1338.8 429.4L1339.1 430.9L1339.5 431.3L1339.8 432.3L1340.0 432.6L1340.2 432.7L1340.5 433.7L1340.9 434.0L1341.2 434.7L1341.6 435.6L1341.9 436.2L1342.3 436.1L1342.6 436.7L1343.0 437.1L1343.3 437.4L1343.7 438.3L1344.0 438.5L1344.4 438.6L1344.7 438.5L1345.1 438.9L1345.4 438.8L1345.4 438.8L1345.8 438.8L1346.1 438.7L1346.5 437.9L1346.8 437.3L1347.2 436.6L1347.4 436.6L1347.5 436.2L1347.9 434.8L1348.2 434.2L1348.6 433.0L1348.9 431.0L1349.3 429.3L1349.4 429.0L1349.6 427.6L1350.0 424.9L1350.3 422.3L1350.7 419.1L1351.0 415.1L1351.4 411.0L1351.7 406.7L1352.1 401.9L1352.4 397.2L1352.6 394.1L1352.8 391.4L1353.1 383.8L1353.5 375.1L1353.8 365.5L1354.2 356.9L1354.5 348.8L1354.6 346.8L1354.9 342.2L1355.2 335.5L1355.6 328.4L1355.9 323.0L1356.3 318.3L1356.6 314.8L1356.6 314.8L1357.0 312.9L1357.3 310.6L1357.7 309.1L1358.0 307.3L1358.4 306.7L1358.4 306.8L1358.7 307.2L1359.1 307.7L1359.4 308.4L1359.8 308.7L1360.0 309.1L1360.1 309.9L1360.5 311.2L1360.8 313.0L1361.2 315.5L1361.5 317.6L1361.9 320.2L1361.9 321.3L1362.2 323.7L1362.6 327.4L1362.9 332.0L1363.3 337.1L1363.6 341.6L1364.0 347.0L1364.3 351.5L1364.7 356.3L1365.0 359.9L1365.1 360.7L1365.4 363.4L1365.7 366.9L1366.1 370.2L1366.4 373.3L1366.8 376.5L1367.1 379.6L1367.5 382.4L1367.8 385.2L1368.2 388.1L1368.5 390.9L1368.9 393.2L1369.2 395.5L1369.6 397.8L1369.8 399.6L1369.9 400.6L1370.3 402.3L1370.6 405.1L1371.0 407.0L1371.3 409.1L1371.7 411.2L1372.0 413.5L1372.4 415.0L1372.7 417.0L1373.1 418.5L1373.4 419.1L1373.6 419.5L1373.8 419.8L1374.1 421.1L1374.5 421.6L1374.8 422.5L1375.2 423.1L1375.5 424.2L1375.9 424.7L1376.2 425.1L1376.6 425.0L1376.9 425.5L1377.3 425.8L1377.4 425.8L1377.6 425.8L1378.0 425.9L1378.3 425.3L1378.7 424.8L1379.0 423.9L1379.4 423.0L1379.7 422.1L1380.1 421.3L1380.4 419.9L1380.5 419.9L1380.8 419.1L1381.1 417.3L1381.5 415.4L1381.8 412.7L1382.2 410.5L1382.5 408.2L1382.9 406.1L1383.0 405.0L1383.2 403.8L1383.6 401.5L1383.9 399.3L1384.3 396.9L1384.6 395.0L1385.0 393.0L1385.3 391.7L1385.5 390.9L1385.7 390.3L1386.0 389.4L1386.4 389.1L1386.7 388.0L1387.1 387.5L1387.4 387.9L1387.6 387.1L1387.8 387.3L1388.1 387.5L1388.5 388.3L1388.8 389.3L1389.0 389.4L1389.2 390.1L1389.5 390.1L1389.9 390.6L1390.2 390.8L1390.4 391.2L1390.6 390.9L1390.9 389.6L1391.3 386.8L1391.6 383.9L1392.0 380.3L1392.0 380.0L1392.3 376.8L1392.7 372.0L1393.0 367.0L1393.4 361.5L1393.7 356.3L1394.0 351.6L1394.1 351.6L1394.4 346.5L1394.8 341.6L1395.1 336.7L1395.5 331.8L1395.8 328.4L1396.2 325.4L1396.2 324.9L1396.5 323.6L1396.9 322.0L1397.0 321.2L1397.2 320.6L1397.6 318.6L1397.9 316.5L1398.3 314.6L1398.6 313.9L1398.8 313.3L1399.0 313.5L1399.3 313.7L1399.7 314.2L1400.0 315.1L1400.4 315.6L1400.4 316.0L1400.7 317.0L1401.1 318.6L1401.4 320.7L1401.8 323.0L1402.1 325.9L1402.3 327.7L1402.5 328.4L1402.8 331.3L1403.2 334.6L1403.5 338.3L1403.9 342.0L1404.2 345.8L1404.6 349.6L1404.9 353.2L1405.3 357.4L1405.6 360.7L1406.0 364.3L1406.2 366.6L1406.3 367.3L1406.7 370.4L1407.0 373.2L1407.4 376.5L1407.7 379.2L1408.1 381.9L1408.4 384.4L1408.8 387.2L1409.1 389.8L1409.5 392.4L1409.8 394.7L1410.2 396.9L1410.5 399.2L1410.9 401.6L1411.2 403.9L1411.5 405.6L1411.6 405.7L1411.9 407.7L1412.3 409.9L1412.6 411.7L1413.0 413.7L1413.3 415.7L1413.7 417.7L1414.0 419.0L1414.4 420.8L1414.7 422.3L1415.1 423.5L1415.4 424.8L1415.8 425.8L1415.8 425.5L1416.1 426.8L1416.5 427.2L1416.8 428.1L1417.2 428.6L1417.5 428.8L1417.9 429.5L1418.2 430.3L1418.6 430.8L1418.9 431.2L1419.3 431.0L1419.6 431.4L1420.0 431.7L1420.0 431.9L1420.3 431.6L1420.7 430.9L1421.0 430.5L1421.4 430.0L1421.7 429.4L1422.0 429.3L1422.1 429.3L1422.4 428.9L1422.8 428.0L1423.1 427.7L1423.5 427.3L1423.8 427.2L1424.2 426.9L1424.5 426.3L1424.9 426.3L1425.2 426.0L1425.6 425.6L1425.9 425.4L1426.3 424.7L1426.6 424.3L1427.0 424.4L1427.3 423.6L1427.7 423.4L1428.0 422.5L1428.4 421.7L1428.7 421.7L1428.7 421.3L1429.1 420.7L1429.4 420.3L1429.8 419.0L1430.1 418.4L1430.5 417.8L1430.8 417.0L1431.2 415.3L1431.5 414.4L1431.9 412.9L1432.2 412.0L1432.6 410.2L1432.9 409.0L1433.3 406.9L1433.6 405.6L1434.0 403.9L1434.3 401.8L1434.7 399.6L1435.0 397.3L1435.4 394.8L1435.7 392.8L1436.1 390.3L1436.4 387.5L1436.5 386.3L1436.8 383.9L1437.1 379.0L1437.5 373.1L1437.8 366.2L1438.2 359.2L1438.5 352.4L1438.5 352.3L1438.9 346.5L1439.2 340.0L1439.6 333.7L1439.9 327.4L1440.3 323.2L1440.5 320.6L1440.6 320.1L1441.0 317.6L1441.3 315.5L1441.7 313.9L1442.0 312.9L1442.3 312.5L1442.4 312.5L1442.7 312.9L1443.1 313.1L1443.4 314.0L1443.8 314.7L1443.9 315.1L1444.1 316.0L1444.5 317.2L1444.8 319.8L1445.2 321.5L1445.5 324.3L1445.8 326.8L1445.9 326.6L1446.2 329.9L1446.6 333.4L1446.9 336.6L1447.3 341.0L1447.6 345.1L1448.0 348.8L1448.3 352.7L1448.7 356.7L1449.0 360.4L1449.4 363.4L1449.4 363.9L1449.7 366.9L1450.1 369.5L1450.4 372.4L1450.8 375.1L1451.1 377.5L1451.5 380.9L1451.8 383.6L1452.2 386.2L1452.5 388.7L1452.9 391.4L1453.2 393.7L1453.6 395.9L1453.9 398.1L1454.3 400.1L1454.5 401.6L1454.6 402.1L1455.0 404.5L1455.3 406.3L1455.7 408.2L1456.0 410.6L1456.4 412.2L1456.7 413.5L1457.1 415.2L1457.4 416.9L1457.8 418.2L1458.1 419.7L1458.5 420.5L1458.5 420.8L1458.8 421.4L1459.2 422.1L1459.5 422.3L1459.9 423.1L1460.2 423.9L1460.6 424.8L1460.9 425.3L1461.3 426.1L1461.6 426.4L1462.0 426.7L1462.3 426.4L1462.6 426.6L1462.7 426.8L1463.0 426.2L1463.4 425.9L1463.7 425.9L1464.1 425.4L1464.4 424.0L1464.6 424.1L1464.8 423.7L1465.1 423.1L1465.5 422.9L1465.8 422.8L1466.2 422.5L1466.5 422.0L1466.9 421.8L1467.2 421.0L1467.6 420.8L1467.9 420.7L1468.3 420.1L1468.6 419.3L1469.0 418.8L1469.3 418.5L1469.7 417.9L1470.0 417.3L1470.3 416.6L1470.4 416.6L1470.7 415.7L1471.1 414.9L1471.4 413.8L1471.8 412.6L1472.1 411.6L1472.5 410.1L1472.8 408.6L1473.2 407.4L1473.5 405.7L1473.9 404.2L1474.2 402.3L1474.6 400.0L1474.9 398.0L1475.3 395.7L1475.6 393.4L1476.0 391.6L1476.3 389.1L1476.7 386.3L1477.0 384.2L1477.3 381.7L1477.4 381.4L1477.7 377.9L1478.1 373.7L1478.4 370.0L1478.8 365.1L1479.1 360.1L1479.3 357.8L1479.5 355.6L1479.8 349.3L1480.2 342.8L1480.5 336.4L1480.9 330.6L1481.2 326.4L1481.3 326.0L1481.6 323.9L1481.9 322.0L1482.3 319.9L1482.6 318.5L1483.0 318.0L1483.1 317.6L1483.3 317.8L1483.7 318.2L1484.0 318.9L1484.4 319.4L1484.7 319.9L1484.7 319.8L1485.1 321.1L1485.4 323.1L1485.8 325.6L1486.1 328.1L1486.5 330.5L1486.6 331.7L1486.8 332.9L1487.2 335.7L1487.5 338.6L1487.9 342.0L1488.2 344.6L1488.6 347.7L1488.9 350.9L1489.3 354.0L1489.6 357.5L1490.0 360.1L1490.3 363.7L1490.7 365.8L1491.0 368.6L1491.4 371.2L1491.7 373.0L1491.7 373.2L1492.1 374.5L1492.4 376.7L1492.8 378.3L1493.1 380.0L1493.5 381.1L1493.8 382.6L1494.2 383.5L1494.5 385.3L1494.9 386.2L1495.2 387.7L1495.6 389.2L1495.9 389.9L1496.3 391.4L1496.6 392.5L1497.0 393.7L1497.3 394.8L1497.7 396.5L1498.0 398.1L1498.0 398.3L1498.4 399.9L1498.7 401.2L1499.1 403.1L1499.4 404.5L1499.8 406.0L1500.1 407.5L1500.5 409.0L1500.5 409.1L1500.8 409.5L1501.2 410.8L1501.5 411.4L1501.9 412.4L1502.2 413.2L1502.2 412.9L1502.6 414.0L1502.9 415.4L1503.3 416.8L1503.5 418.0L1503.6 418.3L1504.0 421.6L1504.3 424.3L1504.7 428.9L1505.0 432.1L1505.4 435.0L1505.5 436.3L1505.7 437.0L1506.1 438.9L1506.4 440.2L1506.8 441.1L1506.8 441.1L1507.1 441.2L1507.5 440.7L1507.6 440.3L1507.8 440.0L1508.2 439.6L1508.5 439.1L1508.9 438.7L1509.2 438.2L1509.6 437.9L1509.6 437.8L1509.9 437.2L1510.3 437.0L1510.6 436.0L1511.0 435.9L1511.3 435.0L1511.7 434.9L1512.0 434.6L1512.4 433.9L1512.7 433.0L1513.1 432.5L1513.4 431.8L1513.8 430.9L1514.0 430.3L1514.1 430.0L1514.5 429.0L1514.8 427.9L1515.2 427.0L1515.5 425.4L1515.9 423.9L1516.2 422.7L1516.6 420.6L1516.9 418.5L1517.3 416.8L1517.6 414.2L1518.0 411.7L1518.3 408.8L1518.7 406.1L1519.0 402.8L1519.4 399.3L1519.7 395.1L1519.7 395.8L1520.1 388.8L1520.4 378.7L1520.8 366.9L1521.1 354.3L1521.5 343.5L1521.7 337.5L1521.8 335.6L1522.2 328.7L1522.5 321.8L1522.9 315.6L1523.2 310.6L1523.6 306.5L1523.7 305.9L1523.9 304.3L1524.3 302.1L1524.6 299.9L1525.0 298.4L1525.3 297.5L1525.5 297.4L1525.7 297.5L1526.0 298.1L1526.4 298.3L1526.7 299.3L1527.1 300.1L1527.1 300.2L1527.4 301.3L1527.8 302.4L1528.1 305.2L1528.5 307.5L1528.8 310.4L1529.0 311.7L1529.2 312.6L1529.5 315.3L1529.9 318.1L1530.2 321.3L1530.6 324.0L1530.9 327.2L1531.3 330.3L1531.6 333.7L1532.0 337.1L1532.3 340.3L1532.7 343.5L1533.0 347.1L1533.4 350.2L1533.7 353.1L1534.1 355.8L1534.4 358.5L1534.4 358.8L1534.8 361.7L1535.1 364.3L1535.5 366.8L1535.8 369.7L1536.2 372.7L1536.5 375.1L1536.9 377.4L1537.2 380.1L1537.6 382.9L1537.9 385.5L1538.3 387.4L1538.6 390.3L1539.0 392.7L1539.3 395.0L1539.7 396.6L1540.0 399.1L1540.4 401.4L1540.7 403.2L1540.7 403.0L1541.1 404.9L1541.4 407.1L1541.8 409.2L1542.1 410.9L1542.5 413.1L1542.8 415.3L1543.2 417.2L1543.5 418.7L1543.9 420.6L1544.2 421.9L1544.6 423.2L1544.9 424.4L1545.3 425.4L1545.6 426.3L1545.7 426.7L1546.0 427.5L1546.3 428.0L1546.7 428.8L1547.0 428.8L1547.4 429.7L1547.7 430.0L1548.1 430.3L1548.4 431.2L1548.8 431.4L1549.1 432.0L1549.5 432.7L1549.8 432.4L1550.2 432.6L1550.5 432.5L1550.8 432.4L1550.9 432.7L1551.2 432.4L1551.6 432.2L1551.9 431.6L1552.3 431.2L1552.6 430.6L1552.8 430.5L1553.0 429.7L1553.3 429.2L1553.7 429.0L1554.0 428.2L1554.4 427.2L1554.7 427.0L1555.1 425.0L1555.4 424.4L1555.8 423.3L1555.9 422.8L1556.1 421.9L1556.5 420.7L1556.8 419.1L1557.2 417.3L1557.5 414.5L1557.9 412.4L1558.2 409.7L1558.6 407.1L1558.9 404.0L1559.3 400.4L1559.6 396.1L1560.0 392.2L1560.3 387.7L1560.3 387.7L1560.7 381.2L1561.0 372.3L1561.4 361.6L1561.7 351.0L1562.1 341.1L1562.3 335.9L1562.4 333.1L1562.8 326.3L1563.1 319.6L1563.5 313.7L1563.8 308.7L1564.2 304.6L1564.3 304.0L1564.5 302.1L1564.9 300.1L1565.2 297.8L1565.6 296.2L1565.9 296.0L1566.1 295.2L1566.3 295.1L1566.6 295.6L1567.0 296.3L1567.3 297.2L1567.7 297.7L1567.7 297.9L1568.0 298.9L1568.4 300.6L1568.7 302.4L1569.1 305.1L1569.4 307.6L1569.6 309.5L1569.8 310.9L1570.1 315.0L1570.5 320.1L1570.8 325.2L1571.2 331.0L1571.5 337.1L1571.9 342.7L1572.0 345.0L1572.2 348.2L1572.6 353.7L1572.9 359.4L1573.3 364.8L1573.6 369.9L1574.0 374.3L1574.0 375.2L1574.3 378.5L1574.7 382.6L1575.0 386.2L1575.4 389.4L1575.7 392.7L1576.1 395.3L1576.4 397.5L1576.5 397.7L1576.8 399.3L1577.1 400.8L1577.5 402.0L1577.8 403.6L1578.2 404.8L1578.5 405.5L1578.9 406.4L1579.2 407.5L1579.5 408.2L1579.6 408.2L1579.9 408.3L1580.3 409.1L1580.6 409.9L1581.0 410.2L1581.3 411.1L1581.7 411.6L1582.0 411.6L1582.4 412.1L1582.7 412.5L1583.1 412.7L1583.4 412.7L1583.8 412.8L1583.8 412.8L1584.1 412.7L1584.5 411.2L1584.8 409.3L1585.2 406.8L1585.5 404.6L1585.9 402.8L1586.0 402.0L1586.2 401.1L1586.6 400.0L1586.9 398.5L1587.3 397.3L1587.6 396.4L1588.0 395.8L1588.1 396.0L1588.3 395.9L1588.7 396.7L1589.0 397.9L1589.4 399.1L1589.7 400.9L1590.0 402.2L1590.1 402.0L1590.4 403.5L1590.8 405.1L1591.1 406.8L1591.5 408.6L1591.8 410.2L1592.2 411.6L1592.5 413.1L1592.5 412.6L1592.9 414.0L1593.2 415.6L1593.6 416.4L1593.9 417.6L1594.3 418.7L1594.6 419.6L1595.0 419.7L1595.0 419.9L1595.3 420.3L1595.7 420.7L1596.0 421.3L1596.4 421.2L1596.7 422.0L1597.1 422.2L1597.4 422.8L1597.8 422.5L1598.0 423.1L1598.1 423.0L1598.5 423.3L1598.8 424.1L1599.2 424.5L1599.5 424.4L1599.9 425.2L1600.2 425.4L1600.6 425.6L1600.9 425.7L1601.1 425.8L1601.3 425.6L1601.6 425.5L1602.0 424.4L1602.3 424.2L1602.7 423.0L1603.0 421.7L1603.4 420.6L1603.5 420.0L1603.7 419.3L1604.1 417.4L1604.4 414.8L1604.8 411.2L1605.1 409.0L1605.5 405.5L1605.5 405.1L1605.8 401.7L1606.2 397.5L1606.5 392.7L1606.9 388.1L1607.2 383.6L1607.5 380.1L1607.6 379.5L1607.9 375.9L1608.3 372.1L1608.6 368.5L1609.0 365.2L1609.3 363.1L1609.5 361.9L1609.7 361.5L1610.0 360.4L1610.4 358.7L1610.7 357.9L1611.1 357.2L1611.3 357.9L1611.4 357.5L1611.8 358.0L1612.1 358.8L1612.5 359.9L1612.8 361.1L1613.0 362.0L1613.2 362.4L1613.5 364.6L1613.9 367.1L1614.2 369.8L1614.6 371.7L1614.9 374.3L1615.0 374.8L1615.3 376.3L1615.6 378.7L1616.0 381.3L1616.3 383.9L1616.7 386.1L1617.0 387.6L1617.4 389.5L1617.5 389.9L1617.7 390.7L1618.1 391.9L1618.4 392.9L1618.8 393.8L1619.1 394.5L1619.5 395.1L1619.8 395.7L1620.0 396.1L1620.2 396.2L1620.5 396.7L1620.9 397.1L1621.2 397.6L1621.6 397.5L1621.9 397.9L1622.3 398.3L1622.6 398.6L1623.0 398.5L1623.0 399.2L1623.3 399.6L1623.7 399.4L1624.0 399.9L1624.4 400.9L1624.7 400.8L1625.1 401.5L1625.4 401.8L1625.8 401.9L1626.0 402.1L1626.1 401.8L1626.5 401.2L1626.8 400.4L1627.2 399.1L1627.5 397.6L1627.9 395.9L1628.0 395.3L1628.2 393.9L1628.6 390.8L1628.9 387.2L1629.3 382.9L1629.6 379.0L1630.0 375.3L1630.0 374.7L1630.3 372.1L1630.7 368.0L1631.0 364.5L1631.4 362.3L1631.5 362.3L1631.7 361.8L1632.1 361.0L1632.4 360.7L1632.8 359.9L1632.9 360.1L1633.1 360.4L1633.5 360.8L1633.8 361.9L1634.2 363.4L1634.5 365.1L1634.5 365.3L1634.9 366.6L1635.2 369.6L1635.6 372.0L1635.9 375.3L1636.3 378.2L1636.5 379.9L1636.6 381.0L1637.0 383.2L1637.3 385.5L1637.7 387.9L1638.0 389.6L1638.4 391.5L1638.5 392.3L1638.7 392.8L1639.1 394.2L1639.4 394.8L1639.8 395.8L1640.1 396.8L1640.5 397.5L1640.8 397.9L1641.1 398.4L1641.2 398.2L1641.5 397.7L1641.9 397.4L1642.2 397.0L1642.6 396.1L1642.9 395.8L1643.3 395.0L1643.5 395.0L1643.6 394.9L1644.0 394.3L1644.3 394.2L1644.7 394.0L1645.0 393.9L1645.4 393.9L1645.4 393.8L1645.7 393.5L1646.1 393.7L1646.4 393.7L1646.8 393.9L1647.1 394.2L1647.5 394.2L1647.5 394.2L1647.8 392.9L1648.2 389.8L1648.5 385.9L1648.9 381.7L1649.0 379.9L1649.2 377.4L1649.6 372.9L1649.9 368.1L1650.3 362.9L1650.5 360.1L1650.6 359.3L1651.0 354.9L1651.3 351.6L1651.7 348.0L1652.0 345.8L1652.0 346.0L1652.4 344.4L1652.7 342.8L1653.0 342.2L1653.1 342.4L1653.4 342.9L1653.8 343.7L1654.1 344.4L1654.5 345.9L1654.5 345.9L1654.8 347.7L1655.2 350.5L1655.5 353.5L1655.9 358.0L1656.2 361.3L1656.5 365.0L1656.6 365.2L1656.9 369.8L1657.3 375.2L1657.6 380.3L1658.0 385.0L1658.3 388.4L1658.5 389.8L1658.7 390.8L1659.0 393.8L1659.4 395.5L1659.7 396.8L1660.1 398.3L1660.4 399.1L1660.6 399.4L1660.8 399.1L1661.1 398.7L1661.5 398.7L1661.8 398.7L1662.2 398.4L1662.5 398.0L1662.9 397.8L1663.0 398.2L1663.2 398.1L1663.6 397.9L1663.9 398.0L1664.3 398.5L1664.6 398.2L1665.0 398.6L1665.3 398.4L1665.7 398.4L1666.0 398.4L1666.0 398.6L1666.4 398.5L1666.7 397.9L1667.1 397.9L1667.4 396.8L1667.8 395.9L1668.1 395.4L1668.5 394.0L1668.5 394.0L1668.8 392.8L1669.2 390.7L1669.5 387.5L1669.9 384.8L1670.2 381.6L1670.5 380.1L1670.6 379.7L1670.9 377.4L1671.3 374.8L1671.6 372.4L1672.0 370.9L1672.2 369.8L1672.3 369.6L1672.7 369.1L1673.0 368.8L1673.4 368.1L1673.5 368.9L1673.7 368.2L1674.1 368.6L1674.4 369.9L1674.8 370.9L1675.0 372.1L1675.1 372.6L1675.5 374.5L1675.8 377.9L1676.2 381.3L1676.5 385.2L1676.9 388.5L1677.0 390.0L1677.2 391.8L1677.6 395.2L1677.9 398.0L1678.3 401.3L1678.6 404.4L1679.0 406.6L1679.3 409.2L1679.5 409.9L1679.7 410.8L1680.0 412.4L1680.4 413.8L1680.7 415.6L1681.1 416.8L1681.4 417.6L1681.8 418.3L1682.1 418.7L1682.2 418.8L1682.5 418.8L1682.8 418.3L1683.2 418.4L1683.5 418.1L1683.9 417.6L1684.2 417.0L1684.6 416.3L1684.9 416.2L1685.0 415.9L1685.3 415.4L1685.6 415.1L1686.0 413.0L1686.3 411.4L1686.7 410.2L1687.0 407.8L1687.4 405.9L1687.5 405.0L1687.7 403.2L1688.1 400.0L1688.4 395.3L1688.8 390.4L1689.1 385.2L1689.5 380.4L1689.5 379.9L1689.8 376.4L1690.2 371.1L1690.5 366.3L1690.9 361.7L1691.2 357.4L1691.5 355.1L1691.6 354.5L1691.9 351.8L1692.3 349.6L1692.6 348.3L1693.0 347.4L1693.0 347.1L1693.3 346.7L1693.7 345.8L1694.0 345.2L1694.1 346.1L1694.4 346.2L1694.7 346.4L1695.1 348.1L1695.4 349.5L1695.5 350.0L1695.8 351.3L1696.1 354.8L1696.5 358.8L1696.8 362.5L1697.0 365.1L1697.2 366.5L1697.5 371.9L1697.9 376.7L1698.2 380.3L1698.4 380.9L1698.6 379.7L1698.9 374.5L1699.3 368.6L1699.5 366.9L1699.6 367.3L1700.0 371.0L1700.3 377.8L1700.7 384.1L1700.8 385.0L1701.0 385.9L1701.4 387.5L1701.7 389.3L1702.1 390.5L1702.4 391.2L1702.8 392.4L1703.0 393.2L1703.1 393.6L1703.5 394.4L1703.8 395.1L1704.2 395.8L1704.5 397.0L1704.9 397.3L1705.2 398.6L1705.5 399.1L1705.6 399.0L1705.9 399.6L1706.3 400.7L1706.6 401.5L1707.0 402.4L1707.3 403.5L1707.7 404.4L1708.0 404.0L1708.1 404.0L1708.4 404.5L1708.7 403.9L1709.1 403.5L1709.4 402.6L1709.8 402.3L1710.1 401.1L1710.5 400.3L1710.5 400.2L1710.8 399.1L1711.2 396.8L1711.5 394.0L1711.9 391.2L1712.2 387.8L1712.5 384.6L1712.6 384.4L1712.9 379.9L1713.3 375.1L1713.6 369.9L1714.0 365.8L1714.2 363.7L1714.3 363.6L1714.7 361.7L1715.0 360.4L1715.4 358.9L1715.7 358.7L1715.7 358.6L1716.1 359.3L1716.4 360.1L1716.8 361.8L1717.1 363.2L1717.2 364.1L1717.5 365.8L1717.8 369.6L1718.2 374.2L1718.5 379.1L1718.9 383.6L1719.0 385.2L1719.2 387.1L1719.6 390.6L1719.9 394.1L1720.3 397.6L1720.6 400.9L1721.0 403.7L1721.3 405.5L1721.7 406.4L1721.8 406.6L1722.0 406.8L1722.4 406.1L1722.7 405.4L1723.1 404.4L1723.4 403.5L1723.8 402.5L1724.0 402.2L1724.1 401.8L1724.5 400.9L1724.8 400.4L1725.2 399.5L1725.5 399.0L1725.9 398.8L1726.2 397.9L1726.5 398.1L1726.6 397.9L1726.9 398.0L1727.3 397.7L1727.6 397.8L1728.0 397.5L1728.3 397.7L1728.7 397.4L1729.0 397.2L1729.4 397.2L1729.7 397.1L1730.0 397.3L1730.1 396.8L1730.4 396.5L1730.8 396.8L1731.1 396.2L1731.5 395.7L1731.8 395.5L1732.2 395.1L1732.5 394.7L1732.9 394.5L1733.0 393.7L1733.2 392.8L1733.6 388.4L1733.9 381.8L1734.3 374.5L1734.5 370.3L1734.6 367.9L1735.0 359.8L1735.3 351.8L1735.7 345.4L1735.7 344.9L1736.0 342.1L1736.4 339.0L1736.7 338.0L1736.7 337.9L1737.1 339.0L1737.4 340.3L1737.8 342.6L1738.0 345.0L1738.1 345.7L1738.5 349.8L1738.8 353.5L1739.2 358.3L1739.5 363.4L1739.9 368.1L1740.0 370.1L1740.2 372.4L1740.6 377.4L1740.9 382.8L1741.3 387.0L1741.6 391.3L1742.0 394.7L1742.0 395.1L1742.3 397.0L1742.7 399.5L1743.0 401.6L1743.4 403.3L1743.7 404.5L1744.1 405.6L1744.3 405.6L1744.4 405.5L1744.8 405.3L1745.1 403.9L1745.5 402.0L1745.8 400.2L1746.2 398.9L1746.5 398.0L1746.5 398.1L1746.9 397.2L1747.2 396.8L1747.6 395.6L1747.9 394.8L1748.3 394.5L1748.6 394.4L1748.8 394.3L1749.0 394.3L1749.3 395.0L1749.7 395.8L1750.0 396.9L1750.4 397.5L1750.5 398.1L1750.7 398.6L1751.1 399.8L1751.4 401.4L1751.8 402.3L1752.1 403.2L1752.5 403.3L1752.5 403.4L1752.8 403.1L1753.2 401.3L1753.5 398.6L1753.9 396.3L1754.2 393.6L1754.5 392.2L1754.6 391.9L1754.9 390.4L1755.3 388.4L1755.6 386.9L1756.0 385.9L1756.3 385.3L1756.7 384.3L1756.8 384.2L1757.0 384.1L1757.4 384.9L1757.7 385.1L1758.1 385.7L1758.2 386.1L1758.4 386.5L1758.8 388.0L1759.1 389.6L1759.3 390.6" fill="none" stroke="#262626" stroke-width="1.28" stroke-linejoin="round" clip-path="url(#cppgB)"/>
<path d="M88.4 552.6L152.7 556.0L218.2 552.6L252.0 553.7L283.6 557.1L317.5 558.7L351.4 555.5L384.1 557.1L419.5 565.2L454.1 559.3L489.3 562.7L523.9 560.9L576.3 597.0L651.9 620.3L726.4 615.8L787.3 614.4L855.0 614.9" fill="none" stroke="#262626" stroke-width="1.28" stroke-linejoin="round"/>
<path d="M994.1 651.4L1035.1 658.6L1075.8 654.4L1111.9 653.0L1152.5 653.2L1184.1 654.8L1229.3 653.0L1267.7 653.2L1310.5 657.1L1351.2 658.6L1391.4 654.8L1434.3 660.9L1476.1 657.5L1516.7 660.0L1557.4 656.6L1581.1 602.9L1604.8 595.0L1625.1 588.9L1645.4 586.0L1664.6 575.1L1686.0 588.9L1728.9 588.9L1748.6 582.3" fill="none" stroke="#262626" stroke-width="1.28" stroke-linejoin="round"/>
<path d="M88.3 441.0L599.5 441.0L599.5 295.5L855.1 295.5" fill="none" stroke="#8a1a2e" stroke-width="5.4" stroke-dasharray="19.0 19.04" stroke-linejoin="round"/>
<path d="M994.0 441.0L1567.9 441.0L1567.9 295.5L1759.2 295.5" fill="none" stroke="#8a1a2e" stroke-width="5.4" stroke-dasharray="18.96 19.0" stroke-linejoin="round"/>
<path d="M88.3 610.9L855.1 610.9" fill="none" stroke="#3d6db4" stroke-width="5.2" stroke-dasharray="19.0 19.04"/>
<path d="M994.0 606.5L1759.2 606.5" fill="none" stroke="#3d6db4" stroke-width="5.2" stroke-dasharray="18.96 19.0"/>
<defs><clipPath id="nofoot"><path clip-rule="evenodd" d="M0 0H1772V740H0ZM63.36 73.04H70.80V76.60H63.36ZM73.06 73.04H78.19V76.60H73.06ZM499.06 244.84H506.50V248.40H499.06ZM508.76 244.84H513.89V248.40H508.76ZM584.26 244.84H591.70V248.40H584.26ZM593.96 244.84H599.09V248.40H593.96ZM669.46 244.84H676.90V248.40H669.46ZM679.16 244.84H684.29V248.40H679.16ZM754.66 244.84H762.10V248.40H754.66ZM764.36 244.84H769.49V248.40H764.36ZM839.86 244.84H847.30V248.40H839.86ZM849.56 244.84H854.69V248.40H849.56ZM63.36 301.94H70.80V305.50H63.36ZM73.06 301.94H78.19V305.50H73.06ZM499.06 471.94H506.50V475.50H499.06ZM508.76 471.94H513.89V475.50H508.76ZM584.26 471.94H591.70V475.50H584.26ZM593.96 471.94H599.09V475.50H593.96ZM669.46 471.94H676.90V475.50H669.46ZM679.16 471.94H684.29V475.50H679.16ZM754.66 471.94H762.10V475.50H754.66ZM764.36 471.94H769.49V475.50H764.36ZM839.86 471.94H847.30V475.50H839.86ZM849.56 471.94H854.69V475.50H849.56ZM34.89 529.94H42.32V533.50H34.89ZM44.59 529.94H49.71V533.50H44.59ZM499.06 700.14H506.50V703.70H499.06ZM508.76 700.14H513.89V703.70H508.76ZM584.26 700.14H591.70V703.70H584.26ZM593.96 700.14H599.09V703.70H593.96ZM669.46 700.14H676.90V703.70H669.46ZM679.16 700.14H684.29V703.70H679.16ZM754.66 700.14H762.10V703.70H754.66ZM764.36 700.14H769.49V703.70H764.36ZM839.86 700.14H847.30V703.70H839.86ZM849.56 700.14H854.69V703.70H849.56ZM969.06 74.04H976.50V77.60H969.06ZM978.76 74.04H983.89V77.60H978.76ZM1457.01 245.24H1464.45V248.80H1457.01ZM1466.71 245.24H1471.84V248.80H1466.71ZM1552.66 245.24H1560.10V248.80H1552.66ZM1562.36 245.24H1567.49V248.80H1562.36ZM1648.31 245.24H1655.75V248.80H1648.31ZM1658.01 245.24H1663.14V248.80H1658.01ZM1743.96 245.24H1751.40V248.80H1743.96ZM1753.66 245.24H1758.79V248.80H1753.66ZM969.06 301.94H976.50V305.50H969.06ZM978.76 301.94H983.89V305.50H978.76ZM1457.01 471.94H1464.45V475.50H1457.01ZM1466.71 471.94H1471.84V475.50H1466.71ZM1552.66 471.94H1560.10V475.50H1552.66ZM1562.36 471.94H1567.49V475.50H1562.36ZM1648.31 471.94H1655.75V475.50H1648.31ZM1658.01 471.94H1663.14V475.50H1658.01ZM1743.96 471.94H1751.40V475.50H1743.96ZM1753.66 471.94H1758.79V475.50H1753.66ZM940.59 633.77H948.02V637.33H940.59ZM950.29 633.77H955.41V637.33H950.29ZM940.59 581.80H948.02V585.36H940.59ZM950.29 581.80H955.41V585.36H950.29ZM1457.01 699.84H1464.45V703.40H1457.01ZM1466.71 699.84H1471.84V703.40H1466.71ZM1552.66 699.84H1560.10V703.40H1552.66ZM1562.36 699.84H1567.49V703.40H1562.36ZM1648.31 699.84H1655.75V703.40H1648.31ZM1658.01 699.84H1663.14V703.40H1658.01ZM1743.96 699.84H1751.40V703.40H1743.96ZM1753.66 699.84H1758.79V703.40H1753.66Z"/></clipPath></defs>
</svg>
</body></html>
